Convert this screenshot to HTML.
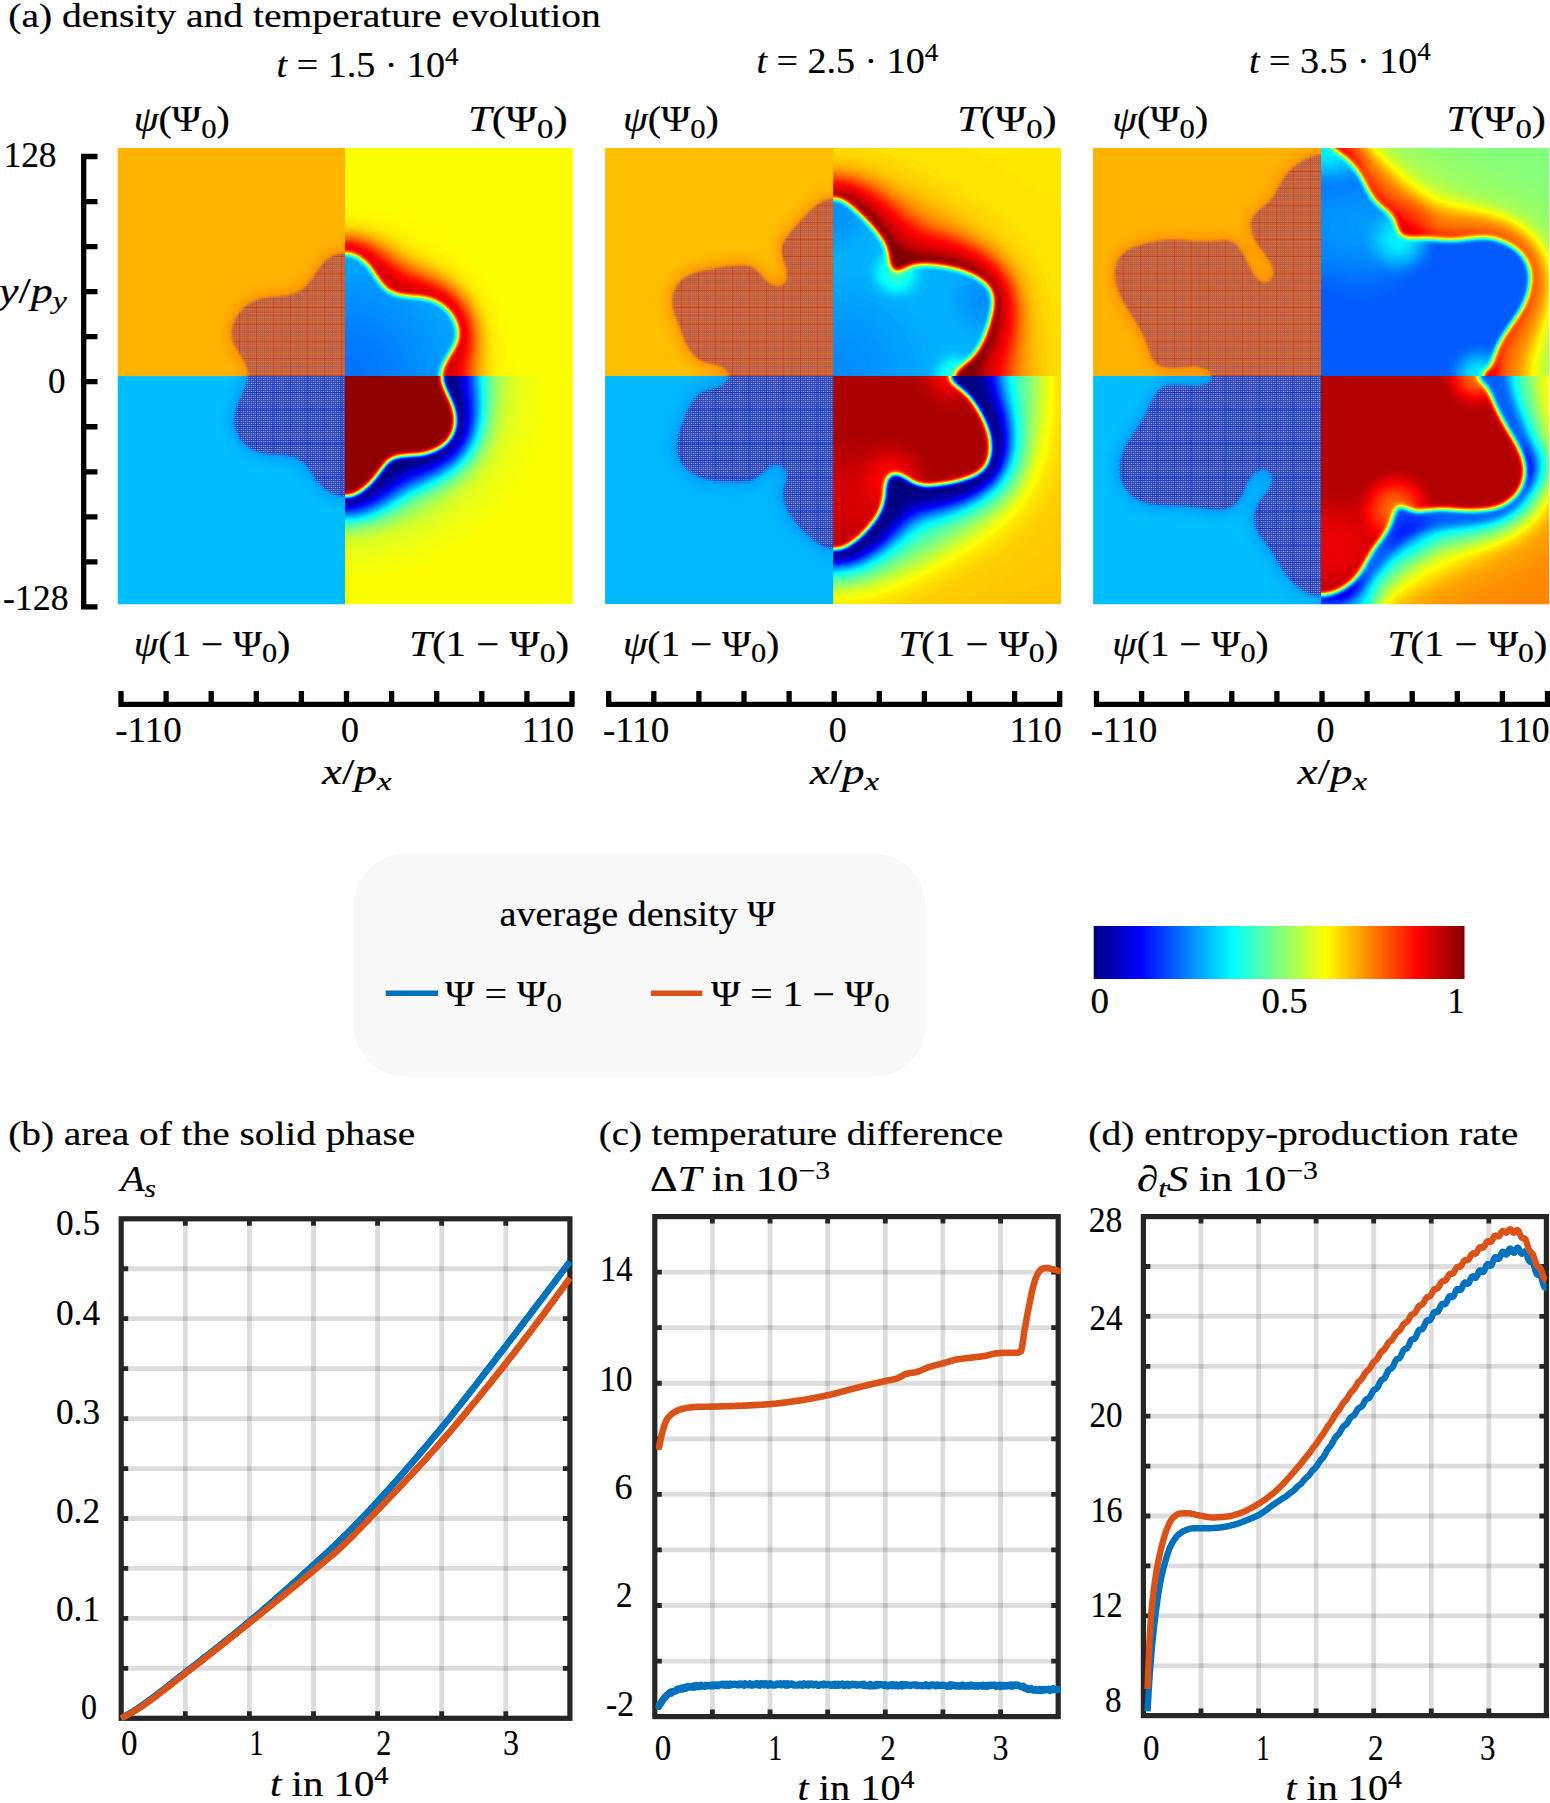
<!DOCTYPE html>
<html lang="en"><head><meta charset="utf-8"><title>density and temperature evolution</title>
<style>html,body{margin:0;padding:0;background:#fff}svg{display:block}text{font-family:'Liberation Serif', 'DejaVu Serif', serif;fill:#000;stroke:#000;stroke-width:0.2px}</style>
</head><body>
<svg width="1550" height="1803" viewBox="0 0 1550 1803">
<rect width="1550" height="1803" fill="#fff"/>
<text x="8.3" y="27" font-size="34" text-anchor="start" textLength="592.5" lengthAdjust="spacingAndGlyphs">(a) density and temperature evolution</text>
<text x="276.6" y="77" font-size="36.5" text-anchor="start" textLength="182" lengthAdjust="spacingAndGlyphs"><tspan font-style="italic">t</tspan> = 1.5 · 10<tspan dy="-12.5" font-size="26">4</tspan><tspan dy="12.5" font-size="1">&#8203;</tspan></text>
<text x="133.8" y="131" font-size="35" text-anchor="start" textLength="96" lengthAdjust="spacingAndGlyphs"><tspan font-style="italic">ψ</tspan>(Ψ<tspan dy="6.5" font-size="27">0</tspan><tspan dy="-6.5" font-size="1">&#8203;</tspan>)</text>
<text x="567.6" y="131" font-size="35" text-anchor="end" textLength="99.5" lengthAdjust="spacingAndGlyphs"><tspan font-style="italic">T</tspan>(Ψ<tspan dy="6.5" font-size="27">0</tspan><tspan dy="-6.5" font-size="1">&#8203;</tspan>)</text>
<text x="133.8" y="655.8" font-size="35" text-anchor="start" textLength="156.5" lengthAdjust="spacingAndGlyphs"><tspan font-style="italic">ψ</tspan>(1 − Ψ<tspan dy="6.5" font-size="27">0</tspan><tspan dy="-6.5" font-size="1">&#8203;</tspan>)</text>
<text x="569.1999999999999" y="655.8" font-size="35" text-anchor="end" textLength="160" lengthAdjust="spacingAndGlyphs"><tspan font-style="italic">T</tspan>(1 − Ψ<tspan dy="6.5" font-size="27">0</tspan><tspan dy="-6.5" font-size="1">&#8203;</tspan>)</text>
<path d="M118.4 704.3H574.6M121.00 704.3V691.0M166.10 704.3V691.0M211.20 704.3V691.0M256.30 704.3V691.0M301.40 704.3V691.0M346.50 704.3V691.0M391.60 704.3V691.0M436.70 704.3V691.0M481.80 704.3V691.0M526.90 704.3V691.0M572.00 704.3V691.0" stroke="#000" stroke-width="5.3" fill="none"/>
<text x="115.2" y="742" font-size="35" text-anchor="start" textLength="66.5" lengthAdjust="spacingAndGlyphs">-110</text>
<text x="341" y="742" font-size="35" text-anchor="start" textLength="18" lengthAdjust="spacingAndGlyphs">0</text>
<text x="574" y="742" font-size="35" text-anchor="end" textLength="52" lengthAdjust="spacingAndGlyphs">110</text>
<text x="322" y="784.4" font-size="35.5" text-anchor="start" textLength="69.5" lengthAdjust="spacingAndGlyphs"><tspan font-style="italic">x</tspan>/<tspan font-style="italic">p</tspan><tspan dy="6" font-size="26" font-style="italic">x</tspan><tspan dy="-6" font-size="1">&#8203;</tspan></text>
<text x="756.4" y="73" font-size="36.5" text-anchor="start" textLength="182" lengthAdjust="spacingAndGlyphs"><tspan font-style="italic">t</tspan> = 2.5 · 10<tspan dy="-12.5" font-size="26">4</tspan><tspan dy="12.5" font-size="1">&#8203;</tspan></text>
<text x="622.9" y="131" font-size="35" text-anchor="start" textLength="96" lengthAdjust="spacingAndGlyphs"><tspan font-style="italic">ψ</tspan>(Ψ<tspan dy="6.5" font-size="27">0</tspan><tspan dy="-6.5" font-size="1">&#8203;</tspan>)</text>
<text x="1056.7" y="131" font-size="35" text-anchor="end" textLength="99.5" lengthAdjust="spacingAndGlyphs"><tspan font-style="italic">T</tspan>(Ψ<tspan dy="6.5" font-size="27">0</tspan><tspan dy="-6.5" font-size="1">&#8203;</tspan>)</text>
<text x="622.9" y="655.8" font-size="35" text-anchor="start" textLength="156.5" lengthAdjust="spacingAndGlyphs"><tspan font-style="italic">ψ</tspan>(1 − Ψ<tspan dy="6.5" font-size="27">0</tspan><tspan dy="-6.5" font-size="1">&#8203;</tspan>)</text>
<text x="1058.3" y="655.8" font-size="35" text-anchor="end" textLength="160" lengthAdjust="spacingAndGlyphs"><tspan font-style="italic">T</tspan>(1 − Ψ<tspan dy="6.5" font-size="27">0</tspan><tspan dy="-6.5" font-size="1">&#8203;</tspan>)</text>
<path d="M606.1 704.3H1062.3M608.70 704.3V691.0M653.80 704.3V691.0M698.90 704.3V691.0M744.00 704.3V691.0M789.10 704.3V691.0M834.20 704.3V691.0M879.30 704.3V691.0M924.40 704.3V691.0M969.50 704.3V691.0M1014.60 704.3V691.0M1059.70 704.3V691.0" stroke="#000" stroke-width="5.3" fill="none"/>
<text x="602.9" y="742" font-size="35" text-anchor="start" textLength="66.5" lengthAdjust="spacingAndGlyphs">-110</text>
<text x="828.7" y="742" font-size="35" text-anchor="start" textLength="18" lengthAdjust="spacingAndGlyphs">0</text>
<text x="1061.7" y="742" font-size="35" text-anchor="end" textLength="52" lengthAdjust="spacingAndGlyphs">110</text>
<text x="809.7" y="784.4" font-size="35.5" text-anchor="start" textLength="69.5" lengthAdjust="spacingAndGlyphs"><tspan font-style="italic">x</tspan>/<tspan font-style="italic">p</tspan><tspan dy="6" font-size="26" font-style="italic">x</tspan><tspan dy="-6" font-size="1">&#8203;</tspan></text>
<text x="1248.9" y="72.6" font-size="36.5" text-anchor="start" textLength="182" lengthAdjust="spacingAndGlyphs"><tspan font-style="italic">t</tspan> = 3.5 · 10<tspan dy="-12.5" font-size="26">4</tspan><tspan dy="12.5" font-size="1">&#8203;</tspan></text>
<text x="1112.2" y="131" font-size="35" text-anchor="start" textLength="96" lengthAdjust="spacingAndGlyphs"><tspan font-style="italic">ψ</tspan>(Ψ<tspan dy="6.5" font-size="27">0</tspan><tspan dy="-6.5" font-size="1">&#8203;</tspan>)</text>
<text x="1545.9" y="131" font-size="35" text-anchor="end" textLength="99.5" lengthAdjust="spacingAndGlyphs"><tspan font-style="italic">T</tspan>(Ψ<tspan dy="6.5" font-size="27">0</tspan><tspan dy="-6.5" font-size="1">&#8203;</tspan>)</text>
<text x="1112.2" y="655.8" font-size="35" text-anchor="start" textLength="156.5" lengthAdjust="spacingAndGlyphs"><tspan font-style="italic">ψ</tspan>(1 − Ψ<tspan dy="6.5" font-size="27">0</tspan><tspan dy="-6.5" font-size="1">&#8203;</tspan>)</text>
<text x="1547.5" y="655.8" font-size="35" text-anchor="end" textLength="160" lengthAdjust="spacingAndGlyphs"><tspan font-style="italic">T</tspan>(1 − Ψ<tspan dy="6.5" font-size="27">0</tspan><tspan dy="-6.5" font-size="1">&#8203;</tspan>)</text>
<path d="M1093.9 704.3H1550.1M1096.50 704.3V691.0M1141.60 704.3V691.0M1186.70 704.3V691.0M1231.80 704.3V691.0M1276.90 704.3V691.0M1322.00 704.3V691.0M1367.10 704.3V691.0M1412.20 704.3V691.0M1457.30 704.3V691.0M1502.40 704.3V691.0M1547.50 704.3V691.0" stroke="#000" stroke-width="5.3" fill="none"/>
<text x="1090.7" y="742" font-size="35" text-anchor="start" textLength="66.5" lengthAdjust="spacingAndGlyphs">-110</text>
<text x="1316.5" y="742" font-size="35" text-anchor="start" textLength="18" lengthAdjust="spacingAndGlyphs">0</text>
<text x="1549.5" y="742" font-size="35" text-anchor="end" textLength="52" lengthAdjust="spacingAndGlyphs">110</text>
<text x="1297.5" y="784.4" font-size="35.5" text-anchor="start" textLength="69.5" lengthAdjust="spacingAndGlyphs"><tspan font-style="italic">x</tspan>/<tspan font-style="italic">p</tspan><tspan dy="6" font-size="26" font-style="italic">x</tspan><tspan dy="-6" font-size="1">&#8203;</tspan></text>
<path d="M83.7 153.85V609.55M83.7 156.50H97.5M83.7 201.54H97.5M83.7 246.58H97.5M83.7 291.62H97.5M83.7 336.66H97.5M83.7 381.70H97.5M83.7 426.74H97.5M83.7 471.78H97.5M83.7 516.82H97.5M83.7 561.86H97.5M83.7 606.90H97.5" stroke="#000" stroke-width="5.3" fill="none"/>
<text x="3.5" y="167" font-size="35" text-anchor="start" textLength="53" lengthAdjust="spacingAndGlyphs">128</text>
<text x="48" y="392.5" font-size="36" text-anchor="start" textLength="17.5" lengthAdjust="spacingAndGlyphs">0</text>
<text x="3" y="610" font-size="35" text-anchor="start" textLength="65.5" lengthAdjust="spacingAndGlyphs">-128</text>
<text x="-1" y="302.5" font-size="36" text-anchor="start" textLength="68" lengthAdjust="spacingAndGlyphs"><tspan font-style="italic">y</tspan>/<tspan font-style="italic">p</tspan><tspan dy="6" font-size="26" font-style="italic">y</tspan><tspan dy="-6" font-size="1">&#8203;</tspan></text>
<defs>
<pattern id="pto" x="0" y="0" width="4" height="4" patternUnits="userSpaceOnUse"><rect width="4" height="4" fill="#e6541a"/><rect x="1" y="1" width="1" height="1" fill="#5f9fb8"/><rect x="3" y="3" width="1" height="1" fill="#5a8fc0"/><rect x="3" y="1" width="1" height="1" fill="#a98a6a"/><rect x="1" y="3" width="1" height="1" fill="#9a7f80"/><rect x="0" y="1" width="1" height="1" fill="#dc6228"/><rect x="2" y="1" width="1" height="1" fill="#dc6228"/><rect x="0" y="3" width="1" height="1" fill="#d85a2c"/><rect x="2" y="3" width="1" height="1" fill="#d85a2c"/></pattern>
<pattern id="ptb" x="0" y="0" width="4" height="4" patternUnits="userSpaceOnUse"><rect width="4" height="4" fill="#1742dc"/><rect x="1" y="1" width="1" height="1" fill="#d89a58"/><rect x="3" y="3" width="1" height="1" fill="#cfa070"/><rect x="3" y="1" width="1" height="1" fill="#7f7fa8"/><rect x="1" y="3" width="1" height="1" fill="#6f86b0"/><rect x="0" y="1" width="1" height="1" fill="#3560d4"/><rect x="2" y="1" width="1" height="1" fill="#3560d4"/><rect x="0" y="3" width="1" height="1" fill="#2f58d8"/><rect x="2" y="3" width="1" height="1" fill="#2f58d8"/></pattern>
<pattern id="moi" x="1" y="1" width="17" height="17" patternUnits="userSpaceOnUse"><rect x="0" y="0" width="1" height="17" fill="#b01010" fill-opacity="0.28"/><rect x="0" y="0" width="17" height="1" fill="#b01010" fill-opacity="0.28"/><rect x="8" y="0" width="1" height="17" fill="#3060c0" fill-opacity="0.16"/><rect x="0" y="8" width="17" height="1" fill="#3060c0" fill-opacity="0.16"/></pattern>
<pattern id="moib" x="1" y="1" width="17" height="17" patternUnits="userSpaceOnUse"><rect x="0" y="0" width="1" height="17" fill="#0010c0" fill-opacity="0.30"/><rect x="0" y="0" width="17" height="1" fill="#0010c0" fill-opacity="0.30"/><rect x="8" y="0" width="1" height="17" fill="#c08040" fill-opacity="0.14"/><rect x="0" y="8" width="17" height="1" fill="#c08040" fill-opacity="0.14"/></pattern>
<filter id="bl1" x="-10%" y="-10%" width="120%" height="120%"><feGaussianBlur stdDeviation="1.3"/></filter>
<filter id="bl5" x="-20%" y="-20%" width="140%" height="140%"><feGaussianBlur stdDeviation="7"/></filter>
<radialGradient id="bgg1"><stop offset="0" stop-color="rgb(0,26,0)"/><stop offset="0.35" stop-color="rgb(0,26,0)" stop-opacity="0.8"/><stop offset="1" stop-color="rgb(0,26,0)" stop-opacity="0"/></radialGradient>
<radialGradient id="bgg2"><stop offset="0" stop-color="rgb(0,51,0)"/><stop offset="0.35" stop-color="rgb(0,51,0)" stop-opacity="0.8"/><stop offset="1" stop-color="rgb(0,51,0)" stop-opacity="0"/></radialGradient>
<radialGradient id="bgg3"><stop offset="0" stop-color="rgb(0,76,0)"/><stop offset="0.35" stop-color="rgb(0,76,0)" stop-opacity="0.8"/><stop offset="1" stop-color="rgb(0,76,0)" stop-opacity="0"/></radialGradient>
<radialGradient id="bgg4"><stop offset="0" stop-color="rgb(0,102,0)"/><stop offset="0.35" stop-color="rgb(0,102,0)" stop-opacity="0.8"/><stop offset="1" stop-color="rgb(0,102,0)" stop-opacity="0"/></radialGradient>
<radialGradient id="bgg5"><stop offset="0" stop-color="rgb(0,128,0)"/><stop offset="0.35" stop-color="rgb(0,128,0)" stop-opacity="0.8"/><stop offset="1" stop-color="rgb(0,128,0)" stop-opacity="0"/></radialGradient>
<radialGradient id="bgg6"><stop offset="0" stop-color="rgb(0,153,0)"/><stop offset="0.35" stop-color="rgb(0,153,0)" stop-opacity="0.8"/><stop offset="1" stop-color="rgb(0,153,0)" stop-opacity="0"/></radialGradient>
<radialGradient id="bgg7"><stop offset="0" stop-color="rgb(0,178,0)"/><stop offset="0.35" stop-color="rgb(0,178,0)" stop-opacity="0.8"/><stop offset="1" stop-color="rgb(0,178,0)" stop-opacity="0"/></radialGradient>
<radialGradient id="bgg8"><stop offset="0" stop-color="rgb(0,204,0)"/><stop offset="0.35" stop-color="rgb(0,204,0)" stop-opacity="0.8"/><stop offset="1" stop-color="rgb(0,204,0)" stop-opacity="0"/></radialGradient>
<radialGradient id="bgg9"><stop offset="0" stop-color="rgb(0,230,0)"/><stop offset="0.35" stop-color="rgb(0,230,0)" stop-opacity="0.8"/><stop offset="1" stop-color="rgb(0,230,0)" stop-opacity="0"/></radialGradient>
<radialGradient id="bgg10"><stop offset="0" stop-color="rgb(0,255,0)"/><stop offset="0.35" stop-color="rgb(0,255,0)" stop-opacity="0.8"/><stop offset="1" stop-color="rgb(0,255,0)" stop-opacity="0"/></radialGradient>
<radialGradient id="bgb1"><stop offset="0" stop-color="rgb(0,0,26)"/><stop offset="0.35" stop-color="rgb(0,0,26)" stop-opacity="0.8"/><stop offset="1" stop-color="rgb(0,0,26)" stop-opacity="0"/></radialGradient>
<radialGradient id="bgb2"><stop offset="0" stop-color="rgb(0,0,51)"/><stop offset="0.35" stop-color="rgb(0,0,51)" stop-opacity="0.8"/><stop offset="1" stop-color="rgb(0,0,51)" stop-opacity="0"/></radialGradient>
<radialGradient id="bgb3"><stop offset="0" stop-color="rgb(0,0,76)"/><stop offset="0.35" stop-color="rgb(0,0,76)" stop-opacity="0.8"/><stop offset="1" stop-color="rgb(0,0,76)" stop-opacity="0"/></radialGradient>
<radialGradient id="bgb4"><stop offset="0" stop-color="rgb(0,0,102)"/><stop offset="0.35" stop-color="rgb(0,0,102)" stop-opacity="0.8"/><stop offset="1" stop-color="rgb(0,0,102)" stop-opacity="0"/></radialGradient>
<radialGradient id="bgb5"><stop offset="0" stop-color="rgb(0,0,128)"/><stop offset="0.35" stop-color="rgb(0,0,128)" stop-opacity="0.8"/><stop offset="1" stop-color="rgb(0,0,128)" stop-opacity="0"/></radialGradient>
<radialGradient id="bgb6"><stop offset="0" stop-color="rgb(0,0,153)"/><stop offset="0.35" stop-color="rgb(0,0,153)" stop-opacity="0.8"/><stop offset="1" stop-color="rgb(0,0,153)" stop-opacity="0"/></radialGradient>
<radialGradient id="bgb7"><stop offset="0" stop-color="rgb(0,0,178)"/><stop offset="0.35" stop-color="rgb(0,0,178)" stop-opacity="0.8"/><stop offset="1" stop-color="rgb(0,0,178)" stop-opacity="0"/></radialGradient>
<radialGradient id="bgb8"><stop offset="0" stop-color="rgb(0,0,204)"/><stop offset="0.35" stop-color="rgb(0,0,204)" stop-opacity="0.8"/><stop offset="1" stop-color="rgb(0,0,204)" stop-opacity="0"/></radialGradient>
<radialGradient id="bgb9"><stop offset="0" stop-color="rgb(0,0,230)"/><stop offset="0.35" stop-color="rgb(0,0,230)" stop-opacity="0.8"/><stop offset="1" stop-color="rgb(0,0,230)" stop-opacity="0"/></radialGradient>
<radialGradient id="bgb10"><stop offset="0" stop-color="rgb(0,0,255)"/><stop offset="0.35" stop-color="rgb(0,0,255)" stop-opacity="0.8"/><stop offset="1" stop-color="rgb(0,0,255)" stop-opacity="0"/></radialGradient>
<path id="s0Tt" d="M345.0 252.9C346.5 253.0 348.0 253.1 349.4 253.4C350.9 253.7 352.4 254.2 353.8 254.7C355.3 255.2 356.7 255.9 358.0 256.6C359.4 257.4 360.7 258.2 361.9 259.2C363.2 260.1 364.4 261.1 365.5 262.1C366.6 263.2 367.6 264.3 368.6 265.4C369.6 266.6 370.5 267.8 371.4 269.1C372.3 270.3 373.1 271.6 374.0 272.9C374.9 274.3 375.8 275.6 376.7 277.0C377.6 278.3 378.5 279.7 379.5 281.0C380.4 282.3 381.4 283.6 382.5 284.8C383.5 286.0 384.6 287.2 385.7 288.2C386.9 289.2 388.0 290.1 389.3 290.8C390.5 291.6 391.8 292.2 393.1 292.8C394.5 293.3 395.9 293.8 397.3 294.2C398.7 294.6 400.1 294.8 401.6 295.1C403.1 295.4 404.6 295.6 406.1 295.7C407.6 295.9 409.2 296.0 410.7 296.2C412.2 296.3 413.8 296.4 415.4 296.6C416.9 296.7 418.5 296.9 420.0 297.0C421.6 297.2 423.2 297.4 424.7 297.7C426.2 298.0 427.7 298.3 429.2 298.7C430.7 299.1 432.2 299.6 433.7 300.2C435.1 300.8 436.5 301.4 437.9 302.2C439.3 303.0 440.6 303.8 441.9 304.7C443.2 305.7 444.4 306.7 445.6 307.7C446.7 308.8 447.9 309.9 448.9 311.1C449.9 312.2 450.9 313.5 451.8 314.8C452.7 316.0 453.5 317.4 454.2 318.7C455.0 320.1 455.6 321.4 456.1 322.8C456.7 324.3 457.1 325.7 457.4 327.1C457.8 328.6 458.0 330.0 458.1 331.5C458.2 332.9 458.2 334.4 458.1 335.9C457.9 337.3 457.6 338.7 457.2 340.2C456.9 341.6 456.3 343.0 455.7 344.4C455.1 345.8 454.3 347.2 453.6 348.6C452.8 350.0 452.0 351.3 451.2 352.7C450.3 354.1 449.4 355.5 448.6 356.9C447.8 358.3 446.9 359.7 446.2 361.1C445.4 362.5 444.6 363.9 444.0 365.3C443.4 366.8 442.8 368.2 442.4 369.7C442.0 371.1 441.6 372.6 441.5 374.0C441.3 375.5 441.3 376.9 441.5 378.4C441.7 379.8 442.0 381.2 442.4 382.6C442.9 384.0 443.5 385.4 444.1 386.8C444.7 388.2 445.5 389.6 446.3 391.0C447.0 392.4 447.9 393.7 448.7 395.1C449.6 396.5 450.4 397.9 451.3 399.3C452.1 400.6 452.9 402.0 453.7 403.4C454.4 404.8 455.2 406.2 455.8 407.7C456.4 409.1 456.9 410.5 457.3 411.9C457.7 413.4 457.9 414.9 458.1 416.3C458.2 417.8 458.2 419.3 458.1 420.7C458.0 422.2 457.7 423.7 457.4 425.1C457.1 426.6 456.6 428.0 456.1 429.5C455.5 430.9 454.9 432.3 454.1 433.6C453.4 435.0 452.6 436.3 451.7 437.6C450.8 438.9 449.8 440.1 448.8 441.3C447.7 442.5 446.6 443.6 445.4 444.7C444.3 445.7 443.0 446.7 441.8 447.6C440.5 448.5 439.2 449.4 437.8 450.1C436.5 450.8 435.0 451.5 433.6 452.1C432.2 452.6 430.7 453.1 429.3 453.4C427.8 453.8 426.3 454.1 424.8 454.4C423.3 454.6 421.7 454.8 420.2 455.0C418.7 455.1 417.1 455.2 415.6 455.4C414.0 455.5 412.5 455.6 410.9 455.7C409.4 455.9 407.8 456.0 406.3 456.2C404.8 456.4 403.2 456.6 401.7 457.0C400.2 457.3 398.7 457.6 397.3 458.1C395.8 458.5 394.4 459.0 393.0 459.6C391.6 460.2 390.3 460.9 389.0 461.7C387.8 462.5 386.6 463.4 385.5 464.3C384.3 465.3 383.3 466.4 382.3 467.5C381.3 468.7 380.4 469.9 379.5 471.1C378.6 472.4 377.7 473.7 376.8 475.0C375.9 476.3 375.1 477.6 374.2 478.9C373.3 480.3 372.5 481.6 371.5 482.9C370.6 484.2 369.7 485.5 368.7 486.7C367.6 487.9 366.6 489.1 365.5 490.2C364.3 491.3 363.1 492.3 361.9 493.2C360.6 494.1 359.3 495.0 358.0 495.7C356.6 496.5 355.2 497.1 353.8 497.6C352.4 498.1 350.9 498.6 349.4 498.8C348.0 499.1 346.5 499.2 345.0 499.2C343.5 499.2 342.0 499.0 340.6 498.8C339.1 498.5 337.6 498.0 336.2 497.5C334.8 497.0 333.3 496.3 332.0 495.6C330.6 494.8 329.3 494.0 328.1 493.1C326.8 492.2 325.6 491.2 324.5 490.1C323.4 489.0 322.4 487.9 321.4 486.7C320.4 485.6 319.5 484.4 318.6 483.1C317.7 481.8 316.9 480.5 316.0 479.2C315.1 477.9 314.2 476.5 313.3 475.2C312.4 473.8 311.5 472.4 310.5 471.2C309.6 469.9 308.6 468.6 307.5 467.4C306.5 466.2 305.4 465.1 304.3 464.1C303.1 463.1 302.0 462.2 300.7 461.5C299.5 460.7 298.2 460.1 296.9 459.5C295.5 458.9 294.1 458.5 292.7 458.1C291.3 457.7 289.9 457.4 288.4 457.1C286.9 456.8 285.4 456.6 283.9 456.4C282.4 456.2 280.8 456.1 279.3 455.9C277.8 455.8 276.2 455.7 274.6 455.5C273.1 455.3 271.5 455.2 270.0 455.0C268.4 454.8 266.8 454.6 265.3 454.3C263.8 454.0 262.3 453.7 260.8 453.3C259.3 452.9 257.8 452.5 256.3 451.9C254.9 451.3 253.5 450.7 252.1 449.9C250.7 449.2 249.4 448.4 248.1 447.5C246.8 446.6 245.6 445.6 244.4 444.6C243.3 443.6 242.2 442.5 241.1 441.3C240.1 440.2 239.1 439.0 238.2 437.7C237.3 436.4 236.5 435.1 235.8 433.8C235.0 432.4 234.4 431.0 233.9 429.6C233.3 428.1 232.9 426.7 232.5 425.2C232.2 423.7 232.0 422.2 231.9 420.7C231.8 419.2 231.8 417.7 231.9 416.2C232.1 414.7 232.3 413.2 232.7 411.8C233.1 410.3 233.7 408.9 234.3 407.5C234.9 406.1 235.7 404.8 236.5 403.4C237.2 402.1 238.1 400.7 238.9 399.4C239.8 398.0 240.7 396.7 241.5 395.3C242.3 394.0 243.2 392.6 243.9 391.2C244.7 389.8 245.4 388.4 246.0 387.0C246.6 385.6 247.2 384.1 247.6 382.7C248.0 381.2 248.3 379.7 248.4 378.3C248.5 376.8 248.5 375.3 248.4 373.9C248.2 372.4 247.9 371.0 247.5 369.6C247.1 368.1 246.6 366.7 246.0 365.3C245.4 363.9 244.6 362.5 243.9 361.1C243.2 359.7 242.3 358.3 241.5 356.9C240.7 355.5 239.8 354.2 239.0 352.8C238.1 351.4 237.3 350.1 236.5 348.7C235.7 347.3 235.0 345.9 234.3 344.5C233.7 343.1 233.1 341.7 232.7 340.3C232.3 338.9 232.0 337.4 231.9 336.0C231.7 334.5 231.7 333.0 231.8 331.5C231.9 330.1 232.1 328.6 232.5 327.1C232.8 325.7 233.3 324.2 233.8 322.8C234.4 321.4 235.0 319.9 235.7 318.6C236.5 317.2 237.3 315.9 238.2 314.6C239.1 313.3 240.1 312.0 241.2 310.9C242.2 309.7 243.4 308.6 244.6 307.5C245.8 306.5 247.0 305.5 248.3 304.6C249.6 303.7 250.9 302.8 252.3 302.1C253.7 301.3 255.1 300.7 256.5 300.1C257.9 299.6 259.4 299.1 260.8 298.7C262.3 298.4 263.8 298.1 265.3 297.8C266.8 297.6 268.3 297.4 269.8 297.3C271.4 297.1 272.9 297.0 274.4 296.8C276.0 296.7 277.5 296.6 279.0 296.5C280.6 296.3 282.1 296.2 283.6 296.0C285.2 295.8 286.7 295.6 288.2 295.3C289.7 294.9 291.2 294.6 292.7 294.1C294.2 293.7 295.6 293.2 297.0 292.6C298.4 291.9 299.7 291.3 301.0 290.5C302.2 289.7 303.4 288.8 304.6 287.8C305.7 286.9 306.7 285.8 307.7 284.7C308.7 283.5 309.6 282.3 310.6 281.1C311.5 279.8 312.3 278.5 313.2 277.2C314.1 275.9 314.9 274.6 315.8 273.3C316.7 272.0 317.5 270.6 318.5 269.3C319.4 268.0 320.3 266.8 321.3 265.5C322.3 264.3 323.4 263.1 324.5 262.1C325.6 261.0 326.9 259.9 328.1 259.0C329.4 258.1 330.7 257.2 332.0 256.5C333.4 255.7 334.8 255.1 336.2 254.5C337.6 254.0 339.1 253.6 340.5 253.3C342.0 253.1 343.5 252.9 345.0 252.9Z"/>
<path id="s0Tb" d="M345.1 255.8C346.6 255.8 348.1 255.9 349.5 256.1C351.0 256.4 352.4 256.7 353.8 257.2C355.2 257.7 356.6 258.2 357.9 258.9C359.2 259.5 360.5 260.3 361.8 261.1C363.1 261.9 364.3 262.9 365.5 263.8C366.6 264.8 367.8 265.8 368.8 266.9C369.9 268.0 370.9 269.2 371.9 270.4C372.9 271.6 373.8 272.8 374.7 274.1C375.6 275.3 376.4 276.6 377.3 277.9C378.2 279.1 379.0 280.4 379.9 281.6C380.8 282.8 381.7 284.1 382.7 285.2C383.7 286.3 384.7 287.4 385.8 288.4C386.8 289.4 388.0 290.3 389.2 291.2C390.4 292.0 391.6 292.8 392.9 293.4C394.2 294.1 395.6 294.7 396.9 295.2C398.3 295.6 399.7 296.0 401.2 296.3C402.6 296.6 404.1 296.8 405.6 296.9C407.1 297.1 408.6 297.1 410.1 297.2C411.6 297.3 413.2 297.4 414.7 297.4C416.2 297.5 417.8 297.6 419.3 297.8C420.9 297.9 422.4 298.1 423.9 298.4C425.4 298.7 427.0 299.0 428.4 299.4C429.9 299.8 431.4 300.2 432.8 300.8C434.2 301.3 435.6 301.9 437.0 302.5C438.3 303.2 439.6 303.9 440.9 304.7C442.1 305.6 443.3 306.4 444.4 307.4C445.5 308.3 446.6 309.4 447.6 310.5C448.5 311.6 449.5 312.7 450.3 314.0C451.1 315.2 451.8 316.6 452.5 318.0C453.1 319.3 453.6 320.8 454.1 322.2C454.5 323.7 454.9 325.2 455.2 326.7C455.4 328.2 455.6 329.7 455.6 331.2C455.6 332.7 455.6 334.2 455.4 335.6C455.3 337.1 455.0 338.5 454.6 340.0C454.3 341.4 453.9 342.9 453.4 344.3C452.9 345.7 452.4 347.2 451.8 348.6C451.2 350.0 450.6 351.4 450.0 352.9C449.4 354.3 448.7 355.7 448.0 357.1C447.4 358.6 446.7 360.0 446.1 361.4C445.5 362.8 444.9 364.3 444.4 365.7C443.9 367.1 443.5 368.5 443.1 369.9C442.8 371.3 442.5 372.8 442.4 374.1C442.2 375.5 442.2 376.9 442.3 378.3C442.5 379.7 442.7 381.1 443.1 382.4C443.4 383.8 443.9 385.1 444.4 386.5C444.9 387.9 445.5 389.2 446.1 390.6C446.7 392.0 447.3 393.4 448.0 394.7C448.7 396.1 449.4 397.5 450.0 399.0C450.7 400.4 451.3 401.8 451.9 403.2C452.5 404.7 453.1 406.2 453.5 407.7C454.0 409.2 454.4 410.7 454.7 412.2C455.0 413.8 455.2 415.3 455.4 416.9C455.5 418.4 455.5 420.0 455.5 421.5C455.4 423.0 455.3 424.6 455.1 426.0C454.8 427.5 454.5 429.0 454.0 430.4C453.6 431.7 453.0 433.1 452.4 434.4C451.8 435.6 451.1 436.9 450.2 438.0C449.4 439.2 448.5 440.3 447.6 441.4C446.6 442.4 445.6 443.4 444.5 444.4C443.4 445.3 442.2 446.2 441.0 447.0C439.7 447.9 438.4 448.6 437.1 449.3C435.8 450.0 434.4 450.7 433.0 451.2C431.6 451.8 430.1 452.3 428.6 452.8C427.1 453.2 425.6 453.6 424.0 453.9C422.5 454.2 420.9 454.5 419.4 454.7C417.8 454.9 416.2 455.0 414.6 455.1C413.0 455.2 411.5 455.3 409.9 455.4C408.3 455.5 406.8 455.5 405.3 455.7C403.7 455.8 402.2 455.9 400.8 456.2C399.4 456.4 397.9 456.6 396.6 457.0C395.3 457.4 394.0 457.9 392.7 458.5C391.5 459.1 390.4 459.8 389.3 460.6C388.2 461.5 387.2 462.5 386.2 463.6C385.2 464.6 384.3 465.8 383.4 467.0C382.4 468.2 381.5 469.4 380.6 470.7C379.6 472.0 378.7 473.3 377.7 474.5C376.8 475.8 375.8 477.1 374.8 478.3C373.7 479.5 372.7 480.7 371.6 481.9C370.5 483.0 369.4 484.2 368.3 485.3C367.2 486.3 366.0 487.4 364.8 488.3C363.6 489.3 362.4 490.2 361.2 491.0C360.0 491.8 358.7 492.6 357.4 493.3C356.2 493.9 354.9 494.5 353.5 494.9C352.2 495.4 350.9 495.8 349.5 496.0C348.1 496.3 346.7 496.4 345.3 496.4C343.9 496.4 342.5 496.3 341.1 496.1C339.6 495.8 338.2 495.5 336.7 495.0C335.3 494.6 333.9 494.0 332.5 493.3C331.1 492.7 329.7 491.9 328.4 491.1C327.0 490.3 325.7 489.4 324.5 488.4C323.2 487.4 322.0 486.4 320.9 485.3C319.8 484.2 318.7 483.0 317.7 481.8C316.7 480.6 315.8 479.4 315.0 478.1C314.1 476.9 313.3 475.6 312.5 474.3C311.6 473.1 310.8 471.8 310.0 470.6C309.1 469.3 308.3 468.1 307.3 467.0C306.4 465.9 305.4 464.8 304.4 463.8C303.3 462.8 302.1 461.9 300.9 461.0C299.7 460.2 298.5 459.4 297.2 458.8C295.9 458.1 294.5 457.5 293.1 457.0C291.7 456.6 290.3 456.2 288.8 455.9C287.4 455.6 285.9 455.4 284.4 455.3C282.9 455.1 281.4 455.1 279.9 455.0C278.3 454.9 276.8 454.8 275.3 454.8C273.7 454.7 272.2 454.6 270.7 454.4C269.1 454.3 267.6 454.1 266.1 453.8C264.5 453.5 263.0 453.2 261.6 452.8C260.1 452.4 258.6 452.0 257.2 451.4C255.8 450.9 254.4 450.3 253.0 449.7C251.7 449.0 250.4 448.3 249.1 447.5C247.9 446.6 246.7 445.8 245.6 444.8C244.5 443.9 243.4 442.8 242.4 441.7C241.5 440.6 240.6 439.5 239.7 438.2C238.9 437.0 238.2 435.6 237.5 434.2C236.9 432.9 236.4 431.4 235.9 430.0C235.5 428.5 235.1 427.0 234.8 425.5C234.6 424.0 234.4 422.5 234.4 421.0C234.4 419.5 234.4 418.0 234.6 416.6C234.7 415.1 235.0 413.7 235.4 412.2C235.7 410.8 236.1 409.3 236.6 407.9C237.1 406.5 237.6 405.0 238.2 403.6C238.8 402.2 239.4 400.8 240.0 399.3C240.6 397.9 241.3 396.5 242.0 395.1C242.6 393.6 243.3 392.2 243.9 390.8C244.5 389.4 245.1 387.9 245.6 386.5C246.1 385.1 246.5 383.7 246.9 382.3C247.2 380.9 247.5 379.4 247.6 378.0C247.8 376.7 247.8 375.3 247.6 373.9C247.5 372.5 247.3 371.1 246.9 369.8C246.6 368.4 246.1 367.1 245.6 365.7C245.1 364.3 244.6 363.0 244.0 361.6C243.4 360.2 242.7 358.8 242.0 357.5C241.4 356.1 240.7 354.7 240.0 353.3C239.4 351.8 238.7 350.4 238.1 349.0C237.5 347.5 237.0 346.0 236.5 344.5C236.0 343.0 235.6 341.5 235.3 340.0C235.0 338.4 234.8 336.9 234.6 335.3C234.5 333.8 234.4 332.2 234.5 330.7C234.5 329.1 234.6 327.6 234.9 326.1C235.1 324.7 235.5 323.2 235.9 321.8C236.3 320.4 236.9 319.1 237.5 317.8C238.2 316.5 238.9 315.3 239.7 314.2C240.5 313.0 241.5 311.9 242.4 310.8C243.4 309.8 244.5 308.8 245.6 307.8C246.7 306.9 247.9 306.0 249.1 305.2C250.4 304.4 251.7 303.6 253.0 302.9C254.3 302.2 255.7 301.6 257.1 301.0C258.6 300.4 260.0 299.9 261.5 299.4C263.0 299.0 264.5 298.6 266.0 298.3C267.6 298.0 269.1 297.7 270.7 297.5C272.2 297.3 273.8 297.2 275.3 297.1C276.9 297.0 278.4 296.9 280.0 296.8C281.5 296.7 283.0 296.7 284.5 296.5C286.0 296.4 287.5 296.3 288.9 296.0C290.4 295.8 291.8 295.5 293.1 295.2C294.5 294.8 295.8 294.3 297.1 293.7C298.4 293.1 299.6 292.4 300.8 291.5C301.9 290.7 303.0 289.7 304.1 288.7C305.2 287.6 306.2 286.4 307.2 285.2C308.2 284.1 309.1 282.8 310.0 281.5C311.0 280.3 311.9 279.0 312.8 277.7C313.7 276.4 314.6 275.2 315.5 273.9C316.4 272.7 317.3 271.5 318.3 270.3C319.2 269.2 320.2 268.0 321.2 266.9C322.2 265.9 323.3 264.8 324.4 263.9C325.5 262.9 326.7 262.0 328.0 261.2C329.2 260.3 330.6 259.6 331.9 258.9C333.3 258.3 334.7 257.7 336.2 257.2C337.7 256.8 339.2 256.4 340.6 256.2C342.1 255.9 343.6 255.8 345.1 255.8Z"/>
<filter id="tf0top" filterUnits="userSpaceOnUse" x="155.0" y="-41.9" width="608.0" height="608.0" color-interpolation-filters="sRGB">
<feColorMatrix in="SourceGraphic" type="matrix" values="1 0 0 0 0  1 0 0 0 0  1 0 0 0 0  0 0 0 0 1" result="M"/>
<feGaussianBlur in="M" stdDeviation="8" result="B1"/>
<feGaussianBlur in="M" stdDeviation="20" result="B2"/>
<feGaussianBlur in="M" stdDeviation="60" result="B3"/>
<feComposite in="B1" in2="B2" operator="arithmetic" k1="0" k2="0.3" k3="0.4" k4="0" result="F12"/>
<feComposite in="F12" in2="B3" operator="arithmetic" k1="0" k2="1" k3="0.3" k4="0" result="F"/>
<feComponentTransfer in="F" result="TOUT0"><feFuncR type="table" tableValues="0.6250 0.6250 0.6250 0.6258 0.6269 0.6299 0.6332 0.6387 0.6466 0.6545 0.6681 0.6822 0.6962 0.7109 0.7269 0.7429 0.7590 0.7750 0.7893 0.8008 0.8123 0.8238 0.8352 0.8467 0.8582 0.8697 0.8729 0.8759 0.8789 0.8819 0.8849 0.8879 0.8909 0.8938 0.8968 0.8998 0.9094 0.9194 0.9200 0.9200 0.9200 0.9200 0.9200 0.9200 0.9200 0.9200 0.9200 0.9200 0.9200 0.9200 0.9200 0.9200 0.9200 0.9200 0.9200 0.9200 0.9200 0.9200 0.9200 0.9200 0.9200 0.9200 0.9200 0.9200 0.9200 0.9200 0.9200 0.9200 0.9200 0.9200 0.9200 0.9200 0.9200 0.9200 0.9200 0.9200 0.9200 0.9200 0.9200 0.9200 0.9200 0.9200 0.9200 0.9200 0.9200 0.9200 0.9200 0.9200 0.9200 0.9200 0.9200 0.9200 0.9200 0.9200 0.9200 0.9200 0.9200 0.9200 0.9200 0.9200 0.9200 0.9200 0.9200 0.9200 0.9200 0.9200 0.9200 0.9200 0.9200 0.9200 0.9200 0.9200 0.9200 0.9200 0.9200 0.9200 0.9200 0.9200 0.9200 0.9200 0.9200 0.9200 0.9200 0.9200 0.9200 0.9200 0.9200 0.9200 0.9200"/><feFuncG type="table" tableValues="0.6250 0.6250 0.6250 0.6258 0.6269 0.6299 0.6332 0.6387 0.6466 0.6545 0.6681 0.6822 0.6962 0.7109 0.7269 0.7429 0.7590 0.7750 0.7893 0.8008 0.8123 0.8238 0.8352 0.8467 0.8582 0.8697 0.8729 0.8759 0.8789 0.8819 0.8849 0.8879 0.8909 0.8938 0.8968 0.8998 0.9094 0.9194 0.9200 0.9200 0.9200 0.9200 0.9200 0.9200 0.9200 0.9200 0.9200 0.9200 0.9200 0.9200 0.9200 0.9200 0.9200 0.9200 0.9200 0.9200 0.9200 0.9200 0.9200 0.9200 0.9200 0.9200 0.9200 0.9200 0.9200 0.9200 0.9200 0.9200 0.9200 0.9200 0.9200 0.9200 0.9200 0.9200 0.9200 0.9200 0.9200 0.9200 0.9200 0.9200 0.9200 0.9200 0.9200 0.9200 0.9200 0.9200 0.9200 0.9200 0.9200 0.9200 0.9200 0.9200 0.9200 0.9200 0.9200 0.9200 0.9200 0.9200 0.9200 0.9200 0.9200 0.9200 0.9200 0.9200 0.9200 0.9200 0.9200 0.9200 0.9200 0.9200 0.9200 0.9200 0.9200 0.9200 0.9200 0.9200 0.9200 0.9200 0.9200 0.9200 0.9200 0.9200 0.9200 0.9200 0.9200 0.9200 0.9200 0.9200 0.9200"/><feFuncB type="table" tableValues="0.6250 0.6250 0.6250 0.6258 0.6269 0.6299 0.6332 0.6387 0.6466 0.6545 0.6681 0.6822 0.6962 0.7109 0.7269 0.7429 0.7590 0.7750 0.7893 0.8008 0.8123 0.8238 0.8352 0.8467 0.8582 0.8697 0.8729 0.8759 0.8789 0.8819 0.8849 0.8879 0.8909 0.8938 0.8968 0.8998 0.9094 0.9194 0.9200 0.9200 0.9200 0.9200 0.9200 0.9200 0.9200 0.9200 0.9200 0.9200 0.9200 0.9200 0.9200 0.9200 0.9200 0.9200 0.9200 0.9200 0.9200 0.9200 0.9200 0.9200 0.9200 0.9200 0.9200 0.9200 0.9200 0.9200 0.9200 0.9200 0.9200 0.9200 0.9200 0.9200 0.9200 0.9200 0.9200 0.9200 0.9200 0.9200 0.9200 0.9200 0.9200 0.9200 0.9200 0.9200 0.9200 0.9200 0.9200 0.9200 0.9200 0.9200 0.9200 0.9200 0.9200 0.9200 0.9200 0.9200 0.9200 0.9200 0.9200 0.9200 0.9200 0.9200 0.9200 0.9200 0.9200 0.9200 0.9200 0.9200 0.9200 0.9200 0.9200 0.9200 0.9200 0.9200 0.9200 0.9200 0.9200 0.9200 0.9200 0.9200 0.9200 0.9200 0.9200 0.9200 0.9200 0.9200 0.9200 0.9200 0.9200"/></feComponentTransfer>
<feGaussianBlur in="SourceGraphic" stdDeviation="4" result="GBL"/>
<feColorMatrix in="GBL" type="matrix" values="0 0 0 0 0.5  0 0 0 0 0.5  0 0 0 0 0.5  0 0 0 0 1" result="EXO"/>
<feComposite in="TOUT0" in2="EXO" operator="arithmetic" k1="0" k2="1" k3="1" k4="-0.5" result="TOUT1"/>
<feGaussianBlur in="TOUT1" stdDeviation="3.5" result="TOUT"/>
<feColorMatrix in="GBL" type="matrix" values="0 0 -0.06 0 0.29  0 0 -0.06 0 0.29  0 0 -0.06 0 0.29  0 0 0 0 1" result="TIN"/>
<feGaussianBlur in="M" stdDeviation="2.4" result="C"/>
<feComponentTransfer in="C" result="CI"><feFuncR type="table" tableValues="1 0"/><feFuncG type="table" tableValues="1 0"/><feFuncB type="table" tableValues="1 0"/></feComponentTransfer>
<feComposite in="TOUT" in2="CI" operator="arithmetic" k1="1" k2="0" k3="0" k4="0" result="X"/>
<feComposite in="TIN" in2="C" operator="arithmetic" k1="1" k2="0" k3="0" k4="0" result="Y"/>
<feComposite in="X" in2="Y" operator="arithmetic" k1="0" k2="1" k3="1" k4="0" result="T"/>
<feComponentTransfer in="T"><feFuncR type="table" tableValues="0.0000 0.0000 0.0000 0.0000 0.5000 1.0000 1.0000 1.0000 0.5000"/><feFuncG type="table" tableValues="0.0000 0.0000 0.5000 1.0000 1.0000 1.0000 0.5000 0.0000 0.0000"/><feFuncB type="table" tableValues="0.5000 1.0000 1.0000 1.0000 0.5000 0.0000 0.0000 0.0000 0.0000"/><feFuncA type="linear" slope="0" intercept="1"/></feComponentTransfer>
</filter>
<filter id="tf0bot" filterUnits="userSpaceOnUse" x="155.0" y="186.1" width="608.0" height="608.0" color-interpolation-filters="sRGB">
<feColorMatrix in="SourceGraphic" type="matrix" values="1 0 0 0 0  1 0 0 0 0  1 0 0 0 0  0 0 0 0 1" result="M"/>
<feGaussianBlur in="M" stdDeviation="8" result="B1"/>
<feGaussianBlur in="M" stdDeviation="20" result="B2"/>
<feGaussianBlur in="M" stdDeviation="60" result="B3"/>
<feComposite in="B1" in2="B2" operator="arithmetic" k1="0" k2="0.3" k3="0.4" k4="0" result="F12"/>
<feComposite in="F12" in2="B3" operator="arithmetic" k1="0" k2="1" k3="0.3" k4="0" result="F"/>
<feComponentTransfer in="F" result="TOUT0"><feFuncR type="table" tableValues="0.6250 0.6250 0.6183 0.6085 0.5977 0.5817 0.5532 0.5247 0.4956 0.4626 0.4296 0.3966 0.3599 0.3163 0.2727 0.2409 0.2221 0.2032 0.1844 0.1656 0.1467 0.1279 0.1169 0.1074 0.0979 0.0884 0.0789 0.0694 0.0599 0.0504 0.0424 0.0345 0.0265 0.0186 0.0106 0.0027 0.0000 0.0000 0.0000 0.0000 0.0000 0.0000 0.0000 0.0000 0.0000 0.0000 0.0000 0.0000 0.0000 0.0000 0.0000 0.0000 0.0000 0.0000 0.0000 0.0000 0.0000 0.0000 0.0000 0.0000 0.0000 0.0000 0.0000 0.0000 0.0000 0.0000 0.0000 0.0000 0.0000 0.0000 0.0000 0.0000 0.0000 0.0000 0.0000 0.0000 0.0000 0.0000 0.0000 0.0000 0.0000 0.0000 0.0000 0.0000 0.0000 0.0000 0.0000 0.0000 0.0000 0.0000 0.0000 0.0000 0.0000 0.0000 0.0000 0.0000 0.0000 0.0000 0.0000 0.0000 0.0000 0.0000 0.0000 0.0000 0.0000 0.0000 0.0000 0.0000 0.0000 0.0000 0.0000 0.0000 0.0000 0.0000 0.0000 0.0000 0.0000 0.0000 0.0000 0.0000 0.0000 0.0000 0.0000 0.0000 0.0000 0.0000 0.0000 0.0000 0.0000"/><feFuncG type="table" tableValues="0.6250 0.6250 0.6183 0.6085 0.5977 0.5817 0.5532 0.5247 0.4956 0.4626 0.4296 0.3966 0.3599 0.3163 0.2727 0.2409 0.2221 0.2032 0.1844 0.1656 0.1467 0.1279 0.1169 0.1074 0.0979 0.0884 0.0789 0.0694 0.0599 0.0504 0.0424 0.0345 0.0265 0.0186 0.0106 0.0027 0.0000 0.0000 0.0000 0.0000 0.0000 0.0000 0.0000 0.0000 0.0000 0.0000 0.0000 0.0000 0.0000 0.0000 0.0000 0.0000 0.0000 0.0000 0.0000 0.0000 0.0000 0.0000 0.0000 0.0000 0.0000 0.0000 0.0000 0.0000 0.0000 0.0000 0.0000 0.0000 0.0000 0.0000 0.0000 0.0000 0.0000 0.0000 0.0000 0.0000 0.0000 0.0000 0.0000 0.0000 0.0000 0.0000 0.0000 0.0000 0.0000 0.0000 0.0000 0.0000 0.0000 0.0000 0.0000 0.0000 0.0000 0.0000 0.0000 0.0000 0.0000 0.0000 0.0000 0.0000 0.0000 0.0000 0.0000 0.0000 0.0000 0.0000 0.0000 0.0000 0.0000 0.0000 0.0000 0.0000 0.0000 0.0000 0.0000 0.0000 0.0000 0.0000 0.0000 0.0000 0.0000 0.0000 0.0000 0.0000 0.0000 0.0000 0.0000 0.0000 0.0000"/><feFuncB type="table" tableValues="0.6250 0.6250 0.6183 0.6085 0.5977 0.5817 0.5532 0.5247 0.4956 0.4626 0.4296 0.3966 0.3599 0.3163 0.2727 0.2409 0.2221 0.2032 0.1844 0.1656 0.1467 0.1279 0.1169 0.1074 0.0979 0.0884 0.0789 0.0694 0.0599 0.0504 0.0424 0.0345 0.0265 0.0186 0.0106 0.0027 0.0000 0.0000 0.0000 0.0000 0.0000 0.0000 0.0000 0.0000 0.0000 0.0000 0.0000 0.0000 0.0000 0.0000 0.0000 0.0000 0.0000 0.0000 0.0000 0.0000 0.0000 0.0000 0.0000 0.0000 0.0000 0.0000 0.0000 0.0000 0.0000 0.0000 0.0000 0.0000 0.0000 0.0000 0.0000 0.0000 0.0000 0.0000 0.0000 0.0000 0.0000 0.0000 0.0000 0.0000 0.0000 0.0000 0.0000 0.0000 0.0000 0.0000 0.0000 0.0000 0.0000 0.0000 0.0000 0.0000 0.0000 0.0000 0.0000 0.0000 0.0000 0.0000 0.0000 0.0000 0.0000 0.0000 0.0000 0.0000 0.0000 0.0000 0.0000 0.0000 0.0000 0.0000 0.0000 0.0000 0.0000 0.0000 0.0000 0.0000 0.0000 0.0000 0.0000 0.0000 0.0000 0.0000 0.0000 0.0000 0.0000 0.0000 0.0000 0.0000 0.0000"/></feComponentTransfer>
<feGaussianBlur in="SourceGraphic" stdDeviation="4" result="GBL"/>
<feColorMatrix in="GBL" type="matrix" values="0 0 0 0 0.5  0 0 0 0 0.5  0 0 0 0 0.5  0 0 0 0 1" result="EXO"/>
<feComposite in="TOUT0" in2="EXO" operator="arithmetic" k1="0" k2="1" k3="1" k4="-0.5" result="TOUT1"/>
<feGaussianBlur in="TOUT1" stdDeviation="3.5" result="TOUT"/>
<feColorMatrix in="GBL" type="matrix" values="0 0 0 0 0.985  0 0 0 0 0.985  0 0 0 0 0.985  0 0 0 0 1" result="TIN"/>
<feGaussianBlur in="M" stdDeviation="2.4" result="C"/>
<feComponentTransfer in="C" result="CI"><feFuncR type="table" tableValues="1 0"/><feFuncG type="table" tableValues="1 0"/><feFuncB type="table" tableValues="1 0"/></feComponentTransfer>
<feComposite in="TOUT" in2="CI" operator="arithmetic" k1="1" k2="0" k3="0" k4="0" result="X"/>
<feComposite in="TIN" in2="C" operator="arithmetic" k1="1" k2="0" k3="0" k4="0" result="Y"/>
<feComposite in="X" in2="Y" operator="arithmetic" k1="0" k2="1" k3="1" k4="0" result="T"/>
<feComponentTransfer in="T"><feFuncR type="table" tableValues="0.0000 0.0000 0.0000 0.0000 0.5000 1.0000 1.0000 1.0000 0.5000"/><feFuncG type="table" tableValues="0.0000 0.0000 0.5000 1.0000 1.0000 1.0000 0.5000 0.0000 0.0000"/><feFuncB type="table" tableValues="0.5000 1.0000 1.0000 1.0000 0.5000 0.0000 0.0000 0.0000 0.0000"/><feFuncA type="linear" slope="0" intercept="1"/></feComponentTransfer>
</filter>
<clipPath id="q0tl"><rect x="117.7" y="148.0" width="228.30" height="229.10"/></clipPath>
<clipPath id="q0tr"><rect x="345.0" y="148.0" width="227.80" height="229.10"/></clipPath>
<clipPath id="q0bl"><rect x="117.7" y="376.1" width="228.30" height="228.10"/></clipPath>
<clipPath id="q0br"><rect x="345.0" y="376.1" width="227.80" height="228.10"/></clipPath>
<mask id="m0t" maskUnits="userSpaceOnUse" x="112.0" y="143.10000000000002" width="238.0" height="238.0"><use href="#s0Tt" fill="#fff" filter="url(#bl1)"/></mask>
<mask id="m0b" maskUnits="userSpaceOnUse" x="112.0" y="371.1" width="238.0" height="238.0"><use href="#s0Tb" fill="#fff" filter="url(#bl1)"/></mask>
<path id="s1Tt" d="M833.4 198.1C835.7 198.0 838.0 198.4 840.1 199.1C842.3 199.8 844.4 201.0 846.4 202.3C848.4 203.6 850.4 205.2 852.3 206.7C854.2 208.3 856.0 210.1 857.8 211.7C859.6 213.4 861.3 215.1 863.0 216.7C864.7 218.4 866.4 220.0 868.0 221.7C869.6 223.4 871.2 225.1 872.7 226.9C874.2 228.6 875.7 230.4 877.1 232.3C878.6 234.2 880.1 236.2 881.4 238.2C882.7 240.2 884.0 242.3 885.0 244.5C886.0 246.6 886.9 248.9 887.5 251.1C888.1 253.3 888.2 255.6 888.7 258.0C889.2 260.3 889.5 263.1 890.5 265.2C891.6 267.4 893.3 270.1 895.1 270.9C896.9 271.7 899.2 270.7 901.4 270.1C903.5 269.4 905.9 267.7 908.2 266.9C910.4 266.1 912.8 265.5 915.1 265.1C917.4 264.6 919.8 264.4 922.2 264.3C924.5 264.2 926.9 264.3 929.2 264.4C931.6 264.5 933.9 264.7 936.3 265.0C938.6 265.3 940.9 265.6 943.2 265.9C945.5 266.3 947.7 266.7 950.0 267.2C952.3 267.7 954.6 268.2 956.8 268.8C959.1 269.5 961.4 270.2 963.7 271.0C966.0 271.8 968.3 272.7 970.6 273.8C972.9 274.8 975.3 275.9 977.4 277.2C979.6 278.5 981.8 279.9 983.6 281.4C985.5 282.9 987.2 284.6 988.6 286.4C989.9 288.2 991.0 290.1 991.7 292.1C992.5 294.2 992.9 296.4 993.2 298.6C993.4 300.8 993.4 303.2 993.2 305.5C993.0 307.9 992.6 310.3 992.2 312.8C991.7 315.2 991.1 317.6 990.4 320.0C989.8 322.5 989.1 324.9 988.3 327.2C987.6 329.6 986.8 331.9 985.9 334.1C985.0 336.4 984.1 338.6 983.1 340.7C982.1 342.8 981.0 344.9 979.8 346.9C978.6 348.9 977.4 350.8 976.0 352.6C974.6 354.5 973.0 356.2 971.4 357.9C969.8 359.5 968.0 361.0 966.2 362.6C964.4 364.2 962.5 365.8 960.8 367.5C959.1 369.3 956.8 371.3 955.9 373.2C955.0 375.1 954.7 377.2 955.4 379.0C956.2 380.8 958.6 382.4 960.5 384.0C962.4 385.6 964.8 387.2 966.7 388.8C968.6 390.4 970.3 392.0 971.8 393.8C973.4 395.5 974.7 397.2 976.0 399.1C977.3 401.0 978.4 403.0 979.5 405.0C980.7 407.1 981.7 409.3 982.7 411.5C983.7 413.7 984.6 416.0 985.5 418.2C986.4 420.5 987.3 422.8 988.1 425.1C988.9 427.3 989.8 429.6 990.5 431.8C991.3 434.0 992.0 436.2 992.5 438.5C993.1 440.8 993.5 443.1 993.6 445.5C993.8 447.9 993.8 450.4 993.5 452.8C993.2 455.1 992.6 457.6 991.8 459.8C990.9 462.0 989.7 464.1 988.2 465.9C986.8 467.8 984.9 469.4 983.1 470.9C981.2 472.4 979.2 473.7 977.1 474.9C975.1 476.1 972.9 477.1 970.8 478.1C968.6 479.0 966.4 479.8 964.1 480.6C961.8 481.3 959.5 482.0 957.2 482.6C954.9 483.1 952.6 483.7 950.2 484.1C947.9 484.6 945.5 485.1 943.1 485.5C940.8 485.9 938.4 486.4 936.0 486.8C933.7 487.2 931.4 487.6 929.0 487.9C926.7 488.1 924.4 488.3 922.1 488.2C919.8 488.1 917.4 487.9 915.1 487.2C912.8 486.6 910.5 485.3 908.2 484.3C905.9 483.3 903.5 481.5 901.4 481.1C899.2 480.6 897.0 480.5 895.2 481.4C893.4 482.3 891.6 484.4 890.5 486.5C889.4 488.5 889.1 491.2 888.5 493.6C888.0 496.0 888.0 498.6 887.5 500.9C886.9 503.2 886.1 505.4 885.1 507.5C884.1 509.6 882.9 511.6 881.5 513.5C880.2 515.5 878.7 517.4 877.2 519.2C875.7 521.1 874.1 522.9 872.5 524.7C870.9 526.5 869.2 528.3 867.6 530.1C866.1 531.9 864.5 533.7 862.9 535.4C861.3 537.1 859.7 538.9 858.0 540.5C856.3 542.1 854.6 543.7 852.7 545.1C850.8 546.6 848.9 548.0 846.7 549.1C844.6 550.3 842.3 551.5 839.9 552.3C837.6 553.0 835.1 553.7 832.8 553.7C830.6 553.8 828.3 553.4 826.2 552.7C824.1 551.9 822.1 550.8 820.1 549.5C818.1 548.2 816.2 546.6 814.4 545.1C812.5 543.5 810.6 541.7 808.8 540.1C807.0 538.4 805.2 536.8 803.4 535.1C801.6 533.4 799.9 531.8 798.2 530.1C796.5 528.4 794.9 526.7 793.3 524.9C791.8 523.1 790.3 521.3 789.0 519.5C787.6 517.6 786.3 515.6 785.1 513.6C784.0 511.6 782.9 509.5 781.9 507.3C781.0 505.2 780.1 503.0 779.3 500.7C778.5 498.4 777.8 496.1 777.2 493.7C776.5 491.4 776.4 488.6 775.5 486.5C774.6 484.5 773.5 482.1 771.7 481.2C770.0 480.3 767.1 480.9 764.8 481.4C762.5 481.9 760.2 483.3 757.9 484.2C755.7 485.2 753.6 486.2 751.4 486.9C749.1 487.6 747.0 488.2 744.6 488.4C742.3 488.6 739.9 488.4 737.5 488.1C735.0 487.8 732.5 487.2 730.1 486.7C727.7 486.2 725.3 485.8 723.0 485.3C720.7 484.9 718.4 484.5 716.2 484.1C713.9 483.7 711.7 483.3 709.4 482.7C707.2 482.2 705.0 481.6 702.7 480.9C700.5 480.1 698.2 479.3 695.9 478.3C693.6 477.3 691.2 476.1 689.1 474.8C686.9 473.5 684.7 472.1 682.8 470.5C681.0 468.9 679.2 467.2 677.8 465.4C676.5 463.6 675.4 461.6 674.6 459.5C673.8 457.5 673.4 455.3 673.2 453.1C672.9 450.9 673.0 448.5 673.2 446.2C673.3 443.8 673.7 441.4 674.2 439.0C674.7 436.6 675.3 434.2 676.0 431.8C676.6 429.4 677.4 427.0 678.1 424.7C678.9 422.3 679.7 420.0 680.5 417.8C681.4 415.5 682.3 413.3 683.3 411.1C684.3 409.0 685.4 406.9 686.6 404.9C687.8 402.9 689.0 401.0 690.4 399.1C691.8 397.3 693.3 395.5 695.0 393.9C696.6 392.2 698.4 390.7 700.2 389.1C702.0 387.6 703.9 386.1 705.6 384.3C707.4 382.5 709.6 380.5 710.5 378.6C711.4 376.7 711.7 374.6 711.0 372.8C710.2 371.0 707.8 369.4 705.9 367.8C704.0 366.2 701.6 364.6 699.7 363.0C697.8 361.4 696.1 359.8 694.6 358.0C693.0 356.3 691.7 354.6 690.4 352.7C689.1 350.8 688.0 348.8 686.9 346.8C685.7 344.7 684.7 342.5 683.7 340.3C682.7 338.1 681.8 335.8 680.9 333.6C680.0 331.3 679.1 329.0 678.3 326.7C677.5 324.5 676.6 322.2 675.9 320.0C675.1 317.8 674.4 315.6 673.9 313.3C673.3 311.0 672.9 308.7 672.8 306.3C672.6 303.9 672.6 301.4 672.9 299.0C673.2 296.7 673.8 294.2 674.6 292.0C675.5 289.8 676.7 287.7 678.2 285.9C679.6 284.0 681.5 282.4 683.3 280.9C685.2 279.4 687.2 278.1 689.3 276.9C691.3 275.7 693.5 274.7 695.6 273.7C697.8 272.8 700.0 272.0 702.3 271.2C704.6 270.5 706.9 269.8 709.2 269.2C711.5 268.7 713.8 268.1 716.2 267.7C718.6 267.2 720.9 266.7 723.3 266.3C725.6 265.9 728.0 265.4 730.4 265.0C732.7 264.6 735.0 264.2 737.4 263.9C739.7 263.7 742.0 263.5 744.3 263.6C746.6 263.7 749.0 263.9 751.3 264.6C753.6 265.2 755.9 266.5 758.2 267.5C760.5 268.5 762.9 270.3 765.0 270.7C767.2 271.2 769.4 271.3 771.2 270.4C773.0 269.5 774.8 267.4 775.9 265.3C777.0 263.3 777.3 260.6 777.9 258.2C778.4 255.8 778.4 253.2 778.9 250.9C779.5 248.6 780.3 246.4 781.3 244.3C782.3 242.2 783.5 240.2 784.9 238.3C786.2 236.3 787.7 234.4 789.2 232.6C790.7 230.7 792.3 228.9 793.9 227.1C795.5 225.3 797.1 223.5 798.7 221.7C800.3 219.9 801.9 218.1 803.5 216.4C805.1 214.7 806.8 212.9 808.5 211.3C810.2 209.7 811.9 208.1 813.8 206.7C815.6 205.2 817.6 203.8 819.7 202.7C821.8 201.5 824.1 200.3 826.4 199.5C828.7 198.8 831.1 198.1 833.4 198.1Z"/>
<path id="s1Tb" d="M833.0 202.2C835.3 202.3 837.6 202.6 839.9 203.2C842.2 203.8 844.5 204.7 846.8 205.8C849.0 206.8 851.2 208.1 853.3 209.5C855.4 210.9 857.4 212.4 859.3 214.0C861.2 215.6 862.9 217.3 864.6 219.0C866.3 220.8 867.8 222.6 869.3 224.5C870.8 226.3 872.2 228.3 873.6 230.2C874.9 232.2 876.2 234.3 877.4 236.3C878.7 238.4 879.9 240.5 880.9 242.7C881.9 244.8 882.8 247.0 883.5 249.3C884.2 251.6 884.7 254.0 885.0 256.5C885.3 258.9 885.0 261.5 885.3 264.0C885.7 266.4 885.9 269.1 886.9 271.3C887.9 273.4 889.4 275.6 891.1 276.7C892.9 277.7 895.3 277.9 897.5 277.6C899.7 277.2 902.2 275.8 904.4 274.7C906.6 273.6 908.7 272.0 910.8 270.9C913.0 269.7 915.0 268.4 917.3 267.7C919.6 267.0 922.0 266.6 924.4 266.4C926.8 266.3 929.4 266.5 931.8 266.7C934.3 266.8 936.7 267.1 939.1 267.3C941.5 267.6 943.8 267.9 946.2 268.3C948.5 268.6 950.8 269.1 953.1 269.6C955.4 270.1 957.8 270.7 960.1 271.3C962.4 272.0 964.8 272.7 967.2 273.6C969.5 274.4 972.0 275.3 974.2 276.4C976.5 277.5 978.7 278.8 980.6 280.3C982.4 281.7 984.1 283.5 985.4 285.4C986.7 287.2 987.8 289.4 988.6 291.5C989.4 293.7 990.0 296.1 990.4 298.5C990.7 300.9 990.9 303.4 990.8 305.8C990.8 308.3 990.5 310.8 990.1 313.2C989.7 315.6 989.0 318.0 988.3 320.3C987.6 322.7 986.7 324.9 985.8 327.1C984.8 329.3 983.8 331.5 982.7 333.7C981.6 335.8 980.5 337.9 979.3 340.1C978.2 342.2 977.2 344.4 976.0 346.5C974.8 348.6 973.8 350.7 972.3 352.6C970.8 354.5 969.1 356.1 967.3 357.7C965.4 359.3 963.1 360.6 961.1 362.1C959.2 363.6 957.0 365.0 955.3 366.8C953.6 368.6 951.8 370.8 951.1 372.8C950.4 374.9 950.3 377.2 951.0 379.2C951.8 381.1 953.8 382.8 955.5 384.5C957.3 386.2 959.7 387.7 961.7 389.4C963.6 391.0 965.4 392.7 967.1 394.4C968.8 396.1 970.3 397.9 971.7 399.7C973.1 401.6 974.4 403.4 975.7 405.4C977.0 407.3 978.3 409.3 979.5 411.4C980.7 413.5 981.9 415.7 983.0 417.9C984.0 420.0 985.1 422.3 986.0 424.6C986.9 426.9 987.7 429.2 988.4 431.6C989.1 433.9 989.7 436.3 990.1 438.7C990.5 441.1 990.7 443.5 990.7 446.0C990.8 448.4 990.7 450.9 990.3 453.2C989.9 455.6 989.4 458.0 988.6 460.2C987.7 462.4 986.7 464.6 985.4 466.5C984.0 468.4 982.4 470.1 980.6 471.6C978.7 473.1 976.5 474.3 974.3 475.4C972.0 476.5 969.5 477.4 967.2 478.2C964.8 479.0 962.5 479.8 960.1 480.4C957.8 481.1 955.5 481.7 953.1 482.2C950.8 482.7 948.5 483.1 946.1 483.5C943.8 483.9 941.5 484.2 939.1 484.5C936.7 484.8 934.3 485.0 931.8 485.2C929.4 485.3 926.8 485.5 924.4 485.4C922.0 485.2 919.6 484.8 917.3 484.1C915.1 483.3 913.0 482.1 910.8 480.9C908.7 479.8 906.6 478.2 904.4 477.1C902.2 476.0 899.6 474.6 897.4 474.2C895.2 473.9 892.9 474.1 891.2 475.1C889.4 476.2 888.0 478.4 887.0 480.5C886.1 482.6 885.7 485.3 885.3 487.8C884.9 490.3 885.0 493.0 884.7 495.5C884.3 497.9 883.9 500.3 883.3 502.6C882.7 504.9 881.9 507.1 881.0 509.2C880.1 511.3 879.0 513.4 877.9 515.4C876.7 517.4 875.4 519.4 874.0 521.3C872.6 523.2 871.0 525.1 869.4 527.0C867.8 528.9 866.1 530.8 864.4 532.6C862.6 534.5 860.7 536.3 858.8 538.0C856.9 539.6 854.9 541.2 852.8 542.6C850.8 544.0 848.7 545.3 846.6 546.4C844.4 547.4 842.3 548.2 840.1 548.8C837.9 549.3 835.6 549.6 833.4 549.6C831.1 549.5 828.8 549.2 826.6 548.6C824.3 548.0 822.1 547.0 819.9 546.0C817.7 544.9 815.5 543.6 813.4 542.3C811.3 540.9 809.2 539.4 807.3 537.8C805.3 536.2 803.4 534.5 801.7 532.8C799.9 531.1 798.2 529.3 796.7 527.4C795.1 525.6 793.7 523.6 792.3 521.6C791.0 519.7 789.8 517.6 788.8 515.5C787.7 513.4 786.8 511.3 785.9 509.0C785.1 506.8 784.3 504.6 783.7 502.3C783.0 500.0 782.4 497.7 781.8 495.3C781.3 492.9 780.8 490.5 780.3 488.0C779.8 485.6 779.7 482.8 778.9 480.6C778.1 478.5 777.3 476.1 775.6 475.0C774.0 474.0 771.4 473.9 769.1 474.2C766.8 474.6 764.2 476.0 761.9 477.1C759.6 478.3 757.6 479.8 755.5 480.9C753.4 482.1 751.4 483.3 749.1 484.1C746.9 484.8 744.5 485.2 742.1 485.3C739.6 485.5 737.0 485.3 734.6 485.1C732.1 485.0 729.7 484.8 727.3 484.5C724.9 484.2 722.6 483.9 720.2 483.5C717.9 483.2 715.6 482.7 713.3 482.2C710.9 481.7 708.6 481.1 706.3 480.5C704.0 479.8 701.6 479.1 699.3 478.2C696.9 477.4 694.4 476.5 692.2 475.4C689.9 474.3 687.7 473.0 685.8 471.5C684.0 470.1 682.3 468.3 681.0 466.5C679.7 464.6 678.6 462.4 677.8 460.3C677.0 458.1 676.4 455.7 676.0 453.3C675.7 450.9 675.5 448.4 675.6 446.0C675.6 443.5 675.9 441.0 676.3 438.6C676.7 436.2 677.4 433.8 678.1 431.5C678.8 429.1 679.7 426.9 680.6 424.7C681.6 422.5 682.6 420.3 683.7 418.1C684.8 416.0 685.9 413.9 687.0 411.7C688.2 409.6 689.2 407.4 690.4 405.3C691.6 403.2 692.6 401.1 694.1 399.2C695.6 397.3 697.3 395.7 699.2 394.1C701.0 392.5 703.3 391.2 705.3 389.7C707.2 388.2 709.4 386.8 711.1 385.0C712.8 383.2 714.6 381.0 715.3 378.9C716.0 376.9 716.1 374.6 715.4 372.6C714.6 370.7 712.6 369.0 710.9 367.3C709.1 365.6 706.7 364.1 704.7 362.5C702.8 360.8 701.0 359.1 699.3 357.4C697.6 355.7 696.2 353.9 694.7 352.0C693.3 350.2 692.0 348.3 690.7 346.4C689.4 344.4 688.2 342.4 686.9 340.3C685.7 338.2 684.5 336.1 683.5 333.9C682.4 331.8 681.3 329.5 680.4 327.3C679.5 325.0 678.6 322.7 677.9 320.3C677.2 318.0 676.7 315.6 676.3 313.2C675.9 310.8 675.6 308.3 675.6 305.9C675.6 303.4 675.7 300.9 676.1 298.5C676.5 296.1 677.1 293.6 677.9 291.4C678.8 289.2 679.8 287.0 681.1 285.1C682.5 283.2 684.1 281.5 685.9 280.1C687.7 278.7 689.8 277.7 692.0 276.7C694.2 275.6 696.6 274.9 698.9 274.1C701.3 273.3 703.7 272.5 706.1 271.7C708.5 270.9 710.9 270.2 713.3 269.5C715.7 268.9 718.1 268.3 720.5 267.8C723.0 267.3 725.4 266.8 727.7 266.6C730.1 266.3 732.5 266.1 734.9 266.1C737.2 266.2 739.6 266.3 741.9 266.7C744.2 267.0 746.5 267.6 748.7 268.4C751.0 269.1 753.2 270.1 755.4 271.1C757.7 272.1 759.9 273.3 762.2 274.4C764.5 275.4 766.9 276.9 769.1 277.3C771.3 277.7 773.5 277.8 775.2 276.8C776.9 275.8 778.4 273.5 779.4 271.4C780.3 269.2 780.7 266.5 781.1 264.0C781.5 261.5 781.4 258.8 781.7 256.3C782.0 253.9 782.4 251.5 783.1 249.2C783.7 246.9 784.5 244.7 785.4 242.6C786.3 240.5 787.4 238.4 788.6 236.4C789.7 234.4 791.1 232.4 792.5 230.5C793.9 228.5 795.4 226.6 797.0 224.8C798.6 222.9 800.3 221.0 802.1 219.2C803.8 217.3 805.7 215.5 807.6 213.9C809.5 212.2 811.5 210.6 813.5 209.2C815.5 207.8 817.6 206.5 819.7 205.5C821.8 204.4 824.0 203.6 826.2 203.0C828.4 202.5 830.7 202.2 833.0 202.2Z"/>
<path id="s1Dt" d="M833.2 198.8C835.8 198.8 838.5 199.5 841.0 200.4C843.5 201.4 846.0 203.0 848.3 204.5C850.6 206.1 852.9 208.0 855.0 209.8C857.1 211.6 859.0 213.4 860.9 215.3C862.8 217.2 864.5 219.1 866.3 221.1C868.1 223.1 869.8 225.2 871.5 227.3C873.3 229.5 875.2 231.7 876.9 234.0C878.6 236.2 880.5 238.6 881.7 241.0C883.0 243.4 884.1 245.9 884.4 248.4C884.8 250.9 884.4 253.5 883.9 256.1C883.4 258.8 882.1 261.4 881.4 264.2C880.6 267.0 879.6 270.0 879.4 272.8C879.2 275.6 879.2 278.8 880.1 281.0C881.1 283.1 882.9 285.1 885.1 285.8C887.3 286.6 891.0 286.4 893.5 285.6C895.9 284.8 898.1 282.8 900.1 280.8C902.0 278.9 903.1 276.1 905.1 274.1C907.1 272.0 909.5 270.0 911.9 268.7C914.3 267.4 916.9 266.7 919.4 266.2C922.0 265.7 924.6 265.8 927.3 265.9C929.9 265.9 932.7 266.3 935.4 266.5C938.2 266.8 941.0 267.0 943.8 267.3C946.6 267.6 949.4 267.8 952.2 268.2C955.0 268.6 957.8 269.0 960.5 269.6C963.3 270.1 965.9 270.8 968.5 271.6C971.1 272.5 973.6 273.5 975.9 274.7C978.3 276.0 980.5 277.4 982.6 279.1C984.6 280.8 986.6 282.8 988.2 285.0C989.9 287.2 991.4 289.7 992.4 292.2C993.4 294.8 994.1 297.5 994.3 300.1C994.4 302.7 994.0 305.4 993.5 308.0C992.9 310.7 991.8 313.3 990.9 315.9C989.9 318.6 988.7 321.2 987.6 323.9C986.6 326.5 985.7 329.1 984.7 331.7C983.8 334.3 982.9 336.9 981.9 339.4C980.8 341.9 979.8 344.4 978.5 346.7C977.2 349.1 975.7 351.4 974.0 353.4C972.2 355.5 970.2 357.5 968.1 359.0C965.9 360.5 963.4 361.7 960.9 362.6C958.3 363.5 955.4 363.6 952.7 364.3C950.0 365.0 947.1 365.4 944.7 366.8C942.3 368.1 939.5 370.2 938.4 372.3C937.4 374.4 937.4 377.4 938.4 379.5C939.5 381.6 942.3 383.7 944.7 385.0C947.1 386.4 950.0 386.8 952.7 387.5C955.4 388.2 958.3 388.3 960.9 389.2C963.4 390.1 965.9 391.3 968.1 392.8C970.2 394.3 972.2 396.3 974.0 398.4C975.7 400.4 977.2 402.7 978.5 405.1C979.8 407.4 980.8 409.9 981.9 412.4C982.9 414.9 983.8 417.5 984.7 420.1C985.7 422.7 986.6 425.3 987.6 427.9C988.7 430.6 989.9 433.2 990.9 435.9C991.8 438.5 992.9 441.1 993.5 443.8C994.0 446.4 994.4 449.1 994.3 451.7C994.1 454.3 993.4 457.0 992.4 459.6C991.4 462.1 989.9 464.6 988.2 466.8C986.6 469.0 984.6 471.0 982.6 472.7C980.5 474.4 978.3 475.8 975.9 477.1C973.6 478.3 971.1 479.3 968.5 480.2C965.9 481.0 963.3 481.7 960.5 482.2C957.8 482.8 955.0 483.2 952.2 483.6C949.4 484.0 946.6 484.2 943.8 484.5C941.0 484.8 938.2 485.0 935.4 485.3C932.7 485.5 929.9 485.9 927.3 485.9C924.6 486.0 922.0 486.1 919.4 485.6C916.9 485.1 914.3 484.4 911.9 483.1C909.5 481.8 907.1 479.8 905.1 477.7C903.1 475.7 902.0 472.9 900.1 471.0C898.1 469.0 895.9 467.0 893.5 466.2C891.0 465.4 887.3 465.2 885.1 466.0C882.9 466.7 881.1 468.7 880.1 470.8C879.2 473.0 879.2 476.2 879.4 479.0C879.6 481.8 880.6 484.8 881.4 487.6C882.1 490.4 883.4 493.0 883.9 495.7C884.4 498.3 884.8 500.8 884.5 503.4C884.1 505.9 883.0 508.4 881.7 510.8C880.5 513.2 878.6 515.6 876.9 517.9C875.2 520.2 873.3 522.4 871.5 524.5C869.8 526.6 868.1 528.7 866.3 530.7C864.5 532.7 862.8 534.6 860.9 536.5C859.0 538.3 857.1 540.2 855.0 542.0C852.9 543.8 850.6 545.7 848.3 547.3C846.0 548.9 843.4 550.5 840.9 551.4C838.4 552.4 835.8 553.1 833.2 553.1C830.6 553.1 828.0 552.4 825.5 551.4C823.0 550.5 820.4 548.9 818.1 547.3C815.8 545.7 813.5 543.8 811.4 542.0C809.3 540.2 807.4 538.3 805.5 536.5C803.6 534.6 801.9 532.7 800.1 530.7C798.3 528.7 796.6 526.6 794.9 524.5C793.1 522.4 791.2 520.2 789.5 517.9C787.8 515.6 785.9 513.2 784.7 510.8C783.4 508.4 782.3 505.9 781.9 503.4C781.6 500.8 782.0 498.3 782.5 495.7C783.0 493.0 784.3 490.4 785.0 487.6C785.8 484.8 786.8 481.8 787.0 479.0C787.2 476.2 787.2 473.0 786.3 470.8C785.3 468.7 783.5 466.7 781.3 466.0C779.1 465.2 775.4 465.4 772.9 466.2C770.5 467.0 768.3 469.0 766.3 471.0C764.4 472.9 763.3 475.7 761.3 477.7C759.3 479.8 756.9 481.8 754.5 483.1C752.1 484.4 749.5 485.1 747.0 485.6C744.4 486.1 741.8 486.0 739.1 485.9C736.5 485.9 733.7 485.5 731.0 485.3C728.2 485.0 725.4 484.8 722.6 484.5C719.8 484.2 717.0 484.0 714.2 483.6C711.4 483.2 708.6 482.8 705.9 482.2C703.1 481.7 700.5 481.0 697.9 480.2C695.3 479.3 692.8 478.3 690.5 477.1C688.1 475.8 685.9 474.4 683.8 472.7C681.8 471.0 679.8 469.0 678.2 466.8C676.5 464.6 675.0 462.1 674.0 459.6C673.0 457.0 672.3 454.3 672.1 451.7C672.0 449.1 672.4 446.4 672.9 443.8C673.5 441.1 674.6 438.5 675.5 435.9C676.5 433.2 677.7 430.6 678.8 427.9C679.8 425.3 680.7 422.7 681.7 420.1C682.6 417.5 683.5 414.9 684.5 412.4C685.6 409.9 686.6 407.4 687.9 405.1C689.2 402.7 690.7 400.4 692.4 398.4C694.2 396.3 696.2 394.3 698.3 392.8C700.5 391.3 703.0 390.1 705.5 389.2C708.1 388.3 711.0 388.2 713.7 387.5C716.4 386.8 719.3 386.4 721.7 385.0C724.1 383.7 726.9 381.6 728.0 379.5C729.0 377.4 729.0 374.4 728.0 372.3C726.9 370.2 724.1 368.1 721.7 366.8C719.3 365.4 716.3 365.0 713.6 364.3C711.0 363.6 708.1 363.5 705.5 362.6C703.0 361.7 700.5 360.5 698.4 359.0C696.2 357.5 694.2 355.5 692.5 353.5C690.8 351.4 689.3 349.1 688.0 346.8C686.6 344.4 685.5 341.9 684.5 339.4C683.4 336.9 682.5 334.2 681.5 331.6C680.6 329.0 679.6 326.4 678.6 323.8C677.7 321.2 676.5 318.6 675.6 316.0C674.7 313.4 673.7 310.8 673.2 308.2C672.7 305.6 672.3 302.9 672.4 300.2C672.5 297.6 673.0 294.8 673.9 292.2C674.8 289.6 676.1 287.0 677.7 284.8C679.3 282.5 681.3 280.5 683.4 278.8C685.5 277.1 688.0 275.8 690.5 274.7C693.0 273.5 695.8 272.7 698.4 271.9C701.1 271.1 703.8 270.5 706.5 269.9C709.1 269.4 711.7 268.9 714.3 268.4C716.9 268.0 719.5 267.6 722.1 267.2C724.8 266.9 727.5 266.5 730.4 266.2C733.2 266.0 736.2 265.6 739.1 265.5C742.0 265.5 745.0 265.5 747.6 266.1C750.2 266.6 752.7 267.5 754.9 268.9C757.1 270.3 758.7 272.5 760.6 274.5C762.4 276.4 764.0 279.0 766.1 280.8C768.3 282.6 770.9 284.5 773.4 285.3C775.9 286.2 779.2 286.6 781.3 285.9C783.4 285.2 785.1 283.3 786.1 281.1C787.0 278.9 787.1 275.5 787.0 272.7C786.8 269.9 785.9 266.9 785.1 264.1C784.4 261.4 783.2 258.8 782.6 256.2C782.1 253.6 781.6 251.1 781.9 248.5C782.3 246.0 783.3 243.4 784.6 241.0C785.8 238.5 787.7 236.0 789.4 233.8C791.1 231.5 793.1 229.3 794.9 227.2C796.7 225.2 798.5 223.3 800.3 221.3C802.0 219.4 803.8 217.5 805.6 215.5C807.5 213.6 809.3 211.6 811.3 209.7C813.4 207.9 815.6 205.9 818.0 204.4C820.3 202.8 822.9 201.3 825.4 200.3C828.0 199.4 830.7 198.7 833.2 198.8Z"/>
<path id="s1Db" d="M833.5 203.2C836.0 203.2 838.4 203.6 840.7 204.3C843.0 205.1 845.3 206.3 847.5 207.7C849.7 209.0 851.8 210.8 853.8 212.5C855.9 214.2 857.9 216.1 859.9 218.0C861.9 219.9 863.8 221.7 865.6 223.7C867.5 225.6 869.2 227.5 870.9 229.5C872.5 231.4 874.0 233.5 875.4 235.6C876.8 237.7 878.1 239.9 879.1 242.2C880.1 244.4 881.1 246.9 881.7 249.3C882.3 251.8 882.7 254.3 882.8 256.9C882.9 259.5 882.6 262.2 882.1 264.8C881.6 267.4 880.1 270.1 879.8 272.7C879.5 275.3 879.3 278.0 880.3 280.2C881.2 282.4 883.4 284.8 885.5 285.9C887.6 287.0 890.4 287.3 892.7 286.7C895.1 286.1 897.4 284.0 899.6 282.5C901.7 280.9 903.6 278.8 905.7 277.2C907.7 275.6 909.6 274.0 911.8 272.9C914.0 271.8 916.4 271.1 919.0 270.6C921.5 270.2 924.2 270.2 926.9 270.1C929.6 270.0 932.3 270.1 934.9 270.1C937.6 270.2 940.2 270.2 942.8 270.3C945.4 270.4 948.0 270.6 950.5 270.9C953.1 271.2 955.6 271.6 958.1 272.2C960.6 272.7 963.1 273.4 965.5 274.3C967.9 275.2 970.4 276.3 972.7 277.6C975.0 278.9 977.2 280.3 979.2 282.0C981.1 283.7 982.9 285.6 984.4 287.7C985.8 289.8 986.9 292.1 987.7 294.5C988.5 296.9 988.8 299.6 989.0 302.3C989.2 304.9 989.0 307.7 988.7 310.3C988.5 313.0 987.9 315.6 987.3 318.1C986.7 320.6 985.8 322.9 985.0 325.3C984.2 327.7 983.2 330.0 982.3 332.4C981.4 334.8 980.4 337.3 979.4 339.8C978.3 342.2 977.2 344.7 975.9 347.0C974.6 349.2 973.2 351.5 971.6 353.4C970.0 355.3 968.2 357.1 966.1 358.4C964.0 359.8 961.6 360.7 959.1 361.6C956.6 362.4 953.7 362.7 951.1 363.5C948.5 364.3 945.8 364.9 943.7 366.5C941.7 368.0 939.6 370.4 938.7 372.6C937.8 374.8 937.7 377.6 938.5 379.6C939.3 381.6 941.5 383.1 943.6 384.5C945.7 385.9 948.7 386.9 951.2 388.0C953.8 389.0 956.6 389.8 959.0 390.7C961.5 391.7 964.0 392.5 966.1 393.8C968.2 395.0 970.1 396.4 971.8 398.2C973.4 400.0 974.7 402.2 976.0 404.5C977.2 406.8 978.2 409.4 979.2 411.9C980.2 414.4 981.1 417.1 982.0 419.6C983.0 422.1 984.1 424.4 985.1 426.8C986.0 429.2 987.0 431.4 987.7 433.9C988.3 436.3 988.8 438.9 989.0 441.5C989.2 444.0 989.1 446.7 988.8 449.3C988.5 451.9 988.0 454.6 987.2 457.0C986.4 459.5 985.3 461.9 984.0 464.1C982.7 466.3 981.1 468.3 979.3 470.0C977.5 471.7 975.4 473.2 973.2 474.4C971.0 475.7 968.5 476.6 965.9 477.5C963.4 478.3 960.7 478.9 958.1 479.5C955.4 480.0 952.7 480.4 950.1 480.7C947.5 481.1 944.9 481.3 942.3 481.5C939.8 481.7 937.3 481.9 934.8 481.9C932.2 481.9 929.7 481.9 927.1 481.8C924.6 481.6 921.9 481.4 919.4 480.9C916.9 480.4 914.3 479.7 912.0 478.7C909.6 477.7 907.4 476.4 905.3 474.8C903.2 473.3 901.4 470.9 899.4 469.3C897.4 467.7 895.5 465.8 893.1 465.2C890.8 464.6 887.6 464.7 885.4 465.8C883.2 466.8 881.0 469.2 880.1 471.5C879.1 473.7 879.6 476.7 879.9 479.3C880.3 481.9 881.7 484.6 882.3 487.3C882.8 489.9 883.0 492.4 882.9 494.9C882.8 497.4 882.4 499.9 881.7 502.3C881.0 504.7 880.0 507.1 878.9 509.3C877.8 511.6 876.5 513.9 875.1 516.1C873.7 518.3 872.2 520.4 870.6 522.5C869.0 524.6 867.4 526.6 865.7 528.6C864.0 530.6 862.2 532.5 860.3 534.2C858.4 536.0 856.4 537.7 854.3 539.3C852.2 540.8 850.0 542.3 847.7 543.6C845.4 544.9 842.9 546.2 840.4 547.0C837.9 547.8 835.4 548.5 832.9 548.6C830.5 548.6 828.1 548.2 825.7 547.5C823.4 546.7 821.2 545.5 819.0 544.1C816.8 542.8 814.6 541.1 812.6 539.3C810.5 537.6 808.5 535.7 806.5 533.8C804.5 531.9 802.6 530.1 800.8 528.1C798.9 526.2 797.2 524.3 795.5 522.3C793.9 520.4 792.4 518.3 791.0 516.2C789.6 514.1 788.4 511.9 787.3 509.7C786.3 507.4 785.3 505.0 784.7 502.5C784.1 500.0 783.7 497.5 783.6 494.9C783.5 492.3 783.8 489.6 784.3 487.0C784.8 484.4 786.3 481.7 786.6 479.1C786.9 476.5 787.1 473.8 786.1 471.6C785.2 469.4 783.0 467.0 780.9 465.9C778.8 464.8 776.0 464.5 773.7 465.1C771.3 465.7 769.0 467.8 766.8 469.3C764.7 470.9 762.8 473.0 760.7 474.6C758.7 476.2 756.8 477.8 754.6 478.9C752.4 480.0 750.0 480.7 747.4 481.2C744.9 481.6 742.2 481.6 739.5 481.7C736.8 481.8 734.1 481.7 731.5 481.7C728.8 481.6 726.2 481.6 723.6 481.5C721.0 481.4 718.4 481.2 715.9 480.9C713.3 480.6 710.8 480.2 708.3 479.6C705.8 479.1 703.3 478.4 700.9 477.5C698.5 476.6 696.0 475.5 693.7 474.2C691.4 472.9 689.2 471.5 687.2 469.8C685.3 468.1 683.5 466.2 682.0 464.1C680.6 462.0 679.5 459.7 678.7 457.3C677.9 454.9 677.6 452.2 677.4 449.5C677.2 446.9 677.4 444.1 677.7 441.5C677.9 438.8 678.5 436.2 679.1 433.7C679.7 431.2 680.6 428.9 681.4 426.5C682.2 424.1 683.2 421.8 684.1 419.4C685.0 417.0 686.0 414.5 687.0 412.0C688.1 409.6 689.2 407.1 690.5 404.8C691.8 402.6 693.2 400.3 694.8 398.4C696.4 396.5 698.2 394.7 700.3 393.4C702.4 392.0 704.8 391.1 707.3 390.2C709.8 389.4 712.7 389.1 715.3 388.3C717.9 387.5 720.6 386.9 722.7 385.3C724.7 383.8 726.8 381.4 727.7 379.2C728.6 377.0 728.7 374.2 727.9 372.2C727.1 370.2 724.9 368.7 722.8 367.3C720.7 365.9 717.7 364.9 715.2 363.8C712.6 362.8 709.8 362.0 707.4 361.1C704.9 360.1 702.4 359.3 700.3 358.0C698.2 356.8 696.3 355.4 694.6 353.6C693.0 351.8 691.7 349.6 690.4 347.3C689.2 345.0 688.2 342.4 687.2 339.9C686.2 337.4 685.3 334.7 684.4 332.2C683.4 329.7 682.3 327.4 681.3 325.0C680.4 322.6 679.4 320.4 678.7 317.9C678.1 315.5 677.6 312.9 677.4 310.3C677.2 307.8 677.3 305.1 677.6 302.5C677.9 299.9 678.4 297.2 679.2 294.8C680.0 292.3 681.1 289.9 682.4 287.7C683.7 285.5 685.3 283.5 687.1 281.8C688.9 280.1 691.0 278.6 693.2 277.4C695.4 276.1 697.9 275.1 700.4 274.3C702.9 273.5 705.6 272.9 708.3 272.3C710.9 271.8 713.7 271.4 716.3 271.1C718.9 270.7 721.5 270.5 724.1 270.3C726.7 270.1 729.2 270.0 731.7 269.9C734.2 269.9 736.8 269.9 739.3 270.1C741.8 270.2 744.4 270.4 746.9 270.9C749.4 271.4 751.9 272.0 754.3 273.0C756.6 274.0 758.9 275.3 761.1 276.9C763.2 278.5 765.1 280.9 767.2 282.6C769.2 284.2 771.2 286.2 773.5 286.7C775.7 287.3 778.5 286.9 780.6 285.9C782.8 284.8 785.3 282.5 786.3 280.3C787.3 278.1 787.2 275.3 786.8 272.7C786.5 270.1 784.8 267.2 784.2 264.6C783.7 261.9 783.3 259.3 783.4 256.8C783.4 254.3 783.9 251.8 784.6 249.4C785.3 247.0 786.3 244.7 787.4 242.4C788.5 240.1 789.9 237.9 791.3 235.7C792.7 233.5 794.3 231.4 795.9 229.3C797.5 227.2 799.1 225.2 800.8 223.2C802.5 221.3 804.3 219.4 806.1 217.6C808.0 215.8 810.0 214.1 812.1 212.5C814.1 210.9 816.3 209.4 818.7 208.2C821.0 206.9 823.5 205.6 826.0 204.8C828.4 203.9 831.0 203.3 833.5 203.2Z"/>
<filter id="tf1top" filterUnits="userSpaceOnUse" x="643.2" y="-42.1" width="608.0" height="608.0" color-interpolation-filters="sRGB">
<feColorMatrix in="SourceGraphic" type="matrix" values="1 0 0 0 0  1 0 0 0 0  1 0 0 0 0  0 0 0 0 1" result="M"/>
<feGaussianBlur in="M" stdDeviation="8" result="B1"/>
<feGaussianBlur in="M" stdDeviation="20" result="B2"/>
<feGaussianBlur in="M" stdDeviation="60" result="B3"/>
<feComposite in="B1" in2="B2" operator="arithmetic" k1="0" k2="0.3" k3="0.4" k4="0" result="F12"/>
<feComposite in="F12" in2="B3" operator="arithmetic" k1="0" k2="1" k3="0.3" k4="0" result="F"/>
<feComponentTransfer in="F" result="TOUT0"><feFuncR type="table" tableValues="0.6500 0.6516 0.6536 0.6559 0.6628 0.6727 0.6844 0.7018 0.7192 0.7366 0.7547 0.7752 0.7956 0.8161 0.8365 0.8531 0.8622 0.8714 0.8805 0.8897 0.8988 0.9028 0.9060 0.9092 0.9124 0.9155 0.9187 0.9219 0.9251 0.9283 0.9339 0.9420 0.9501 0.9583 0.9664 0.9746 0.9827 0.9908 0.9990 1.0000 1.0000 1.0000 1.0000 1.0000 1.0000 1.0000 1.0000 1.0000 1.0000 1.0000 1.0000 1.0000 1.0000 1.0000 1.0000 1.0000 1.0000 1.0000 1.0000 1.0000 1.0000 1.0000 1.0000 1.0000 1.0000 1.0000 1.0000 1.0000 1.0000 1.0000 1.0000 1.0000 1.0000 1.0000 1.0000 1.0000 1.0000 1.0000 1.0000 1.0000 1.0000 1.0000 1.0000 1.0000 1.0000 1.0000 1.0000 1.0000 1.0000 1.0000 1.0000 1.0000 1.0000 1.0000 1.0000 1.0000 1.0000 1.0000 1.0000 1.0000 1.0000 1.0000 1.0000 1.0000 1.0000 1.0000 1.0000 1.0000 1.0000 1.0000 1.0000 1.0000 1.0000 1.0000 1.0000 1.0000 1.0000 1.0000 1.0000 1.0000 1.0000 1.0000 1.0000 1.0000 1.0000 1.0000 1.0000 1.0000 1.0000"/><feFuncG type="table" tableValues="0.6500 0.6516 0.6536 0.6559 0.6628 0.6727 0.6844 0.7018 0.7192 0.7366 0.7547 0.7752 0.7956 0.8161 0.8365 0.8531 0.8622 0.8714 0.8805 0.8897 0.8988 0.9028 0.9060 0.9092 0.9124 0.9155 0.9187 0.9219 0.9251 0.9283 0.9339 0.9420 0.9501 0.9583 0.9664 0.9746 0.9827 0.9908 0.9990 1.0000 1.0000 1.0000 1.0000 1.0000 1.0000 1.0000 1.0000 1.0000 1.0000 1.0000 1.0000 1.0000 1.0000 1.0000 1.0000 1.0000 1.0000 1.0000 1.0000 1.0000 1.0000 1.0000 1.0000 1.0000 1.0000 1.0000 1.0000 1.0000 1.0000 1.0000 1.0000 1.0000 1.0000 1.0000 1.0000 1.0000 1.0000 1.0000 1.0000 1.0000 1.0000 1.0000 1.0000 1.0000 1.0000 1.0000 1.0000 1.0000 1.0000 1.0000 1.0000 1.0000 1.0000 1.0000 1.0000 1.0000 1.0000 1.0000 1.0000 1.0000 1.0000 1.0000 1.0000 1.0000 1.0000 1.0000 1.0000 1.0000 1.0000 1.0000 1.0000 1.0000 1.0000 1.0000 1.0000 1.0000 1.0000 1.0000 1.0000 1.0000 1.0000 1.0000 1.0000 1.0000 1.0000 1.0000 1.0000 1.0000 1.0000"/><feFuncB type="table" tableValues="0.6500 0.6516 0.6536 0.6559 0.6628 0.6727 0.6844 0.7018 0.7192 0.7366 0.7547 0.7752 0.7956 0.8161 0.8365 0.8531 0.8622 0.8714 0.8805 0.8897 0.8988 0.9028 0.9060 0.9092 0.9124 0.9155 0.9187 0.9219 0.9251 0.9283 0.9339 0.9420 0.9501 0.9583 0.9664 0.9746 0.9827 0.9908 0.9990 1.0000 1.0000 1.0000 1.0000 1.0000 1.0000 1.0000 1.0000 1.0000 1.0000 1.0000 1.0000 1.0000 1.0000 1.0000 1.0000 1.0000 1.0000 1.0000 1.0000 1.0000 1.0000 1.0000 1.0000 1.0000 1.0000 1.0000 1.0000 1.0000 1.0000 1.0000 1.0000 1.0000 1.0000 1.0000 1.0000 1.0000 1.0000 1.0000 1.0000 1.0000 1.0000 1.0000 1.0000 1.0000 1.0000 1.0000 1.0000 1.0000 1.0000 1.0000 1.0000 1.0000 1.0000 1.0000 1.0000 1.0000 1.0000 1.0000 1.0000 1.0000 1.0000 1.0000 1.0000 1.0000 1.0000 1.0000 1.0000 1.0000 1.0000 1.0000 1.0000 1.0000 1.0000 1.0000 1.0000 1.0000 1.0000 1.0000 1.0000 1.0000 1.0000 1.0000 1.0000 1.0000 1.0000 1.0000 1.0000 1.0000 1.0000"/></feComponentTransfer>
<feGaussianBlur in="SourceGraphic" stdDeviation="4" result="GBL"/>
<feColorMatrix in="GBL" type="matrix" values="0 0.05 0 0 0.5  0 0.05 0 0 0.5  0 0.05 0 0 0.5  0 0 0 0 1" result="EXO"/>
<feComposite in="TOUT0" in2="EXO" operator="arithmetic" k1="0" k2="1" k3="1" k4="-0.5" result="TOUT1"/>
<feGaussianBlur in="TOUT1" stdDeviation="3.5" result="TOUT"/>
<feColorMatrix in="GBL" type="matrix" values="0 0.14 -0.05 0 0.3  0 0.14 -0.05 0 0.3  0 0.14 -0.05 0 0.3  0 0 0 0 1" result="TIN"/>
<feGaussianBlur in="M" stdDeviation="2.4" result="C"/>
<feComponentTransfer in="C" result="CI"><feFuncR type="table" tableValues="1 0"/><feFuncG type="table" tableValues="1 0"/><feFuncB type="table" tableValues="1 0"/></feComponentTransfer>
<feComposite in="TOUT" in2="CI" operator="arithmetic" k1="1" k2="0" k3="0" k4="0" result="X"/>
<feComposite in="TIN" in2="C" operator="arithmetic" k1="1" k2="0" k3="0" k4="0" result="Y"/>
<feComposite in="X" in2="Y" operator="arithmetic" k1="0" k2="1" k3="1" k4="0" result="T"/>
<feComponentTransfer in="T"><feFuncR type="table" tableValues="0.0000 0.0000 0.0000 0.0000 0.5000 1.0000 1.0000 1.0000 0.5000"/><feFuncG type="table" tableValues="0.0000 0.0000 0.5000 1.0000 1.0000 1.0000 0.5000 0.0000 0.0000"/><feFuncB type="table" tableValues="0.5000 1.0000 1.0000 1.0000 0.5000 0.0000 0.0000 0.0000 0.0000"/><feFuncA type="linear" slope="0" intercept="1"/></feComponentTransfer>
</filter>
<filter id="tf1bot" filterUnits="userSpaceOnUse" x="643.2" y="185.9" width="608.0" height="608.0" color-interpolation-filters="sRGB">
<feColorMatrix in="SourceGraphic" type="matrix" values="1 0 0 0 0  1 0 0 0 0  1 0 0 0 0  0 0 0 0 1" result="M"/>
<feGaussianBlur in="M" stdDeviation="8" result="B1"/>
<feGaussianBlur in="M" stdDeviation="20" result="B2"/>
<feGaussianBlur in="M" stdDeviation="60" result="B3"/>
<feComposite in="B1" in2="B2" operator="arithmetic" k1="0" k2="0.3" k3="0.4" k4="0" result="F12"/>
<feComposite in="F12" in2="B3" operator="arithmetic" k1="0" k2="1" k3="0.3" k4="0" result="F"/>
<feComponentTransfer in="F" result="TOUT0"><feFuncR type="table" tableValues="0.6850 0.6770 0.6679 0.6482 0.6134 0.5708 0.5282 0.4905 0.4623 0.4342 0.4060 0.3778 0.3402 0.3016 0.2630 0.2307 0.2015 0.1723 0.1431 0.1196 0.1054 0.0912 0.0770 0.0628 0.0486 0.0344 0.0287 0.0267 0.0248 0.0228 0.0209 0.0189 0.0170 0.0150 0.0131 0.0111 0.0092 0.0072 0.0053 0.0033 0.0014 0.0000 0.0000 0.0000 0.0000 0.0000 0.0000 0.0000 0.0000 0.0000 0.0000 0.0000 0.0000 0.0000 0.0000 0.0000 0.0000 0.0000 0.0000 0.0000 0.0000 0.0000 0.0000 0.0000 0.0000 0.0000 0.0000 0.0000 0.0000 0.0000 0.0000 0.0000 0.0000 0.0000 0.0000 0.0000 0.0000 0.0000 0.0000 0.0000 0.0000 0.0000 0.0000 0.0000 0.0000 0.0000 0.0000 0.0000 0.0000 0.0000 0.0000 0.0000 0.0000 0.0000 0.0000 0.0000 0.0000 0.0000 0.0000 0.0000 0.0000 0.0000 0.0000 0.0000 0.0000 0.0000 0.0000 0.0000 0.0000 0.0000 0.0000 0.0000 0.0000 0.0000 0.0000 0.0000 0.0000 0.0000 0.0000 0.0000 0.0000 0.0000 0.0000 0.0000 0.0000 0.0000 0.0000 0.0000 0.0000"/><feFuncG type="table" tableValues="0.6850 0.6770 0.6679 0.6482 0.6134 0.5708 0.5282 0.4905 0.4623 0.4342 0.4060 0.3778 0.3402 0.3016 0.2630 0.2307 0.2015 0.1723 0.1431 0.1196 0.1054 0.0912 0.0770 0.0628 0.0486 0.0344 0.0287 0.0267 0.0248 0.0228 0.0209 0.0189 0.0170 0.0150 0.0131 0.0111 0.0092 0.0072 0.0053 0.0033 0.0014 0.0000 0.0000 0.0000 0.0000 0.0000 0.0000 0.0000 0.0000 0.0000 0.0000 0.0000 0.0000 0.0000 0.0000 0.0000 0.0000 0.0000 0.0000 0.0000 0.0000 0.0000 0.0000 0.0000 0.0000 0.0000 0.0000 0.0000 0.0000 0.0000 0.0000 0.0000 0.0000 0.0000 0.0000 0.0000 0.0000 0.0000 0.0000 0.0000 0.0000 0.0000 0.0000 0.0000 0.0000 0.0000 0.0000 0.0000 0.0000 0.0000 0.0000 0.0000 0.0000 0.0000 0.0000 0.0000 0.0000 0.0000 0.0000 0.0000 0.0000 0.0000 0.0000 0.0000 0.0000 0.0000 0.0000 0.0000 0.0000 0.0000 0.0000 0.0000 0.0000 0.0000 0.0000 0.0000 0.0000 0.0000 0.0000 0.0000 0.0000 0.0000 0.0000 0.0000 0.0000 0.0000 0.0000 0.0000 0.0000"/><feFuncB type="table" tableValues="0.6850 0.6770 0.6679 0.6482 0.6134 0.5708 0.5282 0.4905 0.4623 0.4342 0.4060 0.3778 0.3402 0.3016 0.2630 0.2307 0.2015 0.1723 0.1431 0.1196 0.1054 0.0912 0.0770 0.0628 0.0486 0.0344 0.0287 0.0267 0.0248 0.0228 0.0209 0.0189 0.0170 0.0150 0.0131 0.0111 0.0092 0.0072 0.0053 0.0033 0.0014 0.0000 0.0000 0.0000 0.0000 0.0000 0.0000 0.0000 0.0000 0.0000 0.0000 0.0000 0.0000 0.0000 0.0000 0.0000 0.0000 0.0000 0.0000 0.0000 0.0000 0.0000 0.0000 0.0000 0.0000 0.0000 0.0000 0.0000 0.0000 0.0000 0.0000 0.0000 0.0000 0.0000 0.0000 0.0000 0.0000 0.0000 0.0000 0.0000 0.0000 0.0000 0.0000 0.0000 0.0000 0.0000 0.0000 0.0000 0.0000 0.0000 0.0000 0.0000 0.0000 0.0000 0.0000 0.0000 0.0000 0.0000 0.0000 0.0000 0.0000 0.0000 0.0000 0.0000 0.0000 0.0000 0.0000 0.0000 0.0000 0.0000 0.0000 0.0000 0.0000 0.0000 0.0000 0.0000 0.0000 0.0000 0.0000 0.0000 0.0000 0.0000 0.0000 0.0000 0.0000 0.0000 0.0000 0.0000 0.0000"/></feComponentTransfer>
<feGaussianBlur in="SourceGraphic" stdDeviation="4" result="GBL"/>
<feColorMatrix in="GBL" type="matrix" values="0 -0.03 0 0 0.5  0 -0.03 0 0 0.5  0 -0.03 0 0 0.5  0 0 0 0 1" result="EXO"/>
<feComposite in="TOUT0" in2="EXO" operator="arithmetic" k1="0" k2="1" k3="1" k4="-0.5" result="TOUT1"/>
<feGaussianBlur in="TOUT1" stdDeviation="3.5" result="TOUT"/>
<feColorMatrix in="GBL" type="matrix" values="0 -0.09 0 0 0.955  0 -0.09 0 0 0.955  0 -0.09 0 0 0.955  0 0 0 0 1" result="TIN"/>
<feGaussianBlur in="M" stdDeviation="2.4" result="C"/>
<feComponentTransfer in="C" result="CI"><feFuncR type="table" tableValues="1 0"/><feFuncG type="table" tableValues="1 0"/><feFuncB type="table" tableValues="1 0"/></feComponentTransfer>
<feComposite in="TOUT" in2="CI" operator="arithmetic" k1="1" k2="0" k3="0" k4="0" result="X"/>
<feComposite in="TIN" in2="C" operator="arithmetic" k1="1" k2="0" k3="0" k4="0" result="Y"/>
<feComposite in="X" in2="Y" operator="arithmetic" k1="0" k2="1" k3="1" k4="0" result="T"/>
<feComponentTransfer in="T"><feFuncR type="table" tableValues="0.0000 0.0000 0.0000 0.0000 0.5000 1.0000 1.0000 1.0000 0.5000"/><feFuncG type="table" tableValues="0.0000 0.0000 0.5000 1.0000 1.0000 1.0000 0.5000 0.0000 0.0000"/><feFuncB type="table" tableValues="0.5000 1.0000 1.0000 1.0000 0.5000 0.0000 0.0000 0.0000 0.0000"/><feFuncA type="linear" slope="0" intercept="1"/></feComponentTransfer>
</filter>
<clipPath id="q1tl"><rect x="605.1" y="147.9" width="229.10" height="229.00"/></clipPath>
<clipPath id="q1tr"><rect x="833.2" y="147.9" width="227.90" height="229.00"/></clipPath>
<clipPath id="q1bl"><rect x="605.1" y="375.9" width="229.10" height="228.10"/></clipPath>
<clipPath id="q1br"><rect x="833.2" y="375.9" width="227.90" height="228.10"/></clipPath>
<mask id="m1t" maskUnits="userSpaceOnUse" x="600.2" y="142.89999999999998" width="238.0" height="238.0"><use href="#s1Dt" fill="#fff" filter="url(#bl1)"/></mask>
<mask id="m1b" maskUnits="userSpaceOnUse" x="600.2" y="370.9" width="238.0" height="238.0"><use href="#s1Db" fill="#fff" filter="url(#bl1)"/></mask>
<path id="s2Tt" d="M1321.2 140.4C1323.8 140.5 1326.2 142.5 1328.8 144.2C1331.3 145.8 1333.8 148.4 1336.2 150.4C1338.7 152.4 1341.3 154.0 1343.7 155.9C1346.0 157.9 1348.2 159.8 1350.3 162.0C1352.3 164.2 1354.2 166.6 1356.0 169.1C1357.8 171.5 1359.4 174.1 1361.0 176.8C1362.5 179.4 1363.9 182.2 1365.4 184.9C1366.9 187.6 1368.2 190.5 1369.8 193.1C1371.4 195.6 1373.0 198.2 1374.9 200.5C1376.9 202.8 1379.2 204.7 1381.5 206.7C1383.7 208.7 1386.4 210.4 1388.5 212.6C1390.6 214.8 1392.6 217.2 1394.1 219.9C1395.6 222.6 1396.2 226.2 1397.6 228.9C1399.0 231.5 1400.2 234.4 1402.5 235.8C1404.8 237.3 1408.2 237.4 1411.3 237.7C1414.4 238.1 1417.8 237.8 1420.9 237.9C1424.0 238.1 1426.9 238.4 1429.9 238.6C1432.9 238.8 1435.9 239.2 1438.9 239.4C1441.9 239.6 1444.9 239.9 1448.0 239.9C1451.0 240.0 1454.1 239.9 1457.1 239.7C1460.2 239.5 1463.3 239.0 1466.3 238.7C1469.4 238.3 1472.5 237.9 1475.5 237.7C1478.5 237.5 1481.6 237.4 1484.6 237.6C1487.6 237.7 1490.5 238.0 1493.5 238.6C1496.4 239.2 1499.4 240.0 1502.2 241.2C1505.1 242.3 1508.0 243.7 1510.7 245.3C1513.4 247.0 1516.1 248.9 1518.4 251.0C1520.7 253.1 1522.8 255.5 1524.5 257.9C1526.2 260.4 1527.5 263.1 1528.5 265.9C1529.5 268.7 1530.0 271.6 1530.3 274.6C1530.5 277.5 1530.5 280.6 1530.1 283.6C1529.8 286.6 1529.2 289.7 1528.4 292.7C1527.6 295.7 1526.5 298.7 1525.3 301.5C1524.1 304.3 1522.6 307.1 1521.1 309.8C1519.6 312.4 1517.9 315.0 1516.3 317.5C1514.6 320.1 1512.8 322.5 1511.1 325.0C1509.3 327.5 1507.5 330.0 1505.9 332.5C1504.2 335.0 1502.6 337.6 1501.1 340.2C1499.6 342.8 1498.2 345.4 1497.1 348.2C1495.9 351.0 1495.2 354.0 1494.1 356.8C1493.0 359.7 1492.4 362.8 1490.7 365.4C1489.0 368.0 1485.4 370.2 1484.2 372.5C1483.0 374.9 1482.5 377.1 1483.6 379.5C1484.6 381.9 1488.5 384.4 1490.3 387.0C1492.2 389.5 1493.6 391.9 1494.8 394.7C1496.0 397.4 1496.6 400.5 1497.6 403.4C1498.6 406.3 1499.4 409.3 1500.7 412.1C1502.0 414.8 1503.6 417.3 1505.3 419.8C1506.9 422.3 1508.9 424.7 1510.7 427.1C1512.6 429.6 1514.5 431.9 1516.3 434.5C1518.1 437.0 1519.8 439.6 1521.4 442.3C1522.9 444.9 1524.3 447.7 1525.5 450.5C1526.7 453.3 1527.8 456.2 1528.6 459.2C1529.4 462.1 1530.0 465.1 1530.2 468.2C1530.5 471.2 1530.6 474.3 1530.2 477.3C1529.9 480.3 1529.4 483.4 1528.4 486.2C1527.4 489.0 1526.1 491.8 1524.4 494.3C1522.7 496.7 1520.6 499.1 1518.3 501.2C1516.0 503.2 1513.4 505.1 1510.7 506.7C1508.1 508.3 1505.2 509.7 1502.3 510.8C1499.4 511.8 1496.5 512.6 1493.6 513.2C1490.6 513.8 1487.6 514.1 1484.6 514.3C1481.6 514.5 1478.6 514.4 1475.5 514.3C1472.5 514.2 1469.4 513.9 1466.3 513.6C1463.2 513.4 1460.1 512.9 1457.1 512.6C1454.0 512.2 1450.9 511.7 1447.9 511.6C1444.9 511.6 1441.9 511.8 1438.9 512.2C1436.0 512.6 1433.1 513.6 1430.1 514.0C1427.1 514.3 1423.8 514.2 1420.7 514.2C1417.5 514.2 1414.2 513.5 1411.2 513.9C1408.3 514.2 1405.2 514.6 1402.9 516.2C1400.6 517.7 1398.7 520.6 1397.3 523.3C1395.9 526.0 1395.9 529.8 1394.4 532.5C1392.9 535.1 1390.5 536.9 1388.3 539.0C1386.0 541.0 1383.3 542.7 1381.1 544.8C1378.9 546.9 1377.0 549.3 1375.2 551.7C1373.3 554.1 1371.7 556.7 1370.1 559.4C1368.5 562.0 1367.0 564.7 1365.5 567.3C1363.9 570.0 1362.5 572.7 1360.9 575.3C1359.3 577.8 1357.6 580.3 1355.8 582.7C1354.0 585.1 1352.1 587.3 1350.1 589.4C1348.0 591.6 1345.9 593.6 1343.6 595.7C1341.3 597.8 1338.9 599.9 1336.5 602.0C1334.0 604.1 1331.4 606.8 1328.8 608.4C1326.2 610.0 1323.6 611.7 1321.0 611.6C1318.4 611.5 1316.0 609.5 1313.5 607.8C1310.9 606.2 1308.4 603.6 1305.9 601.6C1303.5 599.6 1300.9 598.0 1298.5 596.1C1296.2 594.1 1294.0 592.2 1291.9 590.0C1289.9 587.8 1288.0 585.4 1286.2 582.9C1284.4 580.5 1282.8 577.9 1281.2 575.2C1279.7 572.6 1278.2 569.8 1276.8 567.1C1275.3 564.4 1274.0 561.5 1272.4 558.9C1270.8 556.4 1269.2 553.8 1267.3 551.5C1265.3 549.2 1263.0 547.3 1260.7 545.3C1258.5 543.3 1255.8 541.6 1253.7 539.4C1251.6 537.2 1249.6 534.8 1248.1 532.1C1246.6 529.4 1246.0 525.8 1244.6 523.1C1243.2 520.5 1242.0 517.6 1239.7 516.2C1237.4 514.7 1233.9 514.6 1230.8 514.2C1227.8 513.9 1224.4 514.2 1221.3 514.1C1218.2 513.9 1215.4 513.7 1212.4 513.5C1209.4 513.2 1206.4 512.8 1203.3 512.6C1200.2 512.3 1197.1 512.0 1194.1 512.0C1191.0 511.9 1187.9 511.9 1184.9 512.2C1181.9 512.4 1179.0 513.0 1176.0 513.4C1173.1 513.8 1170.1 514.4 1167.0 514.6C1164.0 514.7 1160.9 514.7 1157.8 514.5C1154.7 514.3 1151.5 513.8 1148.5 513.2C1145.4 512.5 1142.4 511.6 1139.5 510.5C1136.6 509.4 1133.8 508.1 1131.3 506.5C1128.7 505.0 1126.2 503.2 1124.0 501.2C1121.8 499.2 1119.8 496.9 1118.2 494.4C1116.5 492.0 1115.1 489.2 1114.0 486.3C1113.0 483.5 1112.2 480.4 1111.8 477.3C1111.4 474.3 1111.3 471.1 1111.6 468.0C1111.8 464.9 1112.5 461.9 1113.4 459.0C1114.3 456.1 1115.6 453.3 1116.9 450.5C1118.3 447.8 1119.8 445.1 1121.4 442.5C1122.9 439.9 1124.6 437.3 1126.3 434.7C1127.9 432.2 1129.7 429.7 1131.3 427.1C1133.0 424.6 1134.7 422.1 1136.3 419.5C1138.0 416.9 1139.5 414.4 1141.0 411.7C1142.4 409.1 1143.8 406.4 1144.9 403.6C1146.1 400.9 1146.9 397.9 1148.0 395.1C1149.2 392.3 1149.9 389.3 1151.6 386.7C1153.3 384.1 1156.9 381.9 1158.1 379.5C1159.2 377.1 1159.6 374.8 1158.6 372.4C1157.6 370.0 1153.7 367.6 1151.9 365.1C1150.0 362.5 1148.6 360.1 1147.4 357.3C1146.2 354.6 1145.6 351.5 1144.6 348.6C1143.6 345.7 1142.8 342.7 1141.5 339.9C1140.2 337.2 1138.6 334.7 1136.9 332.2C1135.3 329.7 1133.3 327.3 1131.5 324.9C1129.6 322.4 1127.7 320.1 1125.9 317.5C1124.1 315.0 1122.4 312.4 1120.8 309.7C1119.3 307.1 1117.9 304.3 1116.7 301.5C1115.5 298.7 1114.4 295.8 1113.6 292.8C1112.8 289.9 1112.2 286.9 1112.0 283.8C1111.7 280.8 1111.6 277.7 1112.0 274.7C1112.3 271.7 1112.9 268.7 1113.8 265.8C1114.8 263.0 1116.1 260.3 1117.8 257.8C1119.5 255.3 1121.6 252.9 1123.9 250.8C1126.2 248.7 1128.8 246.9 1131.5 245.3C1134.1 243.7 1137.0 242.3 1139.9 241.2C1142.7 240.2 1145.7 239.4 1148.6 238.8C1151.6 238.2 1154.6 237.9 1157.6 237.8C1160.6 237.6 1163.7 237.6 1166.7 237.7C1169.8 237.8 1172.9 238.1 1175.9 238.4C1179.0 238.6 1182.0 239.1 1185.1 239.4C1188.1 239.7 1191.2 240.2 1194.2 240.3C1197.2 240.4 1200.3 240.2 1203.3 239.9C1206.3 239.5 1209.4 238.6 1212.4 238.2C1215.4 237.8 1218.1 237.7 1221.2 237.7C1224.3 237.7 1227.8 238.3 1230.9 238.0C1234.0 237.8 1237.6 237.6 1239.8 236.0C1242.1 234.5 1243.0 231.3 1244.4 228.6C1245.7 225.8 1246.2 222.1 1247.8 219.5C1249.5 216.9 1252.0 215.1 1254.2 213.1C1256.4 211.0 1259.0 209.4 1261.1 207.2C1263.3 205.1 1265.1 202.7 1267.0 200.3C1268.8 197.9 1270.4 195.2 1272.0 192.6C1273.6 190.0 1275.1 187.3 1276.7 184.7C1278.3 182.0 1279.7 179.3 1281.4 176.7C1283.0 174.2 1284.6 171.7 1286.4 169.3C1288.2 166.9 1290.1 164.7 1292.2 162.6C1294.2 160.4 1296.3 158.4 1298.6 156.3C1300.8 154.2 1303.2 152.1 1305.7 150.0C1308.1 147.9 1310.8 145.2 1313.4 143.6C1316.0 142.0 1318.7 140.3 1321.2 140.4Z"/>
<path id="s2Tb" d="M1321.2 157.3C1324.1 157.3 1327.0 157.7 1329.8 158.4C1332.6 159.0 1335.4 160.1 1338.1 161.3C1340.7 162.6 1343.3 164.1 1345.8 165.9C1348.3 167.6 1350.7 169.6 1352.9 171.7C1355.1 173.8 1357.1 176.1 1359.0 178.4C1360.9 180.8 1362.5 183.3 1364.1 185.8C1365.6 188.3 1366.8 190.9 1368.2 193.5C1369.5 196.1 1370.7 198.7 1372.2 201.2C1373.7 203.8 1375.2 206.3 1377.0 208.7C1378.7 211.1 1380.8 213.4 1382.7 215.7C1384.6 218.0 1386.9 220.2 1388.4 222.6C1389.9 225.1 1391.0 227.7 1391.9 230.6C1392.8 233.4 1392.5 237.3 1393.7 239.7C1395.0 242.2 1396.9 244.7 1399.3 245.3C1401.7 245.9 1405.2 243.8 1408.1 243.2C1411.1 242.5 1414.0 241.8 1416.9 241.4C1419.8 241.1 1422.7 241.0 1425.6 241.1C1428.6 241.3 1431.5 242.0 1434.4 242.4C1437.4 242.8 1440.3 243.4 1443.3 243.5C1446.3 243.6 1449.2 243.3 1452.2 243.1C1455.2 242.8 1458.2 242.3 1461.1 241.9C1464.1 241.6 1467.1 241.2 1470.0 241.1C1472.9 241.0 1475.8 241.2 1478.7 241.5C1481.6 241.8 1484.4 242.5 1487.3 243.1C1490.3 243.8 1493.3 244.6 1496.3 245.5C1499.2 246.4 1502.3 247.3 1505.0 248.6C1507.8 249.9 1510.4 251.4 1512.6 253.3C1514.8 255.2 1516.7 257.4 1518.3 259.8C1519.9 262.2 1521.1 265.0 1522.1 267.7C1523.0 270.5 1523.6 273.5 1524.0 276.5C1524.3 279.4 1524.4 282.5 1524.1 285.5C1523.9 288.5 1523.3 291.4 1522.5 294.3C1521.7 297.1 1520.6 299.8 1519.4 302.5C1518.1 305.2 1516.7 307.8 1515.1 310.4C1513.6 312.9 1511.9 315.4 1510.3 318.0C1508.7 320.5 1506.9 323.0 1505.4 325.5C1503.8 328.1 1502.2 330.6 1500.8 333.2C1499.4 335.9 1498.1 338.5 1497.0 341.2C1495.9 344.0 1495.1 346.8 1494.1 349.5C1493.0 352.2 1492.1 354.9 1490.7 357.5C1489.3 360.1 1487.6 362.5 1485.7 365.0C1483.7 367.5 1480.2 370.1 1479.2 372.5C1478.1 374.9 1478.2 377.2 1479.3 379.6C1480.4 381.9 1484.0 384.2 1485.8 386.7C1487.7 389.2 1489.1 392.1 1490.4 394.8C1491.7 397.5 1492.6 400.2 1493.8 402.9C1494.9 405.6 1496.1 408.1 1497.3 410.7C1498.5 413.3 1499.8 415.8 1501.2 418.3C1502.5 420.9 1503.9 423.4 1505.4 426.0C1506.9 428.6 1508.5 431.2 1510.1 433.8C1511.6 436.4 1513.3 439.1 1514.8 441.8C1516.3 444.5 1517.8 447.2 1519.1 450.0C1520.4 452.7 1521.6 455.5 1522.5 458.3C1523.3 461.1 1524.1 463.9 1524.4 466.7C1524.7 469.6 1524.8 472.4 1524.5 475.3C1524.1 478.1 1523.3 481.0 1522.2 483.8C1521.2 486.5 1519.7 489.3 1518.0 491.7C1516.3 494.2 1514.3 496.6 1512.1 498.6C1509.9 500.6 1507.4 502.3 1504.8 503.8C1502.3 505.2 1499.5 506.3 1496.7 507.2C1493.9 508.1 1490.9 508.7 1487.9 509.2C1484.9 509.7 1481.8 510.0 1478.8 510.1C1475.8 510.3 1472.7 510.3 1469.7 510.3C1466.8 510.2 1463.8 510.0 1460.9 509.9C1457.9 509.8 1455.0 509.5 1452.1 509.4C1449.2 509.3 1446.3 509.1 1443.4 509.1C1440.5 509.0 1437.6 509.0 1434.6 509.2C1431.7 509.4 1428.7 509.8 1425.7 510.2C1422.7 510.5 1419.7 511.4 1416.8 511.2C1413.9 511.0 1411.2 509.6 1408.3 508.8C1405.3 508.0 1401.3 505.9 1399.0 506.5C1396.7 507.2 1395.6 510.2 1394.4 512.6C1393.1 515.1 1392.6 518.5 1391.5 521.3C1390.5 524.0 1389.2 526.6 1387.8 529.1C1386.4 531.7 1384.8 534.0 1383.0 536.4C1381.3 538.8 1379.3 541.1 1377.5 543.5C1375.7 545.9 1374.0 548.3 1372.4 550.8C1370.8 553.3 1369.4 555.9 1367.9 558.5C1366.5 561.0 1365.1 563.6 1363.6 566.2C1362.1 568.7 1360.6 571.2 1358.9 573.5C1357.1 575.9 1355.3 578.2 1353.2 580.3C1351.1 582.4 1348.7 584.4 1346.2 586.1C1343.7 587.8 1341.0 589.4 1338.2 590.7C1335.5 591.9 1332.5 593.0 1329.6 593.6C1326.8 594.3 1323.8 594.7 1320.9 594.7C1318.0 594.7 1315.1 594.3 1312.4 593.6C1309.6 592.9 1306.8 591.9 1304.2 590.6C1301.5 589.4 1299.0 587.8 1296.5 586.1C1294.1 584.4 1291.7 582.4 1289.6 580.3C1287.4 578.2 1285.3 575.9 1283.4 573.5C1281.5 571.2 1279.7 568.7 1278.1 566.2C1276.5 563.7 1275.1 561.1 1273.7 558.6C1272.3 556.0 1271.0 553.4 1269.6 550.9C1268.2 548.3 1266.8 545.8 1265.2 543.3C1263.6 540.8 1261.9 538.4 1260.0 536.1C1258.2 533.8 1255.5 531.8 1253.9 529.3C1252.2 526.9 1250.9 524.4 1250.0 521.5C1249.1 518.7 1249.8 514.7 1248.6 512.3C1247.4 509.8 1245.3 507.3 1242.9 506.7C1240.4 506.1 1236.9 508.3 1234.0 508.9C1231.1 509.5 1228.2 510.2 1225.3 510.5C1222.4 510.8 1219.6 510.9 1216.6 510.8C1213.7 510.6 1210.7 510.1 1207.7 509.7C1204.7 509.4 1201.7 508.9 1198.8 508.8C1195.8 508.6 1192.9 508.8 1190.0 509.0C1187.1 509.1 1184.2 509.5 1181.2 509.8C1178.3 510.1 1175.4 510.4 1172.4 510.5C1169.5 510.6 1166.4 510.7 1163.4 510.5C1160.4 510.3 1157.4 509.9 1154.4 509.4C1151.4 508.8 1148.4 508.0 1145.6 507.0C1142.8 506.0 1140.0 504.8 1137.4 503.4C1134.8 501.9 1132.4 500.2 1130.1 498.3C1127.9 496.4 1125.9 494.2 1124.1 491.9C1122.4 489.5 1120.9 486.9 1119.8 484.3C1118.8 481.6 1118.0 478.7 1117.7 475.8C1117.3 472.8 1117.5 469.7 1117.8 466.7C1118.2 463.7 1119.0 460.7 1119.9 457.8C1120.8 454.9 1121.9 452.1 1123.2 449.4C1124.4 446.7 1125.9 444.1 1127.4 441.5C1128.8 438.9 1130.5 436.4 1132.0 433.9C1133.6 431.4 1135.3 428.9 1136.8 426.4C1138.3 423.8 1139.9 421.3 1141.2 418.7C1142.6 416.2 1143.9 413.5 1145.0 410.9C1146.1 408.2 1147.0 405.4 1148.1 402.7C1149.2 400.0 1150.2 397.2 1151.6 394.5C1153.0 391.9 1154.7 389.2 1156.6 386.7C1158.5 384.3 1162.0 381.9 1163.0 379.6C1164.1 377.2 1163.9 374.9 1162.8 372.5C1161.7 370.1 1158.2 367.6 1156.3 365.1C1154.5 362.6 1153.2 360.0 1151.9 357.4C1150.6 354.7 1149.7 352.1 1148.5 349.4C1147.3 346.7 1146.1 344.0 1144.9 341.3C1143.6 338.7 1142.3 336.0 1140.9 333.3C1139.6 330.7 1138.1 328.1 1136.7 325.5C1135.2 322.9 1133.6 320.5 1132.0 317.9C1130.5 315.4 1128.9 312.9 1127.4 310.4C1126.0 307.8 1124.5 305.3 1123.3 302.6C1122.0 299.9 1120.8 297.2 1119.9 294.3C1119.0 291.5 1118.2 288.4 1117.9 285.4C1117.5 282.4 1117.3 279.2 1117.6 276.2C1118.0 273.3 1118.7 270.4 1119.8 267.7C1120.9 265.0 1122.4 262.4 1124.1 260.1C1125.8 257.8 1127.9 255.6 1130.1 253.7C1132.4 251.8 1134.9 250.1 1137.4 248.6C1140.0 247.2 1142.8 246.0 1145.6 245.0C1148.4 244.0 1151.4 243.2 1154.4 242.6C1157.4 242.1 1160.4 241.7 1163.4 241.5C1166.4 241.3 1169.5 241.3 1172.4 241.5C1175.4 241.6 1178.3 241.9 1181.2 242.2C1184.2 242.5 1187.1 242.9 1190.0 243.0C1192.9 243.2 1195.8 243.4 1198.8 243.2C1201.7 243.1 1204.7 242.6 1207.7 242.3C1210.7 241.9 1213.7 241.4 1216.6 241.2C1219.6 241.1 1222.4 241.2 1225.3 241.5C1228.2 241.8 1231.1 242.5 1234.0 243.1C1237.0 243.7 1240.5 245.9 1242.9 245.3C1245.3 244.7 1247.3 242.2 1248.5 239.7C1249.7 237.3 1249.4 233.4 1250.3 230.5C1251.2 227.7 1252.3 225.1 1253.9 222.7C1255.5 220.2 1257.8 218.1 1259.6 215.7C1261.5 213.4 1263.3 211.1 1265.0 208.7C1266.7 206.2 1268.2 203.7 1269.7 201.2C1271.2 198.7 1272.6 196.0 1274.1 193.5C1275.5 190.9 1276.9 188.3 1278.5 185.8C1280.0 183.3 1281.6 180.8 1283.4 178.4C1285.1 176.1 1287.0 173.8 1289.2 171.7C1291.3 169.6 1293.7 167.6 1296.1 165.9C1298.6 164.2 1301.3 162.6 1304.0 161.4C1306.7 160.1 1309.6 159.1 1312.5 158.4C1315.3 157.7 1318.3 157.3 1321.2 157.3Z"/>
<path id="s2Dt" d="M1321.0 154.8C1324.9 154.8 1329.0 155.8 1332.8 157.2C1336.6 158.7 1340.4 161.1 1343.8 163.5C1347.1 166.0 1350.2 168.9 1352.9 171.8C1355.6 174.8 1357.8 178.1 1360.0 181.4C1362.3 184.7 1364.2 188.3 1366.4 191.7C1368.6 195.1 1370.7 198.6 1373.3 201.7C1375.9 204.8 1379.3 207.5 1382.2 210.4C1385.0 213.3 1388.9 215.6 1390.3 219.0C1391.7 222.5 1391.4 227.1 1390.6 231.1C1389.8 235.1 1387.3 239.3 1385.3 242.8C1383.3 246.4 1380.9 249.1 1378.6 252.4C1376.3 255.7 1373.1 259.0 1371.5 262.7C1369.9 266.4 1367.9 271.2 1368.8 274.5C1369.7 277.9 1373.8 282.4 1376.8 282.7C1379.8 283.1 1384.1 279.3 1386.8 276.5C1389.5 273.7 1391.1 269.3 1393.1 265.8C1395.1 262.3 1396.8 259.0 1398.9 255.4C1401.0 251.8 1402.8 246.6 1405.7 244.2C1408.6 241.9 1412.6 241.6 1416.5 241.1C1420.3 240.6 1424.7 241.3 1428.7 241.3C1432.8 241.3 1436.9 241.1 1441.0 241.0C1445.0 240.9 1449.1 240.7 1453.2 240.6C1457.2 240.5 1461.3 240.3 1465.4 240.3C1469.4 240.3 1473.5 240.4 1477.5 240.6C1481.6 240.9 1485.6 241.3 1489.7 242.0C1493.7 242.7 1497.8 243.5 1501.7 244.8C1505.6 246.1 1509.8 247.6 1513.2 249.7C1516.6 251.8 1520.0 254.2 1522.2 257.4C1524.5 260.6 1526.0 264.7 1526.7 268.6C1527.4 272.6 1527.2 277.0 1526.6 281.1C1526.0 285.2 1524.6 289.2 1523.1 293.0C1521.6 296.7 1519.6 300.3 1517.6 303.9C1515.6 307.4 1513.3 310.7 1511.1 314.1C1509.0 317.5 1506.6 320.8 1504.6 324.3C1502.5 327.8 1500.5 331.3 1498.8 335.1C1497.2 338.9 1496.1 343.2 1494.6 347.1C1493.2 351.0 1492.3 355.4 1490.2 358.5C1488.0 361.5 1485.1 364.0 1481.7 365.5C1478.2 367.1 1473.7 367.6 1469.6 367.9C1465.4 368.2 1460.9 367.4 1456.8 367.2C1452.8 366.9 1449.0 365.7 1445.0 366.4C1441.0 367.2 1434.8 369.3 1432.8 371.6C1430.8 374.0 1430.8 378.1 1432.8 380.4C1434.9 382.7 1441.0 384.7 1445.0 385.5C1449.0 386.3 1452.6 385.3 1456.7 385.1C1460.8 384.9 1465.4 383.9 1469.6 384.1C1473.8 384.2 1478.5 384.4 1481.9 386.0C1485.3 387.6 1487.9 390.5 1490.0 393.7C1492.1 396.9 1492.9 401.6 1494.4 405.4C1495.9 409.2 1497.4 413.0 1499.1 416.6C1500.8 420.3 1502.6 423.9 1504.6 427.4C1506.6 430.9 1509.0 434.3 1511.2 437.8C1513.3 441.3 1515.7 444.7 1517.6 448.3C1519.6 451.8 1521.6 455.5 1523.0 459.2C1524.5 463.0 1525.9 467.0 1526.5 471.0C1527.1 474.9 1527.5 479.2 1526.8 483.2C1526.1 487.1 1524.6 491.2 1522.3 494.5C1520.0 497.8 1516.5 500.8 1513.1 502.8C1509.7 504.9 1505.7 505.6 1501.8 506.8C1497.8 508.0 1493.7 509.0 1489.7 509.8C1485.6 510.7 1481.5 511.4 1477.5 511.7C1473.4 512.1 1469.4 512.0 1465.4 512.0C1461.3 511.9 1457.3 511.5 1453.3 511.3C1449.2 511.1 1445.2 510.7 1441.1 510.6C1437.0 510.5 1432.8 510.6 1428.6 510.7C1424.5 510.9 1420.0 511.9 1416.2 511.4C1412.4 510.8 1408.9 509.8 1406.0 507.4C1403.1 505.0 1401.0 500.5 1398.9 496.9C1396.7 493.3 1395.0 489.5 1393.0 486.0C1391.0 482.4 1389.6 478.4 1386.9 475.6C1384.2 472.8 1379.8 469.0 1376.7 469.3C1373.7 469.6 1369.5 474.0 1368.6 477.4C1367.8 480.7 1370.1 485.8 1371.7 489.5C1373.3 493.1 1376.1 496.0 1378.4 499.3C1380.7 502.6 1383.5 505.7 1385.5 509.3C1387.5 513.0 1389.6 517.2 1390.4 521.1C1391.2 525.0 1391.5 529.1 1390.2 532.7C1389.0 536.2 1385.6 539.2 1382.8 542.1C1379.9 545.0 1375.8 547.2 1373.0 550.2C1370.3 553.1 1368.1 556.3 1366.0 559.8C1363.9 563.2 1362.4 567.4 1360.3 570.8C1358.1 574.3 1355.9 577.6 1353.1 580.5C1350.3 583.4 1347.0 586.0 1343.6 588.3C1340.2 590.6 1336.5 593.1 1332.8 594.5C1329.0 596.0 1325.1 597.2 1321.2 597.2C1317.3 597.2 1313.2 596.2 1309.4 594.8C1305.6 593.3 1301.8 590.9 1298.4 588.5C1295.1 586.0 1292.0 583.1 1289.3 580.2C1286.6 577.2 1284.4 573.9 1282.2 570.6C1279.9 567.3 1278.0 563.7 1275.8 560.3C1273.6 556.9 1271.5 553.4 1268.9 550.3C1266.3 547.2 1262.9 544.5 1260.0 541.6C1257.2 538.7 1253.3 536.4 1251.9 533.0C1250.5 529.5 1250.8 524.9 1251.6 520.9C1252.4 516.9 1254.9 512.7 1256.9 509.2C1258.9 505.6 1261.3 502.9 1263.6 499.6C1265.9 496.3 1269.1 493.0 1270.7 489.3C1272.3 485.6 1274.3 480.8 1273.4 477.5C1272.5 474.1 1268.4 469.6 1265.4 469.3C1262.4 468.9 1258.1 472.7 1255.4 475.5C1252.7 478.3 1251.1 482.7 1249.1 486.2C1247.1 489.7 1245.4 493.0 1243.3 496.6C1241.2 500.2 1239.4 505.4 1236.5 507.8C1233.6 510.1 1229.6 510.4 1225.7 510.9C1221.9 511.4 1217.5 510.7 1213.5 510.7C1209.4 510.7 1205.3 510.9 1201.2 511.0C1197.2 511.1 1193.1 511.3 1189.0 511.4C1185.0 511.5 1180.9 511.7 1176.8 511.7C1172.8 511.7 1168.7 511.6 1164.7 511.4C1160.6 511.1 1156.6 510.7 1152.5 510.0C1148.5 509.3 1144.4 508.5 1140.5 507.2C1136.6 505.9 1132.4 504.4 1129.0 502.3C1125.6 500.2 1122.2 497.8 1120.0 494.6C1117.7 491.4 1116.2 487.4 1115.5 483.4C1114.8 479.5 1115.0 475.0 1115.6 470.9C1116.2 466.8 1117.6 462.8 1119.1 459.0C1120.6 455.2 1122.6 451.6 1124.6 448.1C1126.6 444.6 1128.9 441.3 1131.1 437.9C1133.2 434.5 1135.6 431.3 1137.6 427.8C1139.7 424.3 1141.7 420.7 1143.4 416.9C1145.0 413.1 1146.1 408.7 1147.6 404.8C1149.0 400.9 1149.9 396.5 1152.0 393.5C1154.2 390.4 1157.1 388.1 1160.5 386.6C1163.9 385.0 1168.5 384.6 1172.6 384.3C1176.8 384.0 1181.3 384.6 1185.4 384.7C1189.5 384.8 1193.2 385.6 1197.2 384.9C1201.2 384.3 1207.3 383.3 1209.4 381.0C1211.4 378.7 1211.4 373.6 1209.4 371.3C1207.4 368.9 1201.2 367.6 1197.2 366.9C1193.2 366.2 1189.6 366.8 1185.5 366.9C1181.4 367.1 1176.8 368.0 1172.6 367.8C1168.4 367.6 1163.7 367.5 1160.3 366.0C1156.9 364.4 1154.3 361.6 1152.2 358.3C1150.1 355.1 1149.3 350.4 1147.8 346.6C1146.3 342.8 1144.8 339.0 1143.1 335.3C1141.4 331.7 1139.6 328.1 1137.6 324.6C1135.6 321.1 1133.2 317.7 1131.0 314.2C1128.9 310.7 1126.5 307.3 1124.6 303.7C1122.6 300.1 1120.6 296.5 1119.2 292.8C1117.7 289.0 1116.3 285.0 1115.7 281.0C1115.1 277.1 1114.7 272.8 1115.4 268.8C1116.1 264.9 1117.6 260.8 1119.9 257.5C1122.2 254.2 1125.7 251.2 1129.1 249.2C1132.5 247.1 1136.5 246.4 1140.4 245.2C1144.4 244.0 1148.5 243.0 1152.5 242.2C1156.6 241.3 1160.7 240.6 1164.7 240.3C1168.8 239.9 1172.8 240.0 1176.8 240.0C1180.9 240.1 1184.9 240.5 1188.9 240.7C1193.0 240.9 1197.0 241.3 1201.1 241.4C1205.2 241.5 1209.4 241.4 1213.6 241.3C1217.7 241.1 1222.2 240.1 1226.0 240.6C1229.8 241.2 1233.3 242.2 1236.2 244.6C1239.1 247.0 1241.2 251.5 1243.3 255.1C1245.5 258.7 1247.2 262.5 1249.2 266.0C1251.2 269.6 1252.6 273.6 1255.3 276.4C1258.0 279.2 1262.4 283.0 1265.5 282.7C1268.5 282.4 1272.7 278.0 1273.6 274.6C1274.4 271.3 1272.1 266.2 1270.5 262.5C1268.9 258.9 1266.1 256.0 1263.8 252.7C1261.5 249.4 1258.7 246.3 1256.7 242.7C1254.7 239.0 1252.6 234.8 1251.8 230.9C1251.0 227.0 1250.7 222.9 1252.0 219.3C1253.2 215.8 1256.6 212.8 1259.4 209.9C1262.3 207.0 1266.4 204.8 1269.2 201.8C1271.9 198.9 1274.1 195.7 1276.2 192.2C1278.3 188.8 1279.8 184.6 1281.9 181.2C1284.1 177.7 1286.3 174.4 1289.1 171.5C1291.9 168.6 1295.2 166.0 1298.6 163.7C1302.0 161.4 1305.7 158.9 1309.4 157.5C1313.2 156.0 1317.1 154.8 1321.0 154.8Z"/>
<path id="s2Db" d="M1321.2 156.0C1324.9 156.0 1328.8 156.9 1332.4 158.3C1336.0 159.6 1339.6 161.7 1342.8 164.0C1346.0 166.3 1348.9 169.0 1351.6 171.9C1354.3 174.7 1356.6 177.9 1358.8 181.1C1361.0 184.2 1362.8 187.6 1364.8 191.0C1366.8 194.3 1368.7 197.7 1370.9 201.0C1373.1 204.2 1375.7 207.3 1378.0 210.6C1380.3 213.8 1382.9 216.9 1384.5 220.3C1386.2 223.7 1387.5 227.4 1387.8 231.1C1388.0 234.9 1387.5 239.0 1386.3 242.8C1385.1 246.5 1382.8 250.1 1380.6 253.4C1378.5 256.7 1375.0 259.3 1373.2 262.7C1371.4 266.0 1369.3 270.4 1369.8 273.6C1370.3 276.8 1373.3 281.1 1376.3 282.0C1379.2 282.9 1384.5 281.1 1387.5 279.1C1390.5 277.1 1392.1 273.3 1394.1 269.9C1396.1 266.5 1397.3 262.2 1399.3 258.7C1401.3 255.2 1403.4 251.4 1406.0 248.9C1408.7 246.4 1411.8 244.5 1415.2 243.5C1418.6 242.4 1422.7 242.5 1426.6 242.5C1430.6 242.6 1434.9 243.4 1439.0 243.8C1443.0 244.2 1447.0 244.7 1450.9 245.0C1454.8 245.4 1458.5 245.4 1462.3 245.7C1466.1 245.9 1469.9 246.0 1473.8 246.4C1477.6 246.7 1481.6 247.1 1485.5 247.6C1489.4 248.2 1493.5 248.6 1497.3 249.7C1501.1 250.8 1505.0 252.0 1508.1 254.2C1511.3 256.3 1514.1 259.2 1516.3 262.4C1518.4 265.6 1520.1 269.5 1521.1 273.2C1522.1 276.9 1522.4 281.0 1522.2 284.8C1522.0 288.7 1521.1 292.6 1520.0 296.3C1518.9 300.0 1517.2 303.7 1515.5 307.2C1513.8 310.8 1511.7 314.1 1509.6 317.4C1507.6 320.7 1505.3 323.8 1503.2 327.1C1501.1 330.4 1498.8 333.5 1496.9 336.9C1494.9 340.3 1493.2 343.8 1491.5 347.3C1489.8 350.9 1489.0 355.1 1486.7 358.2C1484.4 361.2 1481.1 363.9 1477.6 365.4C1474.2 366.9 1469.9 366.9 1466.0 367.1C1462.2 367.3 1458.3 366.7 1454.4 366.6C1450.4 366.4 1446.3 365.8 1442.5 366.5C1438.7 367.2 1433.4 368.3 1431.7 370.7C1429.9 373.1 1429.9 378.5 1431.7 381.0C1433.5 383.5 1438.7 385.0 1442.5 385.7C1446.2 386.5 1450.3 385.7 1454.2 385.5C1458.2 385.4 1462.2 384.6 1466.2 384.8C1470.1 385.0 1474.4 385.4 1477.8 386.9C1481.1 388.4 1484.1 390.7 1486.5 393.6C1488.8 396.6 1490.0 400.9 1491.7 404.5C1493.4 408.2 1495.0 412.0 1496.9 415.4C1498.7 418.9 1500.9 422.0 1503.0 425.1C1505.1 428.3 1507.5 431.2 1509.6 434.3C1511.7 437.5 1513.9 440.7 1515.6 444.2C1517.3 447.8 1518.9 451.7 1520.0 455.6C1521.1 459.5 1521.9 463.7 1522.1 467.7C1522.3 471.7 1522.1 475.7 1521.1 479.4C1520.2 483.0 1518.7 486.5 1516.5 489.4C1514.3 492.3 1511.2 494.9 1508.0 497.0C1504.8 499.1 1500.8 500.8 1497.1 502.1C1493.3 503.5 1489.3 504.3 1485.5 505.0C1481.6 505.7 1477.8 505.9 1474.0 506.1C1470.2 506.4 1466.4 506.3 1462.5 506.4C1458.7 506.5 1454.8 506.4 1450.8 506.7C1446.9 506.9 1442.8 507.5 1438.7 507.9C1434.7 508.4 1430.5 509.4 1426.6 509.5C1422.7 509.6 1418.7 509.8 1415.3 508.7C1411.9 507.6 1408.7 505.7 1406.0 503.0C1403.3 500.4 1401.1 496.5 1399.1 493.0C1397.2 489.6 1396.4 485.8 1394.4 482.4C1392.4 479.1 1390.2 475.1 1387.2 472.9C1384.2 470.8 1379.5 468.9 1376.5 469.8C1373.5 470.7 1369.9 475.1 1369.4 478.4C1368.9 481.7 1371.7 486.0 1373.6 489.4C1375.4 492.8 1378.5 495.4 1380.6 498.7C1382.7 502.0 1384.8 505.5 1386.1 509.2C1387.3 512.9 1388.2 517.1 1388.0 520.8C1387.7 524.6 1386.1 528.2 1384.4 531.7C1382.7 535.1 1380.1 538.3 1377.9 541.5C1375.6 544.8 1373.3 548.0 1371.2 551.2C1369.0 554.4 1366.8 557.6 1364.7 560.9C1362.6 564.2 1360.7 567.6 1358.6 570.8C1356.4 574.0 1354.3 577.3 1351.7 580.2C1349.1 583.0 1346.2 585.9 1342.9 588.1C1339.7 590.4 1336.0 592.5 1332.3 593.7C1328.6 595.0 1324.7 595.9 1320.9 595.9C1317.2 595.9 1313.4 595.1 1309.8 593.8C1306.3 592.5 1302.8 590.4 1299.6 588.2C1296.4 585.9 1293.4 583.0 1290.6 580.1C1287.9 577.2 1285.5 574.0 1283.3 570.8C1281.1 567.6 1279.3 564.3 1277.3 561.0C1275.3 557.7 1273.6 554.4 1271.4 551.1C1269.2 547.9 1266.6 544.7 1264.3 541.5C1262.0 538.3 1259.3 535.1 1257.7 531.7C1256.0 528.2 1254.7 524.6 1254.4 520.8C1254.1 517.1 1254.7 513.0 1255.9 509.3C1257.1 505.6 1259.4 501.9 1261.6 498.6C1263.8 495.3 1267.2 492.6 1269.0 489.3C1270.8 485.9 1272.9 481.8 1272.4 478.6C1271.9 475.3 1268.8 470.7 1265.9 469.8C1262.9 468.8 1257.9 470.9 1254.9 473.0C1251.9 475.1 1249.9 478.8 1247.8 482.2C1245.8 485.6 1244.6 489.8 1242.7 493.3C1240.9 496.8 1239.3 500.5 1236.7 503.1C1234.0 505.6 1230.5 507.4 1226.9 508.5C1223.2 509.6 1218.8 509.5 1214.8 509.5C1210.9 509.5 1206.9 508.8 1203.1 508.3C1199.2 507.9 1195.5 507.3 1191.7 506.9C1187.9 506.5 1184.2 506.3 1180.3 506.0C1176.4 505.8 1172.4 505.8 1168.4 505.6C1164.4 505.4 1160.2 505.3 1156.2 504.8C1152.3 504.3 1148.2 503.7 1144.6 502.5C1140.9 501.3 1137.4 499.8 1134.3 497.6C1131.2 495.4 1128.4 492.5 1126.2 489.4C1124.0 486.3 1122.2 482.6 1121.1 478.9C1120.1 475.2 1119.7 471.2 1119.8 467.3C1120.0 463.5 1120.9 459.5 1122.0 455.7C1123.2 451.9 1124.9 448.1 1126.7 444.6C1128.5 441.1 1130.7 437.9 1132.8 434.6C1134.9 431.3 1137.2 428.3 1139.3 425.0C1141.3 421.8 1143.3 418.6 1145.2 415.1C1147.0 411.7 1148.4 408.0 1150.2 404.5C1152.1 401.0 1153.7 397.0 1156.1 394.0C1158.4 391.0 1161.0 388.1 1164.3 386.6C1167.6 385.0 1172.0 385.0 1175.9 384.8C1179.8 384.6 1184.0 385.4 1188.0 385.5C1192.0 385.6 1195.9 386.2 1199.7 385.5C1203.5 384.8 1208.7 383.7 1210.5 381.3C1212.3 378.9 1212.2 373.5 1210.5 371.0C1208.7 368.4 1203.6 366.9 1199.8 366.2C1196.0 365.5 1191.8 366.5 1187.8 366.7C1183.8 366.9 1179.8 367.7 1175.9 367.3C1172.1 367.0 1168.0 366.3 1164.7 364.8C1161.3 363.3 1158.3 361.1 1155.8 358.3C1153.4 355.5 1151.8 351.6 1150.0 348.0C1148.3 344.4 1147.1 340.2 1145.3 336.6C1143.5 333.0 1141.5 329.7 1139.4 326.5C1137.3 323.3 1134.9 320.6 1132.7 317.5C1130.6 314.3 1128.3 311.3 1126.5 307.8C1124.8 304.3 1123.1 300.5 1122.1 296.5C1121.0 292.6 1120.2 288.4 1120.0 284.4C1119.9 280.4 1120.1 276.3 1121.1 272.6C1122.0 269.0 1123.6 265.5 1125.8 262.5C1128.0 259.6 1131.0 257.1 1134.3 255.0C1137.5 252.9 1141.4 251.2 1145.1 249.9C1148.8 248.6 1152.8 247.7 1156.7 247.0C1160.5 246.4 1164.3 246.2 1168.2 245.9C1172.0 245.7 1175.8 245.7 1179.7 245.6C1183.6 245.5 1187.4 245.6 1191.4 245.3C1195.4 245.0 1199.4 244.5 1203.5 244.0C1207.5 243.6 1211.7 242.6 1215.6 242.5C1219.5 242.4 1223.4 242.2 1226.9 243.3C1230.3 244.4 1233.5 246.4 1236.2 249.0C1238.9 251.6 1241.2 255.6 1243.1 259.0C1245.0 262.4 1245.7 266.1 1247.6 269.5C1249.6 272.8 1252.0 277.0 1255.0 279.1C1258.1 281.2 1263.0 283.2 1265.9 282.3C1268.7 281.3 1271.6 276.6 1272.2 273.4C1272.8 270.1 1271.2 266.3 1269.4 262.9C1267.6 259.6 1263.8 256.7 1261.6 253.3C1259.3 249.9 1256.9 246.3 1255.7 242.6C1254.5 239.0 1254.0 234.9 1254.4 231.2C1254.7 227.5 1256.3 223.9 1258.0 220.4C1259.6 216.9 1262.1 213.7 1264.2 210.4C1266.4 207.1 1268.7 204.0 1270.9 200.7C1273.1 197.5 1275.4 194.3 1277.5 191.1C1279.6 187.8 1281.5 184.4 1283.7 181.3C1285.9 178.1 1288.0 174.8 1290.6 171.9C1293.2 169.0 1296.0 166.2 1299.2 163.9C1302.4 161.6 1306.1 159.5 1309.8 158.2C1313.4 156.9 1317.4 156.0 1321.2 156.0Z"/>
<filter id="tf2top" filterUnits="userSpaceOnUse" x="1131.1" y="-42.0" width="608.0" height="608.0" color-interpolation-filters="sRGB">
<feColorMatrix in="SourceGraphic" type="matrix" values="1 0 0 0 0  1 0 0 0 0  1 0 0 0 0  0 0 0 0 1" result="M"/>
<feGaussianBlur in="M" stdDeviation="8" result="B1"/>
<feGaussianBlur in="M" stdDeviation="20" result="B2"/>
<feGaussianBlur in="M" stdDeviation="60" result="B3"/>
<feComposite in="B1" in2="B2" operator="arithmetic" k1="0" k2="0.3" k3="0.4" k4="0" result="F12"/>
<feComposite in="F12" in2="B3" operator="arithmetic" k1="0" k2="1" k3="0.3" k4="0" result="F"/>
<feComponentTransfer in="F" result="TOUT0"><feFuncR type="table" tableValues="0.5050 0.5050 0.5086 0.5128 0.5172 0.5219 0.5266 0.5328 0.5426 0.5525 0.5644 0.5828 0.6011 0.6194 0.6379 0.6565 0.6750 0.6918 0.7011 0.7104 0.7196 0.7289 0.7382 0.7457 0.7482 0.7507 0.7533 0.7558 0.7583 0.7609 0.7634 0.7659 0.7685 0.7710 0.7735 0.7760 0.7786 0.7811 0.7836 0.7870 0.7915 0.7959 0.8004 0.8048 0.8093 0.8137 0.8181 0.8226 0.8270 0.8300 0.8300 0.8300 0.8300 0.8300 0.8300 0.8300 0.8300 0.8300 0.8300 0.8300 0.8300 0.8300 0.8300 0.8300 0.8300 0.8300 0.8300 0.8300 0.8300 0.8300 0.8300 0.8300 0.8300 0.8300 0.8300 0.8300 0.8300 0.8300 0.8300 0.8300 0.8300 0.8300 0.8300 0.8300 0.8300 0.8300 0.8300 0.8300 0.8300 0.8300 0.8300 0.8300 0.8300 0.8300 0.8300 0.8300 0.8300 0.8300 0.8300 0.8300 0.8300 0.8300 0.8300 0.8300 0.8300 0.8300 0.8300 0.8300 0.8300 0.8300 0.8300 0.8300 0.8300 0.8300 0.8300 0.8300 0.8300 0.8300 0.8300 0.8300 0.8300 0.8300 0.8300 0.8300 0.8300 0.8300 0.8300 0.8300 0.8300"/><feFuncG type="table" tableValues="0.5050 0.5050 0.5086 0.5128 0.5172 0.5219 0.5266 0.5328 0.5426 0.5525 0.5644 0.5828 0.6011 0.6194 0.6379 0.6565 0.6750 0.6918 0.7011 0.7104 0.7196 0.7289 0.7382 0.7457 0.7482 0.7507 0.7533 0.7558 0.7583 0.7609 0.7634 0.7659 0.7685 0.7710 0.7735 0.7760 0.7786 0.7811 0.7836 0.7870 0.7915 0.7959 0.8004 0.8048 0.8093 0.8137 0.8181 0.8226 0.8270 0.8300 0.8300 0.8300 0.8300 0.8300 0.8300 0.8300 0.8300 0.8300 0.8300 0.8300 0.8300 0.8300 0.8300 0.8300 0.8300 0.8300 0.8300 0.8300 0.8300 0.8300 0.8300 0.8300 0.8300 0.8300 0.8300 0.8300 0.8300 0.8300 0.8300 0.8300 0.8300 0.8300 0.8300 0.8300 0.8300 0.8300 0.8300 0.8300 0.8300 0.8300 0.8300 0.8300 0.8300 0.8300 0.8300 0.8300 0.8300 0.8300 0.8300 0.8300 0.8300 0.8300 0.8300 0.8300 0.8300 0.8300 0.8300 0.8300 0.8300 0.8300 0.8300 0.8300 0.8300 0.8300 0.8300 0.8300 0.8300 0.8300 0.8300 0.8300 0.8300 0.8300 0.8300 0.8300 0.8300 0.8300 0.8300 0.8300 0.8300"/><feFuncB type="table" tableValues="0.5050 0.5050 0.5086 0.5128 0.5172 0.5219 0.5266 0.5328 0.5426 0.5525 0.5644 0.5828 0.6011 0.6194 0.6379 0.6565 0.6750 0.6918 0.7011 0.7104 0.7196 0.7289 0.7382 0.7457 0.7482 0.7507 0.7533 0.7558 0.7583 0.7609 0.7634 0.7659 0.7685 0.7710 0.7735 0.7760 0.7786 0.7811 0.7836 0.7870 0.7915 0.7959 0.8004 0.8048 0.8093 0.8137 0.8181 0.8226 0.8270 0.8300 0.8300 0.8300 0.8300 0.8300 0.8300 0.8300 0.8300 0.8300 0.8300 0.8300 0.8300 0.8300 0.8300 0.8300 0.8300 0.8300 0.8300 0.8300 0.8300 0.8300 0.8300 0.8300 0.8300 0.8300 0.8300 0.8300 0.8300 0.8300 0.8300 0.8300 0.8300 0.8300 0.8300 0.8300 0.8300 0.8300 0.8300 0.8300 0.8300 0.8300 0.8300 0.8300 0.8300 0.8300 0.8300 0.8300 0.8300 0.8300 0.8300 0.8300 0.8300 0.8300 0.8300 0.8300 0.8300 0.8300 0.8300 0.8300 0.8300 0.8300 0.8300 0.8300 0.8300 0.8300 0.8300 0.8300 0.8300 0.8300 0.8300 0.8300 0.8300 0.8300 0.8300 0.8300 0.8300 0.8300 0.8300 0.8300 0.8300"/></feComponentTransfer>
<feGaussianBlur in="SourceGraphic" stdDeviation="4" result="GBL"/>
<feColorMatrix in="GBL" type="matrix" values="0 0.09 0 0 0.5  0 0.09 0 0 0.5  0 0.09 0 0 0.5  0 0 0 0 1" result="EXO"/>
<feComposite in="TOUT0" in2="EXO" operator="arithmetic" k1="0" k2="1" k3="1" k4="-0.5" result="TOUT1"/>
<feGaussianBlur in="TOUT1" stdDeviation="3.5" result="TOUT"/>
<feColorMatrix in="GBL" type="matrix" values="0 0.16 0 0 0.215  0 0.16 0 0 0.215  0 0.16 0 0 0.215  0 0 0 0 1" result="TIN"/>
<feGaussianBlur in="M" stdDeviation="2.4" result="C"/>
<feComponentTransfer in="C" result="CI"><feFuncR type="table" tableValues="1 0"/><feFuncG type="table" tableValues="1 0"/><feFuncB type="table" tableValues="1 0"/></feComponentTransfer>
<feComposite in="TOUT" in2="CI" operator="arithmetic" k1="1" k2="0" k3="0" k4="0" result="X"/>
<feComposite in="TIN" in2="C" operator="arithmetic" k1="1" k2="0" k3="0" k4="0" result="Y"/>
<feComposite in="X" in2="Y" operator="arithmetic" k1="0" k2="1" k3="1" k4="0" result="T"/>
<feComponentTransfer in="T"><feFuncR type="table" tableValues="0.0000 0.0000 0.0000 0.0000 0.5000 1.0000 1.0000 1.0000 0.5000"/><feFuncG type="table" tableValues="0.0000 0.0000 0.5000 1.0000 1.0000 1.0000 0.5000 0.0000 0.0000"/><feFuncB type="table" tableValues="0.5000 1.0000 1.0000 1.0000 0.5000 0.0000 0.0000 0.0000 0.0000"/><feFuncA type="linear" slope="0" intercept="1"/></feComponentTransfer>
</filter>
<filter id="tf2bot" filterUnits="userSpaceOnUse" x="1131.1" y="186.0" width="608.0" height="608.0" color-interpolation-filters="sRGB">
<feColorMatrix in="SourceGraphic" type="matrix" values="1 0 0 0 0  1 0 0 0 0  1 0 0 0 0  0 0 0 0 1" result="M"/>
<feGaussianBlur in="M" stdDeviation="8" result="B1"/>
<feGaussianBlur in="M" stdDeviation="20" result="B2"/>
<feGaussianBlur in="M" stdDeviation="60" result="B3"/>
<feComposite in="B1" in2="B2" operator="arithmetic" k1="0" k2="0.3" k3="0.4" k4="0" result="F12"/>
<feComposite in="F12" in2="B3" operator="arithmetic" k1="0" k2="1" k3="0.3" k4="0" result="F"/>
<feComponentTransfer in="F" result="TOUT0"><feFuncR type="table" tableValues="0.7450 0.7444 0.7377 0.7293 0.7197 0.7101 0.6845 0.6587 0.6329 0.6067 0.5805 0.5543 0.5280 0.5018 0.4860 0.4710 0.4560 0.4409 0.4259 0.4109 0.3959 0.3808 0.3611 0.3384 0.3156 0.2929 0.2702 0.2475 0.2247 0.2200 0.2200 0.2200 0.2200 0.2200 0.2200 0.2200 0.2200 0.2200 0.2200 0.2200 0.2200 0.2200 0.2200 0.2200 0.2200 0.2200 0.2200 0.2200 0.2200 0.2200 0.2200 0.2200 0.2200 0.2200 0.2200 0.2200 0.2200 0.2200 0.2200 0.2200 0.2200 0.2200 0.2200 0.2200 0.2200 0.2200 0.2200 0.2200 0.2200 0.2200 0.2200 0.2200 0.2200 0.2200 0.2200 0.2200 0.2200 0.2200 0.2200 0.2200 0.2200 0.2200 0.2200 0.2200 0.2200 0.2200 0.2200 0.2200 0.2200 0.2200 0.2200 0.2200 0.2200 0.2200 0.2200 0.2200 0.2200 0.2200 0.2200 0.2200 0.2200 0.2200 0.2200 0.2200 0.2200 0.2200 0.2200 0.2200 0.2200 0.2200 0.2200 0.2200 0.2200 0.2200 0.2200 0.2200 0.2200 0.2200 0.2200 0.2200 0.2200 0.2200 0.2200 0.2200 0.2200 0.2200 0.2200 0.2200 0.2200"/><feFuncG type="table" tableValues="0.7450 0.7444 0.7377 0.7293 0.7197 0.7101 0.6845 0.6587 0.6329 0.6067 0.5805 0.5543 0.5280 0.5018 0.4860 0.4710 0.4560 0.4409 0.4259 0.4109 0.3959 0.3808 0.3611 0.3384 0.3156 0.2929 0.2702 0.2475 0.2247 0.2200 0.2200 0.2200 0.2200 0.2200 0.2200 0.2200 0.2200 0.2200 0.2200 0.2200 0.2200 0.2200 0.2200 0.2200 0.2200 0.2200 0.2200 0.2200 0.2200 0.2200 0.2200 0.2200 0.2200 0.2200 0.2200 0.2200 0.2200 0.2200 0.2200 0.2200 0.2200 0.2200 0.2200 0.2200 0.2200 0.2200 0.2200 0.2200 0.2200 0.2200 0.2200 0.2200 0.2200 0.2200 0.2200 0.2200 0.2200 0.2200 0.2200 0.2200 0.2200 0.2200 0.2200 0.2200 0.2200 0.2200 0.2200 0.2200 0.2200 0.2200 0.2200 0.2200 0.2200 0.2200 0.2200 0.2200 0.2200 0.2200 0.2200 0.2200 0.2200 0.2200 0.2200 0.2200 0.2200 0.2200 0.2200 0.2200 0.2200 0.2200 0.2200 0.2200 0.2200 0.2200 0.2200 0.2200 0.2200 0.2200 0.2200 0.2200 0.2200 0.2200 0.2200 0.2200 0.2200 0.2200 0.2200 0.2200 0.2200"/><feFuncB type="table" tableValues="0.7450 0.7444 0.7377 0.7293 0.7197 0.7101 0.6845 0.6587 0.6329 0.6067 0.5805 0.5543 0.5280 0.5018 0.4860 0.4710 0.4560 0.4409 0.4259 0.4109 0.3959 0.3808 0.3611 0.3384 0.3156 0.2929 0.2702 0.2475 0.2247 0.2200 0.2200 0.2200 0.2200 0.2200 0.2200 0.2200 0.2200 0.2200 0.2200 0.2200 0.2200 0.2200 0.2200 0.2200 0.2200 0.2200 0.2200 0.2200 0.2200 0.2200 0.2200 0.2200 0.2200 0.2200 0.2200 0.2200 0.2200 0.2200 0.2200 0.2200 0.2200 0.2200 0.2200 0.2200 0.2200 0.2200 0.2200 0.2200 0.2200 0.2200 0.2200 0.2200 0.2200 0.2200 0.2200 0.2200 0.2200 0.2200 0.2200 0.2200 0.2200 0.2200 0.2200 0.2200 0.2200 0.2200 0.2200 0.2200 0.2200 0.2200 0.2200 0.2200 0.2200 0.2200 0.2200 0.2200 0.2200 0.2200 0.2200 0.2200 0.2200 0.2200 0.2200 0.2200 0.2200 0.2200 0.2200 0.2200 0.2200 0.2200 0.2200 0.2200 0.2200 0.2200 0.2200 0.2200 0.2200 0.2200 0.2200 0.2200 0.2200 0.2200 0.2200 0.2200 0.2200 0.2200 0.2200 0.2200 0.2200"/></feComponentTransfer>
<feGaussianBlur in="SourceGraphic" stdDeviation="4" result="GBL"/>
<feColorMatrix in="GBL" type="matrix" values="0 0 -0.2 0 0.5  0 0 -0.2 0 0.5  0 0 -0.2 0 0.5  0 0 0 0 1" result="EXO"/>
<feComposite in="TOUT0" in2="EXO" operator="arithmetic" k1="0" k2="1" k3="1" k4="-0.5" result="TOUT1"/>
<feGaussianBlur in="TOUT1" stdDeviation="3.5" result="TOUT"/>
<feColorMatrix in="GBL" type="matrix" values="0 -0.2 0 0 0.95  0 -0.2 0 0 0.95  0 -0.2 0 0 0.95  0 0 0 0 1" result="TIN"/>
<feGaussianBlur in="M" stdDeviation="2.4" result="C"/>
<feComponentTransfer in="C" result="CI"><feFuncR type="table" tableValues="1 0"/><feFuncG type="table" tableValues="1 0"/><feFuncB type="table" tableValues="1 0"/></feComponentTransfer>
<feComposite in="TOUT" in2="CI" operator="arithmetic" k1="1" k2="0" k3="0" k4="0" result="X"/>
<feComposite in="TIN" in2="C" operator="arithmetic" k1="1" k2="0" k3="0" k4="0" result="Y"/>
<feComposite in="X" in2="Y" operator="arithmetic" k1="0" k2="1" k3="1" k4="0" result="T"/>
<feComponentTransfer in="T"><feFuncR type="table" tableValues="0.0000 0.0000 0.0000 0.0000 0.5000 1.0000 1.0000 1.0000 0.5000"/><feFuncG type="table" tableValues="0.0000 0.0000 0.5000 1.0000 1.0000 1.0000 0.5000 0.0000 0.0000"/><feFuncB type="table" tableValues="0.5000 1.0000 1.0000 1.0000 0.5000 0.0000 0.0000 0.0000 0.0000"/><feFuncA type="linear" slope="0" intercept="1"/></feComponentTransfer>
</filter>
<clipPath id="q2tl"><rect x="1093.1" y="148.0" width="229.00" height="229.00"/></clipPath>
<clipPath id="q2tr"><rect x="1321.1" y="148.0" width="228.10" height="229.00"/></clipPath>
<clipPath id="q2bl"><rect x="1093.1" y="376.0" width="229.00" height="228.20"/></clipPath>
<clipPath id="q2br"><rect x="1321.1" y="376.0" width="228.10" height="228.20"/></clipPath>
<mask id="m2t" maskUnits="userSpaceOnUse" x="1088.1" y="143.0" width="238.0" height="238.0"><use href="#s2Dt" fill="#fff" filter="url(#bl1)"/></mask>
<mask id="m2b" maskUnits="userSpaceOnUse" x="1088.1" y="371.0" width="238.0" height="238.0"><use href="#s2Db" fill="#fff" filter="url(#bl1)"/></mask>
</defs>
<g clip-path="url(#q0tl)">
<rect x="115.0" y="146.10000000000002" width="232.0" height="232.0" fill="#ffb400"/>
<use href="#s0Tt" fill="#ff8a00" stroke="#ff8a00" stroke-width="9" filter="url(#bl5)"/>
<rect x="117.0" y="148.10000000000002" width="230.0" height="230.0" fill="url(#pto)" mask="url(#m0t)"/>
<rect x="117.0" y="148.10000000000002" width="230.0" height="230.0" fill="url(#moi)" mask="url(#m0t)"/>
</g>
<g clip-path="url(#q0bl)">
<rect x="115.0" y="376.1" width="232.0" height="230.0" fill="#00bfff"/>
<use href="#s0Tb" fill="#0096ff" stroke="#0096ff" stroke-width="9" filter="url(#bl5)"/>
<rect x="117.0" y="376.1" width="230.0" height="228.0" fill="url(#ptb)" mask="url(#m0b)"/>
<rect x="117.0" y="376.1" width="230.0" height="228.0" fill="url(#moib)" mask="url(#m0b)"/>
</g>
<g clip-path="url(#q0tr)"><g filter="url(#tf0top)">
<rect x="155.0" y="-41.89999999999998" width="608.0" height="608.0" fill="#000"/>
<use href="#s0Tt" fill="#f00"/><circle cx="345.0" cy="376.1" r="120" fill="url(#bgb9)" style="mix-blend-mode:lighten"/>
</g></g>
<g clip-path="url(#q0br)"><g filter="url(#tf0bot)">
<rect x="155.0" y="186.10000000000002" width="608.0" height="608.0" fill="#000"/>
<use href="#s0Tb" fill="#f00"/>
</g></g>
<g clip-path="url(#q1tl)">
<rect x="603.2" y="145.89999999999998" width="232.0" height="232.0" fill="#ffbe00"/>
<use href="#s1Dt" fill="#ff8a00" stroke="#ff8a00" stroke-width="9" filter="url(#bl5)"/>
<rect x="605.2" y="147.89999999999998" width="230.0" height="230.0" fill="url(#pto)" mask="url(#m1t)"/>
<rect x="605.2" y="147.89999999999998" width="230.0" height="230.0" fill="url(#moi)" mask="url(#m1t)"/>
</g>
<g clip-path="url(#q1bl)">
<rect x="603.2" y="375.9" width="232.0" height="230.0" fill="#00b8ff"/>
<use href="#s1Db" fill="#0096ff" stroke="#0096ff" stroke-width="9" filter="url(#bl5)"/>
<rect x="605.2" y="375.9" width="230.0" height="228.0" fill="url(#ptb)" mask="url(#m1b)"/>
<rect x="605.2" y="375.9" width="230.0" height="228.0" fill="url(#moib)" mask="url(#m1b)"/>
</g>
<g clip-path="url(#q1tr)"><g filter="url(#tf1top)">
<rect x="643.2" y="-42.10000000000002" width="608.0" height="608.0" fill="#000"/>
<use href="#s1Tt" fill="#f00"/><circle cx="896.2" cy="272.9" r="27" fill="url(#bgg10)" style="mix-blend-mode:lighten"/><circle cx="896.2" cy="478.9" r="27" fill="url(#bgg10)" style="mix-blend-mode:lighten"/><circle cx="770.2" cy="272.9" r="27" fill="url(#bgg10)" style="mix-blend-mode:lighten"/><circle cx="770.2" cy="478.9" r="27" fill="url(#bgg10)" style="mix-blend-mode:lighten"/><circle cx="955.2" cy="375.9" r="24" fill="url(#bgg10)" style="mix-blend-mode:lighten"/><circle cx="711.2" cy="375.9" r="24" fill="url(#bgg10)" style="mix-blend-mode:lighten"/><circle cx="833.2" cy="375.9" r="110" fill="url(#bgb8)" style="mix-blend-mode:lighten"/><circle cx="983.2" cy="300.9" r="40" fill="url(#bgb7)" style="mix-blend-mode:lighten"/><circle cx="983.2" cy="450.9" r="40" fill="url(#bgb7)" style="mix-blend-mode:lighten"/><circle cx="683.2" cy="300.9" r="40" fill="url(#bgb7)" style="mix-blend-mode:lighten"/><circle cx="683.2" cy="450.9" r="40" fill="url(#bgb7)" style="mix-blend-mode:lighten"/><circle cx="833.2" cy="215.9" r="40" fill="url(#bgb7)" style="mix-blend-mode:lighten"/><circle cx="833.2" cy="535.9" r="40" fill="url(#bgb7)" style="mix-blend-mode:lighten"/>
</g></g>
<g clip-path="url(#q1br)"><g filter="url(#tf1bot)">
<rect x="643.2" y="185.89999999999998" width="608.0" height="608.0" fill="#000"/>
<use href="#s1Tb" fill="#f00"/><circle cx="858.2" cy="250.9" r="60" fill="url(#bgg5)" style="mix-blend-mode:lighten"/><circle cx="858.2" cy="500.9" r="60" fill="url(#bgg5)" style="mix-blend-mode:lighten"/><circle cx="808.2" cy="250.9" r="60" fill="url(#bgg5)" style="mix-blend-mode:lighten"/><circle cx="808.2" cy="500.9" r="60" fill="url(#bgg5)" style="mix-blend-mode:lighten"/><circle cx="891.2" cy="273.9" r="36" fill="url(#bgg10)" style="mix-blend-mode:lighten"/><circle cx="891.2" cy="477.9" r="36" fill="url(#bgg10)" style="mix-blend-mode:lighten"/><circle cx="775.2" cy="273.9" r="36" fill="url(#bgg10)" style="mix-blend-mode:lighten"/><circle cx="775.2" cy="477.9" r="36" fill="url(#bgg10)" style="mix-blend-mode:lighten"/><circle cx="950.2" cy="375.9" r="30" fill="url(#bgg10)" style="mix-blend-mode:lighten"/><circle cx="716.2" cy="375.9" r="30" fill="url(#bgg10)" style="mix-blend-mode:lighten"/>
</g></g>
<g clip-path="url(#q2tl)">
<rect x="1091.1" y="146.0" width="232.0" height="232.0" fill="#ffb400"/>
<use href="#s2Dt" fill="#ff8a00" stroke="#ff8a00" stroke-width="9" filter="url(#bl5)"/>
<rect x="1093.1" y="148.0" width="230.0" height="230.0" fill="url(#pto)" mask="url(#m2t)"/>
<rect x="1093.1" y="148.0" width="230.0" height="230.0" fill="url(#moi)" mask="url(#m2t)"/>
</g>
<g clip-path="url(#q2bl)">
<rect x="1091.1" y="376.0" width="232.0" height="230.0" fill="#00bfff"/>
<use href="#s2Db" fill="#0096ff" stroke="#0096ff" stroke-width="9" filter="url(#bl5)"/>
<rect x="1093.1" y="376.0" width="230.0" height="228.0" fill="url(#ptb)" mask="url(#m2b)"/>
<rect x="1093.1" y="376.0" width="230.0" height="228.0" fill="url(#moib)" mask="url(#m2b)"/>
</g>
<g clip-path="url(#q2tr)"><g filter="url(#tf2top)">
<rect x="1131.1" y="-42.0" width="608.0" height="608.0" fill="#000"/>
<use href="#s2Tt" fill="#f00"/><circle cx="1361.1" cy="226.0" r="75" fill="url(#bgg4)" style="mix-blend-mode:lighten"/><circle cx="1361.1" cy="526.0" r="75" fill="url(#bgg4)" style="mix-blend-mode:lighten"/><circle cx="1281.1" cy="226.0" r="75" fill="url(#bgg4)" style="mix-blend-mode:lighten"/><circle cx="1281.1" cy="526.0" r="75" fill="url(#bgg4)" style="mix-blend-mode:lighten"/><circle cx="1399.1" cy="240.0" r="34" fill="url(#bgg10)" style="mix-blend-mode:lighten"/><circle cx="1399.1" cy="512.0" r="34" fill="url(#bgg10)" style="mix-blend-mode:lighten"/><circle cx="1243.1" cy="240.0" r="34" fill="url(#bgg10)" style="mix-blend-mode:lighten"/><circle cx="1243.1" cy="512.0" r="34" fill="url(#bgg10)" style="mix-blend-mode:lighten"/><circle cx="1479.1" cy="376.0" r="30" fill="url(#bgg10)" style="mix-blend-mode:lighten"/><circle cx="1163.1" cy="376.0" r="30" fill="url(#bgg10)" style="mix-blend-mode:lighten"/><circle cx="1337.1" cy="146.0" r="40" fill="url(#bgg10)" style="mix-blend-mode:lighten"/><circle cx="1337.1" cy="606.0" r="40" fill="url(#bgg10)" style="mix-blend-mode:lighten"/><circle cx="1305.1" cy="146.0" r="40" fill="url(#bgg10)" style="mix-blend-mode:lighten"/><circle cx="1305.1" cy="606.0" r="40" fill="url(#bgg10)" style="mix-blend-mode:lighten"/><circle cx="1410.1" cy="218.0" r="30" fill="url(#bgg7)" style="mix-blend-mode:lighten"/><circle cx="1410.1" cy="534.0" r="30" fill="url(#bgg7)" style="mix-blend-mode:lighten"/><circle cx="1232.1" cy="218.0" r="30" fill="url(#bgg7)" style="mix-blend-mode:lighten"/><circle cx="1232.1" cy="534.0" r="30" fill="url(#bgg7)" style="mix-blend-mode:lighten"/>
</g></g>
<g clip-path="url(#q2br)"><g filter="url(#tf2bot)">
<rect x="1131.1" y="186.0" width="608.0" height="608.0" fill="#000"/>
<use href="#s2Tb" fill="#f00"/><circle cx="1341.1" cy="206.0" r="55" fill="url(#bgg3)" style="mix-blend-mode:lighten"/><circle cx="1341.1" cy="546.0" r="55" fill="url(#bgg3)" style="mix-blend-mode:lighten"/><circle cx="1301.1" cy="206.0" r="55" fill="url(#bgg3)" style="mix-blend-mode:lighten"/><circle cx="1301.1" cy="546.0" r="55" fill="url(#bgg3)" style="mix-blend-mode:lighten"/><circle cx="1395.1" cy="243.0" r="38" fill="url(#bgg10)" style="mix-blend-mode:lighten"/><circle cx="1395.1" cy="509.0" r="38" fill="url(#bgg10)" style="mix-blend-mode:lighten"/><circle cx="1247.1" cy="243.0" r="38" fill="url(#bgg10)" style="mix-blend-mode:lighten"/><circle cx="1247.1" cy="509.0" r="38" fill="url(#bgg10)" style="mix-blend-mode:lighten"/><circle cx="1476.1" cy="376.0" r="32" fill="url(#bgg10)" style="mix-blend-mode:lighten"/><circle cx="1166.1" cy="376.0" r="32" fill="url(#bgg10)" style="mix-blend-mode:lighten"/><circle cx="1351.1" cy="140.0" r="40" fill="url(#bgb10)" style="mix-blend-mode:lighten"/><circle cx="1351.1" cy="612.0" r="40" fill="url(#bgb10)" style="mix-blend-mode:lighten"/><circle cx="1291.1" cy="140.0" r="40" fill="url(#bgb10)" style="mix-blend-mode:lighten"/><circle cx="1291.1" cy="612.0" r="40" fill="url(#bgb10)" style="mix-blend-mode:lighten"/><circle cx="1410.1" cy="216.0" r="32" fill="url(#bgb4)" style="mix-blend-mode:lighten"/><circle cx="1410.1" cy="536.0" r="32" fill="url(#bgb4)" style="mix-blend-mode:lighten"/><circle cx="1232.1" cy="216.0" r="32" fill="url(#bgb4)" style="mix-blend-mode:lighten"/><circle cx="1232.1" cy="536.0" r="32" fill="url(#bgb4)" style="mix-blend-mode:lighten"/><circle cx="1536.1" cy="286.0" r="30" fill="url(#bgb5)" style="mix-blend-mode:lighten"/><circle cx="1536.1" cy="466.0" r="30" fill="url(#bgb5)" style="mix-blend-mode:lighten"/><circle cx="1106.1" cy="286.0" r="30" fill="url(#bgb5)" style="mix-blend-mode:lighten"/><circle cx="1106.1" cy="466.0" r="30" fill="url(#bgb5)" style="mix-blend-mode:lighten"/>
</g></g>
<rect x="353.5" y="854" width="572" height="222.5" rx="52" ry="52" fill="#f8f8f8"/>
<text x="499.5" y="926.4" font-size="35" text-anchor="start" textLength="276" lengthAdjust="spacingAndGlyphs">average density Ψ</text>
<path d="M385.7 993.3H438" stroke="#0072bd" stroke-width="5.4"/>
<path d="M650.9 993.3H702.4" stroke="#d95319" stroke-width="5.4"/>
<text x="445" y="1005.5" font-size="35" text-anchor="start" textLength="117" lengthAdjust="spacingAndGlyphs">Ψ = Ψ<tspan dy="6.5" font-size="27">0</tspan><tspan dy="-6.5" font-size="1">&#8203;</tspan></text>
<text x="711" y="1005.5" font-size="35" text-anchor="start" textLength="178.5" lengthAdjust="spacingAndGlyphs">Ψ = 1 − Ψ<tspan dy="6.5" font-size="27">0</tspan><tspan dy="-6.5" font-size="1">&#8203;</tspan></text>
<defs><linearGradient id="jet" x1="0" x2="1" y1="0" y2="0">
<stop offset="0" stop-color="#000080"/>
<stop offset="0.125" stop-color="#0000ff"/>
<stop offset="0.375" stop-color="#00ffff"/>
<stop offset="0.625" stop-color="#ffff00"/>
<stop offset="0.875" stop-color="#ff0000"/>
<stop offset="1" stop-color="#800000"/>
</linearGradient></defs>
<rect x="1093.7" y="926" width="370.8" height="53" fill="url(#jet)"/>
<text x="1090.5" y="1012.7" font-size="35" text-anchor="start" textLength="18.5" lengthAdjust="spacingAndGlyphs">0</text>
<text x="1284.6" y="1012.7" font-size="35" text-anchor="middle" textLength="46" lengthAdjust="spacingAndGlyphs">0.5</text>
<text x="1464.5" y="1012.7" font-size="35" text-anchor="end" textLength="17" lengthAdjust="spacingAndGlyphs">1</text>
<text x="8.2" y="1144.5" font-size="34" text-anchor="start" textLength="407" lengthAdjust="spacingAndGlyphs">(b) area of the solid phase</text>
<text x="120.5" y="1191" font-size="35" text-anchor="start" textLength="35.5" lengthAdjust="spacingAndGlyphs"><tspan font-style="italic">A</tspan><tspan dy="6" font-size="26" font-style="italic">s</tspan><tspan dy="-6" font-size="1">&#8203;</tspan></text>
<path d="M185.30 1218.8V1718.3M249.40 1218.8V1718.3M313.50 1218.8V1718.3M377.60 1218.8V1718.3M441.70 1218.8V1718.3M505.80 1218.8V1718.3" stroke="#000" stroke-opacity="0.135" stroke-width="4.8" fill="none"/>
<path d="M121.2 1268.75H569.9M121.2 1318.70H569.9M121.2 1368.65H569.9M121.2 1418.60H569.9M121.2 1468.55H569.9M121.2 1518.50H569.9M121.2 1568.45H569.9M121.2 1618.40H569.9M121.2 1668.35H569.9" stroke="#000" stroke-opacity="0.135" stroke-width="4.8" fill="none"/>
<clipPath id="cpb"><rect x="118.60000000000001" y="1216.2" width="453.9" height="504.7"/></clipPath>
<g clip-path="url(#cpb)">
<path d="M121.2 1718.3 L124.0 1716.7 L126.8 1715.1 L129.7 1713.5 L132.5 1711.8 L134.0 1710.8 L135.3 1710.0 L138.1 1708.1 L141.0 1706.2 L143.8 1704.2 L146.6 1702.2 L149.4 1700.1 L152.2 1698.1 L155.1 1695.9 L157.9 1693.8 L160.7 1691.6 L163.5 1689.4 L166.4 1687.2 L169.2 1685.0 L172.0 1682.8 L174.8 1680.5 L177.6 1678.3 L180.5 1676.1 L183.3 1673.9 L185.3 1672.3 L186.1 1671.7 L188.9 1669.5 L191.8 1667.4 L194.6 1665.2 L197.4 1663.0 L200.2 1660.8 L203.0 1658.6 L205.9 1656.4 L208.7 1654.2 L211.5 1652.0 L214.3 1649.8 L217.1 1647.5 L220.0 1645.3 L222.8 1643.1 L225.6 1640.8 L228.4 1638.6 L231.3 1636.3 L234.1 1634.0 L236.9 1631.7 L239.7 1629.4 L242.5 1627.1 L245.4 1624.8 L248.2 1622.4 L249.4 1621.4 L251.0 1620.0 L253.8 1617.7 L256.7 1615.3 L259.5 1612.9 L262.3 1610.5 L265.1 1608.0 L267.9 1605.6 L270.8 1603.1 L273.6 1600.7 L276.4 1598.2 L279.2 1595.7 L282.1 1593.2 L284.9 1590.7 L287.7 1588.2 L290.5 1585.7 L293.3 1583.2 L296.2 1580.6 L299.0 1578.1 L301.8 1575.5 L304.6 1573.0 L307.5 1570.4 L310.3 1567.9 L313.1 1565.3 L313.5 1565.0 L315.9 1562.8 L318.7 1560.2 L321.6 1557.6 L324.4 1555.0 L327.2 1552.5 L330.0 1549.8 L332.9 1547.2 L335.7 1544.5 L338.5 1541.8 L340.2 1540.2 L341.3 1539.1 L344.1 1536.3 L347.0 1533.5 L349.8 1530.6 L352.6 1527.8 L355.4 1524.9 L358.2 1522.0 L361.1 1519.0 L363.9 1516.1 L366.7 1513.1 L369.5 1510.1 L372.4 1507.1 L375.2 1504.0 L377.6 1501.4 L378.0 1501.0 L380.8 1497.9 L383.6 1494.8 L386.5 1491.7 L389.3 1488.6 L392.1 1485.4 L394.9 1482.3 L397.8 1479.1 L400.6 1475.9 L403.4 1472.7 L406.2 1469.4 L409.0 1466.2 L411.9 1462.9 L414.7 1459.7 L417.5 1456.4 L420.3 1453.1 L423.2 1449.7 L426.0 1446.4 L428.8 1443.1 L431.6 1439.7 L434.4 1436.3 L437.3 1432.9 L440.1 1429.5 L441.7 1427.6 L442.9 1426.1 L445.7 1422.7 L448.6 1419.2 L451.4 1415.7 L454.2 1412.2 L457.0 1408.7 L459.8 1405.2 L462.7 1401.6 L465.5 1398.0 L468.3 1394.4 L471.1 1390.8 L474.0 1387.2 L476.8 1383.6 L479.6 1379.9 L482.4 1376.3 L485.2 1372.6 L488.1 1369.0 L490.9 1365.3 L493.7 1361.7 L496.5 1358.0 L499.3 1354.3 L502.2 1350.7 L505.0 1347.0 L505.8 1346.0 L507.8 1343.4 L510.6 1339.7 L513.5 1336.0 L516.3 1332.4 L519.1 1328.7 L521.9 1325.0 L524.7 1321.3 L527.6 1317.6 L530.4 1313.9 L533.2 1310.2 L536.0 1306.5 L538.9 1302.8 L541.7 1299.1 L544.5 1295.3 L547.3 1291.6 L550.1 1287.9 L553.0 1284.1 L555.8 1280.4 L558.6 1276.6 L561.4 1272.9 L564.3 1269.1 L567.1 1265.3 L569.9 1261.6" stroke="#0072bd" stroke-width="6.4" fill="none" stroke-linejoin="round" stroke-linecap="butt"/>
<path d="M121.2 1718.3 L124.0 1716.9 L126.8 1715.4 L129.7 1713.8 L132.5 1712.2 L134.0 1711.3 L135.3 1710.5 L138.1 1708.7 L141.0 1706.9 L143.8 1705.0 L146.6 1703.0 L149.4 1701.0 L152.2 1698.9 L155.1 1696.8 L157.9 1694.7 L160.7 1692.5 L163.5 1690.3 L166.4 1688.1 L169.2 1685.9 L172.0 1683.7 L174.8 1681.5 L177.6 1679.3 L180.5 1677.1 L183.3 1674.9 L185.3 1673.3 L186.1 1672.7 L188.9 1670.6 L191.8 1668.4 L194.6 1666.2 L197.4 1664.1 L200.2 1661.9 L203.0 1659.7 L205.9 1657.5 L208.7 1655.3 L211.5 1653.0 L214.3 1650.8 L217.1 1648.6 L220.0 1646.4 L222.8 1644.1 L225.6 1641.9 L228.4 1639.6 L231.3 1637.4 L234.1 1635.1 L236.9 1632.9 L239.7 1630.6 L242.5 1628.4 L245.4 1626.1 L248.2 1623.9 L249.4 1622.9 L251.0 1621.6 L253.8 1619.3 L256.7 1617.1 L259.5 1614.8 L262.3 1612.5 L265.1 1610.3 L267.9 1608.0 L270.8 1605.7 L273.6 1603.4 L276.4 1601.1 L279.2 1598.8 L282.1 1596.6 L284.9 1594.3 L287.7 1591.9 L290.5 1589.6 L293.3 1587.3 L296.2 1585.0 L299.0 1582.7 L301.8 1580.4 L304.6 1578.0 L307.5 1575.7 L310.3 1573.3 L313.1 1571.0 L313.5 1570.6 L315.9 1568.6 L318.7 1566.3 L321.6 1564.0 L324.4 1561.6 L327.2 1559.3 L330.0 1556.9 L332.9 1554.5 L335.7 1552.0 L338.5 1549.5 L340.2 1548.0 L341.3 1546.9 L344.1 1544.3 L347.0 1541.5 L349.8 1538.8 L352.6 1536.0 L355.4 1533.1 L358.2 1530.3 L361.1 1527.3 L363.9 1524.4 L366.7 1521.5 L369.5 1518.5 L372.4 1515.6 L375.2 1512.6 L377.6 1510.1 L378.0 1509.7 L380.8 1506.8 L383.6 1503.8 L386.5 1500.9 L389.3 1497.9 L392.1 1495.0 L394.9 1492.0 L397.8 1489.1 L400.6 1486.1 L403.4 1483.1 L406.2 1480.1 L409.0 1477.1 L411.9 1474.1 L414.7 1471.0 L417.5 1468.0 L420.3 1464.9 L423.2 1461.9 L426.0 1458.8 L428.8 1455.7 L431.6 1452.5 L434.4 1449.4 L437.3 1446.2 L440.1 1443.0 L441.7 1441.2 L442.9 1439.8 L445.7 1436.6 L448.6 1433.3 L451.4 1430.0 L454.2 1426.7 L457.0 1423.4 L459.8 1420.1 L462.7 1416.7 L465.5 1413.3 L468.3 1409.9 L471.1 1406.5 L474.0 1403.1 L476.8 1399.7 L479.6 1396.2 L482.4 1392.7 L485.2 1389.3 L488.1 1385.8 L490.9 1382.2 L493.7 1378.7 L496.5 1375.2 L499.3 1371.6 L502.2 1368.1 L505.0 1364.5 L505.8 1363.5 L507.8 1360.9 L510.6 1357.3 L513.5 1353.7 L516.3 1350.0 L519.1 1346.4 L521.9 1342.7 L524.7 1339.0 L527.6 1335.3 L530.4 1331.6 L533.2 1327.9 L536.0 1324.1 L538.9 1320.4 L541.7 1316.6 L544.5 1312.8 L547.3 1309.0 L550.1 1305.2 L553.0 1301.4 L555.8 1297.5 L558.6 1293.6 L561.4 1289.8 L564.3 1285.9 L567.1 1282.0 L569.9 1278.0" stroke="#d95319" stroke-width="6.4" fill="none" stroke-linejoin="round" stroke-linecap="butt"/>
</g>
<path d="M185.30 1218.8v7.0M185.30 1718.3v-7.0M249.40 1218.8v7.0M249.40 1718.3v-7.0M313.50 1218.8v7.0M313.50 1718.3v-7.0M377.60 1218.8v7.0M377.60 1718.3v-7.0M441.70 1218.8v7.0M441.70 1718.3v-7.0M505.80 1218.8v7.0M505.80 1718.3v-7.0M121.2 1268.75h7.0M569.9 1268.75h-7.0M121.2 1318.70h7.0M569.9 1318.70h-7.0M121.2 1368.65h7.0M569.9 1368.65h-7.0M121.2 1418.60h7.0M569.9 1418.60h-7.0M121.2 1468.55h7.0M569.9 1468.55h-7.0M121.2 1518.50h7.0M569.9 1518.50h-7.0M121.2 1568.45h7.0M569.9 1568.45h-7.0M121.2 1618.40h7.0M569.9 1618.40h-7.0M121.2 1668.35h7.0M569.9 1668.35h-7.0" stroke="#262626" stroke-width="4.8" fill="none"/>
<rect x="121.2" y="1218.8" width="448.7" height="499.5" fill="none" stroke="#262626" stroke-width="5.2"/>
<g clip-path="url(#cpb)">
<path d="M121.2 1718.3 L124.0 1716.7 L126.8 1715.1 L129.7 1713.5 L132.5 1711.8 L134.0 1710.8 L135.3 1710.0 L138.1 1708.1 L141.0 1706.2 L143.8 1704.2 L146.6 1702.2 L149.4 1700.1 L152.2 1698.1 L155.1 1695.9 L157.9 1693.8 L160.7 1691.6 L163.5 1689.4 L166.4 1687.2 L169.2 1685.0 L172.0 1682.8 L174.8 1680.5 L177.6 1678.3 L180.5 1676.1 L183.3 1673.9 L185.3 1672.3 L186.1 1671.7 L188.9 1669.5 L191.8 1667.4 L194.6 1665.2 L197.4 1663.0 L200.2 1660.8 L203.0 1658.6 L205.9 1656.4 L208.7 1654.2 L211.5 1652.0 L214.3 1649.8 L217.1 1647.5 L220.0 1645.3 L222.8 1643.1 L225.6 1640.8 L228.4 1638.6 L231.3 1636.3 L234.1 1634.0 L236.9 1631.7 L239.7 1629.4 L242.5 1627.1 L245.4 1624.8 L248.2 1622.4 L249.4 1621.4 L251.0 1620.0 L253.8 1617.7 L256.7 1615.3 L259.5 1612.9 L262.3 1610.5 L265.1 1608.0 L267.9 1605.6 L270.8 1603.1 L273.6 1600.7 L276.4 1598.2 L279.2 1595.7 L282.1 1593.2 L284.9 1590.7 L287.7 1588.2 L290.5 1585.7 L293.3 1583.2 L296.2 1580.6 L299.0 1578.1 L301.8 1575.5 L304.6 1573.0 L307.5 1570.4 L310.3 1567.9 L313.1 1565.3 L313.5 1565.0 L315.9 1562.8 L318.7 1560.2 L321.6 1557.6 L324.4 1555.0 L327.2 1552.5 L330.0 1549.8 L332.9 1547.2 L335.7 1544.5 L338.5 1541.8 L340.2 1540.2 L341.3 1539.1 L344.1 1536.3 L347.0 1533.5 L349.8 1530.6 L352.6 1527.8 L355.4 1524.9 L358.2 1522.0 L361.1 1519.0 L363.9 1516.1 L366.7 1513.1 L369.5 1510.1 L372.4 1507.1 L375.2 1504.0 L377.6 1501.4 L378.0 1501.0 L380.8 1497.9 L383.6 1494.8 L386.5 1491.7 L389.3 1488.6 L392.1 1485.4 L394.9 1482.3 L397.8 1479.1 L400.6 1475.9 L403.4 1472.7 L406.2 1469.4 L409.0 1466.2 L411.9 1462.9 L414.7 1459.7 L417.5 1456.4 L420.3 1453.1 L423.2 1449.7 L426.0 1446.4 L428.8 1443.1 L431.6 1439.7 L434.4 1436.3 L437.3 1432.9 L440.1 1429.5 L441.7 1427.6 L442.9 1426.1 L445.7 1422.7 L448.6 1419.2 L451.4 1415.7 L454.2 1412.2 L457.0 1408.7 L459.8 1405.2 L462.7 1401.6 L465.5 1398.0 L468.3 1394.4 L471.1 1390.8 L474.0 1387.2 L476.8 1383.6 L479.6 1379.9 L482.4 1376.3 L485.2 1372.6 L488.1 1369.0 L490.9 1365.3 L493.7 1361.7 L496.5 1358.0 L499.3 1354.3 L502.2 1350.7 L505.0 1347.0 L505.8 1346.0 L507.8 1343.4 L510.6 1339.7 L513.5 1336.0 L516.3 1332.4 L519.1 1328.7 L521.9 1325.0 L524.7 1321.3 L527.6 1317.6 L530.4 1313.9 L533.2 1310.2 L536.0 1306.5 L538.9 1302.8 L541.7 1299.1 L544.5 1295.3 L547.3 1291.6 L550.1 1287.9 L553.0 1284.1 L555.8 1280.4 L558.6 1276.6 L561.4 1272.9 L564.3 1269.1 L567.1 1265.3 L569.9 1261.6" stroke="#0072bd" stroke-width="6.4" fill="none" stroke-linejoin="round" stroke-linecap="butt"/>
<path d="M121.2 1718.3 L124.0 1716.9 L126.8 1715.4 L129.7 1713.8 L132.5 1712.2 L134.0 1711.3 L135.3 1710.5 L138.1 1708.7 L141.0 1706.9 L143.8 1705.0 L146.6 1703.0 L149.4 1701.0 L152.2 1698.9 L155.1 1696.8 L157.9 1694.7 L160.7 1692.5 L163.5 1690.3 L166.4 1688.1 L169.2 1685.9 L172.0 1683.7 L174.8 1681.5 L177.6 1679.3 L180.5 1677.1 L183.3 1674.9 L185.3 1673.3 L186.1 1672.7 L188.9 1670.6 L191.8 1668.4 L194.6 1666.2 L197.4 1664.1 L200.2 1661.9 L203.0 1659.7 L205.9 1657.5 L208.7 1655.3 L211.5 1653.0 L214.3 1650.8 L217.1 1648.6 L220.0 1646.4 L222.8 1644.1 L225.6 1641.9 L228.4 1639.6 L231.3 1637.4 L234.1 1635.1 L236.9 1632.9 L239.7 1630.6 L242.5 1628.4 L245.4 1626.1 L248.2 1623.9 L249.4 1622.9 L251.0 1621.6 L253.8 1619.3 L256.7 1617.1 L259.5 1614.8 L262.3 1612.5 L265.1 1610.3 L267.9 1608.0 L270.8 1605.7 L273.6 1603.4 L276.4 1601.1 L279.2 1598.8 L282.1 1596.6 L284.9 1594.3 L287.7 1591.9 L290.5 1589.6 L293.3 1587.3 L296.2 1585.0 L299.0 1582.7 L301.8 1580.4 L304.6 1578.0 L307.5 1575.7 L310.3 1573.3 L313.1 1571.0 L313.5 1570.6 L315.9 1568.6 L318.7 1566.3 L321.6 1564.0 L324.4 1561.6 L327.2 1559.3 L330.0 1556.9 L332.9 1554.5 L335.7 1552.0 L338.5 1549.5 L340.2 1548.0 L341.3 1546.9 L344.1 1544.3 L347.0 1541.5 L349.8 1538.8 L352.6 1536.0 L355.4 1533.1 L358.2 1530.3 L361.1 1527.3 L363.9 1524.4 L366.7 1521.5 L369.5 1518.5 L372.4 1515.6 L375.2 1512.6 L377.6 1510.1 L378.0 1509.7 L380.8 1506.8 L383.6 1503.8 L386.5 1500.9 L389.3 1497.9 L392.1 1495.0 L394.9 1492.0 L397.8 1489.1 L400.6 1486.1 L403.4 1483.1 L406.2 1480.1 L409.0 1477.1 L411.9 1474.1 L414.7 1471.0 L417.5 1468.0 L420.3 1464.9 L423.2 1461.9 L426.0 1458.8 L428.8 1455.7 L431.6 1452.5 L434.4 1449.4 L437.3 1446.2 L440.1 1443.0 L441.7 1441.2 L442.9 1439.8 L445.7 1436.6 L448.6 1433.3 L451.4 1430.0 L454.2 1426.7 L457.0 1423.4 L459.8 1420.1 L462.7 1416.7 L465.5 1413.3 L468.3 1409.9 L471.1 1406.5 L474.0 1403.1 L476.8 1399.7 L479.6 1396.2 L482.4 1392.7 L485.2 1389.3 L488.1 1385.8 L490.9 1382.2 L493.7 1378.7 L496.5 1375.2 L499.3 1371.6 L502.2 1368.1 L505.0 1364.5 L505.8 1363.5 L507.8 1360.9 L510.6 1357.3 L513.5 1353.7 L516.3 1350.0 L519.1 1346.4 L521.9 1342.7 L524.7 1339.0 L527.6 1335.3 L530.4 1331.6 L533.2 1327.9 L536.0 1324.1 L538.9 1320.4 L541.7 1316.6 L544.5 1312.8 L547.3 1309.0 L550.1 1305.2 L553.0 1301.4 L555.8 1297.5 L558.6 1293.6 L561.4 1289.8 L564.3 1285.9 L567.1 1282.0 L569.9 1278.0" stroke="#d95319" stroke-width="6.4" fill="none" stroke-linejoin="round" stroke-linecap="butt"/>
</g>
<text x="56" y="1234.5" font-size="35" text-anchor="start" textLength="44" lengthAdjust="spacingAndGlyphs">0.5</text>
<text x="56" y="1324.9" font-size="35" text-anchor="start" textLength="44" lengthAdjust="spacingAndGlyphs">0.4</text>
<text x="56" y="1423.8" font-size="35" text-anchor="start" textLength="44" lengthAdjust="spacingAndGlyphs">0.3</text>
<text x="56" y="1522.5" font-size="35" text-anchor="start" textLength="44" lengthAdjust="spacingAndGlyphs">0.2</text>
<text x="56" y="1621.1" font-size="35" text-anchor="start" textLength="44" lengthAdjust="spacingAndGlyphs">0.1</text>
<text x="81" y="1719" font-size="35" text-anchor="start" textLength="16" lengthAdjust="spacingAndGlyphs">0</text>
<text x="121" y="1754.8" font-size="35" text-anchor="start" textLength="16.5" lengthAdjust="spacingAndGlyphs">0</text>
<text x="249.7" y="1754.8" font-size="35" text-anchor="start" textLength="13.5" lengthAdjust="spacingAndGlyphs">1</text>
<text x="376.2" y="1754.8" font-size="35" text-anchor="start" textLength="15" lengthAdjust="spacingAndGlyphs">2</text>
<text x="502.9" y="1754.8" font-size="35" text-anchor="start" textLength="16" lengthAdjust="spacingAndGlyphs">3</text>
<text x="270" y="1796" font-size="36" text-anchor="start" textLength="118.5" lengthAdjust="spacingAndGlyphs"><tspan font-style="italic">t</tspan> in 10<tspan dy="-12.5" font-size="25">4</tspan><tspan dy="12.5" font-size="1">&#8203;</tspan></text>
<text x="598.8" y="1144.5" font-size="34" text-anchor="start" textLength="404.5" lengthAdjust="spacingAndGlyphs">(c) temperature difference</text>
<text x="650" y="1191" font-size="36" text-anchor="start" textLength="180" lengthAdjust="spacingAndGlyphs">Δ<tspan font-style="italic">T</tspan> in 10<tspan dy="-12.5" font-size="25">−3</tspan><tspan dy="12.5" font-size="1">&#8203;</tspan></text>
<path d="M712.43 1216.6V1716.6M770.06 1216.6V1716.6M827.69 1216.6V1716.6M885.31 1216.6V1716.6M942.94 1216.6V1716.6M1000.57 1216.6V1716.6" stroke="#000" stroke-opacity="0.135" stroke-width="4.8" fill="none"/>
<path d="M654.8 1272.16H1058.2M654.8 1327.71H1058.2M654.8 1383.27H1058.2M654.8 1438.82H1058.2M654.8 1494.38H1058.2M654.8 1549.93H1058.2M654.8 1605.49H1058.2M654.8 1661.04H1058.2" stroke="#000" stroke-opacity="0.135" stroke-width="4.8" fill="none"/>
<clipPath id="cpc"><rect x="652.1999999999999" y="1214.0" width="408.6000000000001" height="505.2"/></clipPath>
<path d="M712.43 1216.6v7.0M712.43 1716.6v-7.0M770.06 1216.6v7.0M770.06 1716.6v-7.0M827.69 1216.6v7.0M827.69 1716.6v-7.0M885.31 1216.6v7.0M885.31 1716.6v-7.0M942.94 1216.6v7.0M942.94 1716.6v-7.0M1000.57 1216.6v7.0M1000.57 1716.6v-7.0M654.8 1272.16h7.0M1058.2 1272.16h-7.0M654.8 1327.71h7.0M1058.2 1327.71h-7.0M654.8 1383.27h7.0M1058.2 1383.27h-7.0M654.8 1438.82h7.0M1058.2 1438.82h-7.0M654.8 1494.38h7.0M1058.2 1494.38h-7.0M654.8 1549.93h7.0M1058.2 1549.93h-7.0M654.8 1605.49h7.0M1058.2 1605.49h-7.0M654.8 1661.04h7.0M1058.2 1661.04h-7.0" stroke="#262626" stroke-width="4.8" fill="none"/>
<rect x="654.8" y="1216.6" width="403.4000000000001" height="500.0" fill="none" stroke="#262626" stroke-width="5.2"/>
<g clip-path="url(#cpc)">
<path d="M658.9 1706.5 L659.9 1703.9 L661.0 1703.2 L662.0 1701.0 L663.0 1699.7 L663.7 1698.9 L664.0 1698.5 L665.0 1697.2 L666.0 1696.1 L667.0 1695.1 L668.0 1694.5 L669.0 1693.4 L670.0 1693.6 L670.6 1692.1 L671.0 1693.3 L672.0 1691.7 L673.0 1691.7 L674.0 1691.0 L675.0 1691.3 L676.0 1690.8 L677.0 1689.4 L678.0 1688.8 L679.0 1689.6 L680.0 1688.6 L681.0 1688.1 L681.7 1687.9 L682.0 1689.2 L683.0 1689.0 L684.0 1688.6 L685.0 1687.2 L686.0 1688.3 L687.0 1687.6 L688.0 1686.5 L689.0 1687.1 L690.0 1686.7 L691.0 1687.2 L692.0 1686.4 L693.0 1686.0 L694.0 1687.3 L695.0 1686.0 L695.6 1685.5 L696.0 1685.9 L697.0 1686.6 L698.0 1685.6 L699.0 1686.7 L700.0 1686.0 L701.0 1685.2 L702.0 1686.1 L703.0 1686.1 L704.0 1686.2 L705.0 1686.4 L706.0 1685.2 L707.0 1685.9 L708.0 1685.8 L709.0 1685.4 L710.0 1686.0 L711.0 1685.1 L712.0 1685.8 L712.4 1685.1 L713.0 1684.9 L714.0 1685.8 L715.0 1685.3 L716.0 1684.8 L717.0 1685.2 L718.0 1685.8 L719.0 1685.0 L720.0 1684.7 L721.0 1685.0 L722.0 1684.2 L723.0 1684.8 L724.0 1684.3 L725.0 1685.5 L726.0 1685.5 L727.0 1684.3 L728.0 1685.0 L729.0 1685.4 L730.0 1684.1 L731.0 1685.0 L732.0 1684.3 L733.0 1684.4 L734.0 1684.1 L735.0 1684.5 L736.0 1684.3 L737.0 1684.9 L738.0 1685.0 L739.0 1684.0 L740.0 1684.7 L741.0 1683.8 L742.0 1684.3 L743.0 1684.4 L744.0 1685.2 L745.0 1683.8 L746.0 1684.6 L747.0 1684.4 L748.0 1684.7 L749.0 1684.9 L750.0 1683.8 L751.0 1684.4 L752.0 1685.3 L753.0 1684.3 L754.0 1684.7 L755.0 1684.4 L756.0 1683.8 L757.0 1684.7 L758.0 1683.7 L759.0 1684.2 L760.0 1685.2 L761.0 1683.7 L762.0 1684.1 L763.0 1683.6 L764.0 1684.9 L765.0 1685.0 L766.0 1683.7 L767.0 1684.1 L768.0 1685.1 L769.0 1684.0 L770.0 1684.0 L770.1 1683.7 L771.0 1684.0 L772.0 1685.0 L773.0 1685.2 L774.0 1685.2 L775.0 1685.2 L776.0 1684.8 L777.0 1683.8 L778.0 1684.3 L779.0 1684.3 L780.0 1683.8 L781.0 1685.0 L782.0 1684.8 L783.0 1684.3 L784.0 1683.6 L785.0 1684.3 L786.0 1685.2 L787.0 1683.9 L788.0 1684.9 L789.0 1683.9 L790.0 1684.6 L791.0 1683.8 L792.0 1684.0 L793.0 1684.3 L794.0 1685.1 L795.0 1685.2 L796.0 1685.1 L797.0 1685.2 L798.0 1685.1 L799.0 1684.9 L800.0 1684.1 L801.0 1684.4 L802.0 1685.3 L803.0 1685.2 L804.0 1683.7 L805.0 1684.4 L806.0 1685.0 L807.0 1684.9 L808.0 1684.1 L809.0 1685.1 L810.0 1684.4 L811.0 1683.8 L812.0 1684.0 L813.0 1685.0 L814.0 1684.6 L815.0 1684.4 L816.0 1684.1 L817.0 1685.2 L818.0 1685.4 L819.0 1685.3 L820.1 1684.7 L821.1 1684.5 L822.1 1684.5 L823.1 1685.0 L824.1 1683.9 L825.1 1684.6 L826.1 1684.9 L827.1 1684.6 L828.1 1684.3 L829.1 1684.4 L830.1 1685.1 L831.1 1685.5 L832.1 1685.0 L833.1 1684.5 L834.1 1685.3 L835.1 1684.4 L836.1 1685.5 L837.1 1685.2 L838.1 1684.3 L839.1 1685.3 L840.1 1684.6 L841.1 1684.8 L842.1 1684.1 L843.1 1685.3 L844.1 1685.6 L845.1 1684.5 L846.1 1684.4 L847.1 1684.2 L848.1 1684.2 L849.1 1685.7 L850.1 1685.4 L851.1 1684.7 L852.1 1684.2 L853.1 1684.2 L854.1 1684.9 L855.1 1684.3 L856.1 1684.7 L857.1 1685.2 L858.1 1685.0 L859.1 1684.8 L860.1 1684.9 L861.1 1684.3 L862.1 1684.3 L863.1 1685.2 L864.1 1684.3 L865.1 1685.6 L866.1 1685.7 L867.1 1685.7 L868.1 1685.1 L869.1 1685.9 L870.1 1684.4 L871.1 1684.6 L872.1 1685.9 L873.1 1685.7 L874.1 1685.4 L875.1 1685.8 L876.1 1684.6 L877.1 1685.4 L878.1 1684.4 L879.1 1685.0 L880.1 1684.5 L881.1 1684.6 L882.1 1684.5 L883.1 1685.3 L884.1 1685.1 L885.1 1684.7 L885.3 1685.6 L886.1 1685.2 L887.1 1685.1 L888.1 1686.0 L889.1 1685.1 L890.1 1685.3 L891.1 1684.7 L892.1 1685.6 L893.1 1684.6 L894.1 1685.1 L895.1 1685.8 L896.1 1684.8 L897.1 1685.1 L898.1 1686.0 L899.1 1685.4 L900.1 1685.0 L901.1 1684.6 L902.1 1686.1 L903.1 1684.5 L904.1 1685.5 L905.1 1684.5 L906.1 1685.2 L907.1 1684.8 L908.1 1685.2 L909.1 1685.1 L910.1 1685.7 L911.1 1685.2 L912.1 1685.0 L913.1 1684.8 L914.1 1685.0 L915.1 1685.1 L916.1 1684.8 L917.1 1685.7 L918.1 1685.1 L919.1 1685.5 L920.1 1685.6 L921.1 1685.6 L922.1 1685.6 L923.1 1685.8 L924.1 1685.3 L925.1 1685.6 L926.1 1684.7 L927.1 1685.2 L928.1 1686.0 L929.1 1685.6 L930.1 1685.8 L931.1 1685.0 L932.1 1684.9 L933.1 1684.8 L934.1 1685.2 L935.1 1685.9 L936.1 1685.9 L937.1 1684.9 L938.1 1685.5 L939.1 1685.0 L940.1 1685.4 L941.1 1685.2 L942.1 1685.5 L943.1 1685.1 L944.1 1685.5 L945.1 1685.6 L946.1 1685.9 L947.1 1686.3 L948.1 1685.8 L949.1 1686.3 L950.1 1684.8 L951.1 1686.1 L952.1 1685.1 L953.1 1685.0 L954.1 1685.3 L955.1 1685.5 L956.1 1686.2 L957.1 1685.7 L958.1 1685.9 L959.1 1686.1 L960.1 1685.5 L961.1 1686.0 L962.1 1685.0 L963.1 1685.0 L964.1 1686.1 L965.1 1686.3 L966.1 1686.2 L967.1 1685.7 L968.1 1685.3 L969.1 1686.2 L970.1 1686.1 L971.1 1685.1 L972.1 1685.9 L973.1 1685.5 L974.1 1686.2 L975.1 1686.4 L976.1 1685.7 L977.1 1685.8 L978.1 1686.3 L979.2 1685.5 L980.2 1685.7 L981.2 1685.5 L982.2 1686.3 L983.2 1685.3 L984.2 1686.2 L985.2 1685.7 L986.2 1685.3 L987.2 1686.5 L988.2 1686.0 L989.2 1685.1 L990.2 1685.2 L991.2 1685.7 L992.2 1685.2 L993.2 1685.0 L994.2 1685.2 L995.2 1685.2 L996.2 1686.4 L997.2 1685.5 L998.2 1685.4 L999.2 1685.6 L1000.2 1685.3 L1000.6 1686.5 L1001.2 1685.3 L1002.2 1685.4 L1003.2 1686.2 L1004.2 1686.2 L1005.2 1685.5 L1006.2 1686.0 L1007.2 1685.3 L1008.2 1685.9 L1009.2 1685.3 L1010.2 1684.9 L1011.2 1686.1 L1012.2 1686.4 L1013.2 1685.1 L1014.2 1685.7 L1015.2 1685.0 L1016.2 1685.5 L1017.2 1684.9 L1018.2 1685.7 L1019.2 1685.7 L1020.2 1686.4 L1020.2 1686.0 L1021.2 1686.7 L1022.2 1686.8 L1023.2 1686.3 L1024.2 1688.1 L1025.2 1688.1 L1026.2 1687.8 L1027.2 1688.5 L1028.2 1688.8 L1028.2 1689.6 L1029.2 1689.3 L1030.2 1689.2 L1031.2 1688.6 L1032.2 1690.0 L1033.2 1690.1 L1034.2 1690.1 L1035.2 1689.4 L1036.2 1689.9 L1037.2 1690.6 L1038.2 1689.9 L1039.2 1690.4 L1039.4 1689.4 L1040.2 1690.3 L1041.2 1690.7 L1042.2 1689.8 L1043.2 1689.3 L1044.2 1690.1 L1045.2 1689.4 L1046.2 1689.8 L1047.2 1689.7 L1048.2 1689.0 L1049.2 1689.2 L1050.2 1690.4 L1051.2 1689.2 L1052.2 1689.5 L1053.2 1688.7 L1054.2 1689.8 L1055.2 1689.6 L1056.2 1689.8 L1057.2 1689.1 L1058.2 1689.5" stroke="#0072bd" stroke-width="7.2" fill="none" stroke-linejoin="round" stroke-linecap="round"/>
<path d="M659.1 1446.9 L660.1 1441.8 L661.1 1437.2 L662.1 1433.1 L662.6 1431.0 L663.1 1429.6 L664.1 1426.3 L665.1 1423.4 L666.1 1420.9 L666.9 1419.4 L667.1 1419.1 L668.1 1417.7 L669.1 1416.5 L670.1 1415.5 L671.1 1414.5 L672.1 1413.7 L673.1 1413.0 L673.6 1412.7 L674.1 1412.4 L675.1 1411.9 L676.1 1411.3 L677.1 1410.8 L678.1 1410.3 L679.1 1409.9 L680.1 1409.5 L681.1 1409.2 L682.1 1408.9 L683.1 1408.7 L683.6 1408.5 L684.1 1408.5 L685.1 1408.3 L686.1 1408.1 L687.1 1407.9 L688.1 1407.8 L689.1 1407.6 L690.1 1407.5 L691.1 1407.3 L692.1 1407.2 L693.1 1407.1 L694.1 1407.0 L695.1 1407.0 L696.1 1406.9 L697.1 1406.9 L697.1 1406.9 L698.1 1406.8 L699.1 1406.8 L700.1 1406.8 L701.1 1406.8 L702.1 1406.8 L703.1 1406.7 L704.1 1406.7 L705.1 1406.7 L706.1 1406.7 L707.1 1406.7 L708.1 1406.7 L709.1 1406.7 L710.1 1406.6 L711.1 1406.6 L712.1 1406.6 L712.4 1406.6 L713.1 1406.6 L714.1 1406.6 L715.1 1406.5 L716.1 1406.5 L717.1 1406.5 L718.1 1406.5 L719.1 1406.4 L720.1 1406.4 L721.1 1406.4 L722.1 1406.4 L723.1 1406.3 L724.1 1406.3 L725.1 1406.3 L726.1 1406.3 L727.1 1406.2 L728.1 1406.2 L729.1 1406.2 L730.1 1406.1 L731.1 1406.1 L732.1 1406.1 L733.1 1406.0 L734.1 1406.0 L735.1 1406.0 L736.1 1405.9 L737.1 1405.9 L738.1 1405.9 L739.1 1405.8 L740.1 1405.8 L740.7 1405.8 L741.1 1405.8 L742.1 1405.7 L743.1 1405.7 L744.1 1405.6 L745.1 1405.6 L746.1 1405.5 L747.1 1405.5 L748.1 1405.4 L749.1 1405.4 L750.1 1405.4 L751.1 1405.3 L752.1 1405.3 L753.1 1405.2 L754.1 1405.1 L755.1 1405.1 L756.1 1405.0 L757.1 1405.0 L758.1 1404.9 L759.1 1404.9 L760.1 1404.8 L761.1 1404.7 L762.1 1404.7 L763.1 1404.6 L764.1 1404.5 L765.1 1404.5 L766.1 1404.4 L767.1 1404.3 L768.1 1404.2 L769.1 1404.2 L770.1 1404.1 L770.1 1404.1 L771.1 1404.0 L772.1 1403.9 L773.1 1403.8 L774.1 1403.8 L775.1 1403.7 L776.1 1403.6 L777.1 1403.4 L778.1 1403.3 L779.1 1403.2 L780.1 1403.1 L781.1 1403.0 L782.1 1402.9 L783.1 1402.8 L784.1 1402.6 L785.1 1402.5 L786.1 1402.4 L787.1 1402.2 L788.1 1402.1 L789.1 1402.0 L790.1 1401.8 L791.1 1401.7 L792.1 1401.5 L793.1 1401.4 L794.1 1401.3 L795.1 1401.1 L796.1 1401.0 L797.1 1400.8 L798.1 1400.7 L799.1 1400.5 L799.3 1400.5 L800.1 1400.4 L801.1 1400.2 L802.1 1400.1 L803.1 1399.9 L804.1 1399.7 L805.1 1399.6 L806.1 1399.4 L807.1 1399.2 L808.1 1399.1 L809.1 1398.9 L810.1 1398.7 L811.1 1398.5 L812.1 1398.3 L813.1 1398.2 L814.1 1398.0 L815.1 1397.8 L816.1 1397.6 L817.1 1397.4 L818.1 1397.2 L819.1 1397.0 L820.1 1396.8 L821.1 1396.6 L822.1 1396.4 L823.1 1396.2 L824.1 1396.0 L825.1 1395.8 L826.1 1395.5 L827.1 1395.3 L827.7 1395.2 L828.1 1395.1 L829.1 1394.9 L830.1 1394.7 L831.1 1394.4 L832.1 1394.2 L833.1 1394.0 L834.1 1393.7 L835.1 1393.5 L836.1 1393.2 L837.1 1392.9 L838.1 1392.7 L839.1 1392.4 L840.1 1392.2 L841.1 1391.9 L842.1 1391.6 L843.1 1391.4 L844.1 1391.1 L845.1 1390.8 L846.1 1390.5 L847.1 1390.3 L848.1 1390.0 L849.1 1389.7 L850.1 1389.5 L851.1 1389.2 L852.1 1388.9 L853.1 1388.7 L854.1 1388.4 L855.1 1388.2 L856.1 1387.9 L857.1 1387.6 L858.0 1387.4 L858.1 1387.4 L859.1 1387.2 L860.1 1386.9 L861.1 1386.7 L862.1 1386.4 L863.1 1386.2 L864.1 1386.0 L865.1 1385.7 L866.1 1385.5 L867.1 1385.2 L868.1 1385.0 L869.1 1384.8 L870.1 1384.5 L871.1 1384.3 L872.1 1384.1 L873.1 1383.8 L874.1 1383.6 L875.1 1383.4 L876.1 1383.2 L877.1 1382.9 L878.1 1382.7 L879.1 1382.5 L880.1 1382.2 L881.1 1382.0 L882.1 1381.8 L883.1 1381.5 L884.1 1381.3 L885.1 1381.1 L885.3 1381.0 L886.1 1380.9 L887.1 1380.6 L888.1 1380.4 L889.1 1380.2 L890.1 1380.1 L891.1 1379.9 L892.1 1379.7 L893.1 1379.4 L894.1 1379.2 L895.1 1379.0 L896.1 1378.7 L897.1 1378.4 L897.5 1378.3 L898.1 1378.0 L899.1 1377.6 L900.1 1377.0 L901.1 1376.4 L902.1 1375.8 L903.1 1375.2 L904.1 1374.7 L905.1 1374.3 L905.6 1374.1 L906.1 1373.9 L907.1 1373.7 L908.1 1373.5 L909.1 1373.3 L910.1 1373.1 L911.2 1372.9 L912.2 1372.7 L913.2 1372.6 L914.2 1372.4 L915.2 1372.2 L916.2 1372.0 L917.2 1371.8 L917.8 1371.6 L918.2 1371.5 L919.2 1371.2 L920.2 1370.8 L921.2 1370.4 L922.2 1369.9 L923.2 1369.5 L924.2 1369.0 L925.2 1368.6 L926.2 1368.1 L927.2 1367.7 L928.2 1367.3 L928.7 1367.2 L929.2 1367.0 L930.2 1366.7 L931.2 1366.4 L932.2 1366.1 L933.2 1365.8 L934.2 1365.6 L935.2 1365.3 L936.2 1365.0 L937.2 1364.8 L938.2 1364.6 L939.2 1364.3 L940.2 1364.1 L941.2 1363.8 L942.2 1363.5 L943.2 1363.3 L943.2 1363.3 L944.2 1363.0 L945.2 1362.7 L946.2 1362.4 L947.2 1362.1 L948.2 1361.8 L949.2 1361.5 L950.2 1361.2 L951.2 1360.9 L952.2 1360.6 L953.2 1360.3 L954.2 1360.0 L955.2 1359.8 L956.2 1359.6 L957.2 1359.4 L957.2 1359.4 L958.2 1359.2 L959.2 1359.1 L960.2 1358.9 L961.2 1358.8 L962.2 1358.7 L963.2 1358.6 L964.2 1358.4 L965.2 1358.3 L966.2 1358.2 L967.2 1358.1 L968.1 1358.0 L968.2 1358.0 L969.2 1357.9 L970.2 1357.7 L971.2 1357.6 L972.2 1357.5 L973.2 1357.4 L974.2 1357.3 L975.2 1357.2 L976.2 1357.1 L977.2 1356.9 L978.2 1356.8 L979.2 1356.7 L980.2 1356.6 L981.2 1356.4 L982.2 1356.3 L983.2 1356.2 L984.2 1356.0 L985.2 1355.9 L985.7 1355.8 L986.2 1355.7 L987.2 1355.5 L988.2 1355.2 L989.2 1354.9 L990.2 1354.6 L991.2 1354.4 L992.2 1354.1 L993.2 1353.9 L994.2 1353.7 L995.2 1353.5 L995.2 1353.5 L996.2 1353.4 L997.2 1353.3 L998.2 1353.3 L999.2 1353.2 L1000.2 1353.1 L1001.2 1353.0 L1002.2 1352.9 L1003.2 1352.9 L1004.2 1352.8 L1005.2 1352.8 L1006.2 1352.7 L1007.2 1352.7 L1008.2 1352.7 L1008.6 1352.7 L1009.2 1352.7 L1010.2 1352.7 L1011.2 1352.7 L1012.2 1352.7 L1013.2 1352.7 L1014.2 1352.7 L1015.2 1352.7 L1016.2 1352.7 L1016.8 1352.7 L1017.2 1352.7 L1018.2 1352.5 L1019.2 1352.2 L1020.2 1351.7 L1020.9 1351.3 L1021.2 1350.8 L1022.2 1346.2 L1023.2 1339.2 L1024.2 1332.3 L1024.3 1331.6 L1025.2 1326.7 L1026.2 1321.2 L1027.2 1315.7 L1028.2 1310.4 L1029.0 1306.0 L1029.2 1305.3 L1030.2 1300.2 L1031.2 1295.3 L1032.2 1290.6 L1033.2 1286.4 L1033.8 1284.4 L1034.2 1283.0 L1035.2 1279.9 L1036.2 1277.2 L1037.2 1274.9 L1037.9 1273.5 L1038.2 1273.1 L1039.2 1271.5 L1040.2 1270.2 L1041.2 1269.2 L1041.9 1268.8 L1042.2 1268.7 L1043.2 1268.5 L1044.2 1268.2 L1045.2 1268.1 L1046.2 1268.0 L1046.7 1268.0 L1047.2 1268.0 L1048.2 1268.1 L1049.2 1268.3 L1050.2 1268.6 L1051.2 1268.9 L1052.1 1269.1 L1052.2 1269.1 L1053.2 1269.4 L1054.2 1269.6 L1055.2 1269.9 L1056.2 1270.2 L1057.2 1270.5 L1058.2 1270.8" stroke="#d95319" stroke-width="6.6" fill="none" stroke-linejoin="round" stroke-linecap="round"/>
</g>
<text x="600" y="1280.6" font-size="35" text-anchor="start" textLength="32.5" lengthAdjust="spacingAndGlyphs">14</text>
<text x="599.5" y="1390.6" font-size="35" text-anchor="start" textLength="33" lengthAdjust="spacingAndGlyphs">10</text>
<text x="614.5" y="1498.6" font-size="35" text-anchor="start" textLength="18" lengthAdjust="spacingAndGlyphs">6</text>
<text x="616" y="1607" font-size="35" text-anchor="start" textLength="16.5" lengthAdjust="spacingAndGlyphs">2</text>
<text x="606" y="1715.7" font-size="35" text-anchor="start" textLength="28" lengthAdjust="spacingAndGlyphs">-2</text>
<text x="654.8" y="1759.7" font-size="35" text-anchor="start" textLength="16.5" lengthAdjust="spacingAndGlyphs">0</text>
<text x="768.4" y="1759.7" font-size="35" text-anchor="start" textLength="13.5" lengthAdjust="spacingAndGlyphs">1</text>
<text x="880.3" y="1759.7" font-size="35" text-anchor="start" textLength="15.5" lengthAdjust="spacingAndGlyphs">2</text>
<text x="992.6" y="1759.7" font-size="35" text-anchor="start" textLength="16" lengthAdjust="spacingAndGlyphs">3</text>
<text x="797.6" y="1800.3" font-size="36" text-anchor="start" textLength="117" lengthAdjust="spacingAndGlyphs"><tspan font-style="italic">t</tspan> in 10<tspan dy="-12.5" font-size="25">4</tspan><tspan dy="12.5" font-size="1">&#8203;</tspan></text>
<text x="1088.3" y="1144.5" font-size="34" text-anchor="start" textLength="430" lengthAdjust="spacingAndGlyphs">(d) entropy-production rate</text>
<text x="1137" y="1191" font-size="36" text-anchor="start" textLength="181" lengthAdjust="spacingAndGlyphs">∂<tspan dy="6" font-size="26" font-style="italic">t</tspan><tspan dy="-6" font-size="1">&#8203;</tspan><tspan font-style="italic">S</tspan> in 10<tspan dy="-12.5" font-size="25">−3</tspan><tspan dy="12.5" font-size="1">&#8203;</tspan></text>
<path d="M1200.97 1216.6V1715.6M1258.54 1216.6V1715.6M1316.11 1216.6V1715.6M1373.69 1216.6V1715.6M1431.26 1216.6V1715.6M1488.83 1216.6V1715.6" stroke="#000" stroke-opacity="0.135" stroke-width="4.8" fill="none"/>
<path d="M1143.4 1266.50H1546.4M1143.4 1316.40H1546.4M1143.4 1366.30H1546.4M1143.4 1416.20H1546.4M1143.4 1466.10H1546.4M1143.4 1516.00H1546.4M1143.4 1565.90H1546.4M1143.4 1615.80H1546.4M1143.4 1665.70H1546.4" stroke="#000" stroke-opacity="0.135" stroke-width="4.8" fill="none"/>
<clipPath id="cpd"><rect x="1140.8000000000002" y="1214.0" width="408.2" height="504.2"/></clipPath>
<path d="M1200.97 1216.6v7.0M1200.97 1715.6v-7.0M1258.54 1216.6v7.0M1258.54 1715.6v-7.0M1316.11 1216.6v7.0M1316.11 1715.6v-7.0M1373.69 1216.6v7.0M1373.69 1715.6v-7.0M1431.26 1216.6v7.0M1431.26 1715.6v-7.0M1488.83 1216.6v7.0M1488.83 1715.6v-7.0M1143.4 1266.50h7.0M1546.4 1266.50h-7.0M1143.4 1316.40h7.0M1546.4 1316.40h-7.0M1143.4 1366.30h7.0M1546.4 1366.30h-7.0M1143.4 1416.20h7.0M1546.4 1416.20h-7.0M1143.4 1466.10h7.0M1546.4 1466.10h-7.0M1143.4 1516.00h7.0M1546.4 1516.00h-7.0M1143.4 1565.90h7.0M1546.4 1565.90h-7.0M1143.4 1615.80h7.0M1546.4 1615.80h-7.0M1143.4 1665.70h7.0M1546.4 1665.70h-7.0" stroke="#262626" stroke-width="4.8" fill="none"/>
<rect x="1143.4" y="1216.6" width="403.0" height="499.0" fill="none" stroke="#262626" stroke-width="5.2"/>
<g clip-path="url(#cpd)">
<path d="M1147.5 1711.4 L1148.5 1694.8 L1149.4 1679.5 L1150.4 1665.9 L1150.8 1661.2 L1151.4 1654.2 L1152.3 1643.8 L1153.3 1634.3 L1154.2 1625.6 L1154.9 1619.5 L1155.2 1617.5 L1156.1 1609.8 L1157.1 1602.6 L1158.0 1595.9 L1159.0 1589.8 L1159.9 1584.6 L1159.9 1584.3 L1160.9 1579.5 L1161.8 1575.1 L1162.8 1571.0 L1163.7 1567.2 L1164.7 1563.7 L1164.7 1563.7 L1165.6 1560.4 L1166.6 1557.1 L1167.5 1554.1 L1168.5 1551.2 L1169.4 1548.7 L1170.2 1546.9 L1170.4 1546.6 L1171.3 1544.7 L1172.3 1542.9 L1173.2 1541.2 L1174.2 1539.7 L1175.2 1538.3 L1176.1 1537.1 L1177.1 1536.0 L1177.1 1536.0 L1178.0 1535.1 L1179.0 1534.3 L1179.9 1533.5 L1180.9 1532.8 L1181.8 1532.1 L1182.8 1531.5 L1183.7 1531.0 L1184.7 1530.6 L1185.5 1530.2 L1185.6 1530.2 L1186.6 1529.9 L1187.5 1529.5 L1188.5 1529.2 L1189.4 1528.9 L1190.4 1528.7 L1191.3 1528.5 L1192.3 1528.3 L1193.2 1528.2 L1193.8 1528.2 L1194.2 1528.2 L1195.1 1528.2 L1196.1 1528.2 L1197.0 1528.2 L1198.0 1528.2 L1198.9 1528.2 L1199.9 1528.2 L1200.9 1528.2 L1201.8 1528.2 L1202.8 1528.2 L1203.7 1528.2 L1204.7 1528.2 L1205.6 1528.2 L1206.6 1528.2 L1207.5 1528.2 L1207.6 1528.2 L1208.5 1528.2 L1209.4 1528.2 L1210.4 1528.2 L1211.3 1528.1 L1212.3 1528.1 L1213.2 1528.0 L1214.2 1528.0 L1215.1 1527.9 L1216.1 1527.8 L1217.0 1527.8 L1218.0 1527.7 L1218.9 1527.6 L1219.9 1527.5 L1220.2 1527.5 L1220.8 1527.4 L1221.8 1527.3 L1222.7 1527.2 L1223.7 1527.0 L1224.7 1526.9 L1225.6 1526.7 L1226.6 1526.5 L1227.5 1526.3 L1228.5 1526.1 L1229.4 1525.9 L1230.4 1525.6 L1231.3 1525.4 L1232.3 1525.2 L1233.2 1524.9 L1234.0 1524.7 L1234.2 1524.7 L1235.1 1524.4 L1236.1 1524.2 L1237.0 1523.9 L1238.0 1523.6 L1238.9 1523.2 L1239.9 1522.9 L1240.8 1522.5 L1241.8 1522.2 L1242.7 1521.8 L1243.7 1521.4 L1244.6 1521.1 L1245.6 1520.7 L1246.5 1520.3 L1247.5 1519.9 L1247.9 1519.7 L1248.4 1519.5 L1249.4 1519.2 L1250.4 1518.8 L1251.3 1518.4 L1252.3 1518.0 L1253.2 1517.6 L1254.2 1517.1 L1255.1 1516.7 L1256.1 1516.3 L1257.0 1515.8 L1258.0 1515.3 L1258.5 1515.0 L1258.9 1514.8 L1259.9 1514.3 L1260.8 1513.7 L1261.8 1513.1 L1262.7 1512.5 L1263.7 1511.8 L1264.6 1511.1 L1265.6 1510.5 L1266.5 1509.8 L1267.5 1509.1 L1268.4 1508.4 L1269.4 1507.6 L1270.3 1506.9 L1271.3 1506.2 L1272.2 1505.5 L1273.2 1504.8 L1274.2 1504.1 L1275.1 1503.4 L1275.7 1503.0 L1276.1 1502.8 L1277.0 1502.2 L1278.0 1501.5 L1278.9 1500.9 L1279.9 1500.3 L1280.8 1499.7 L1281.8 1499.0 L1282.7 1498.4 L1283.7 1497.8 L1284.6 1497.3 L1285.6 1496.7 L1286.5 1496.0 L1287.5 1495.3 L1288.4 1494.5 L1289.4 1493.7 L1289.7 1493.4 L1290.3 1492.9 L1291.3 1492.3 L1292.2 1491.6 L1293.2 1490.9 L1294.1 1490.0 L1295.1 1489.1 L1296.0 1488.0 L1297.0 1487.0 L1297.9 1486.2 L1298.9 1485.4 L1299.9 1484.7 L1300.8 1483.9 L1301.8 1482.9 L1302.7 1481.7 L1303.7 1480.5 L1304.6 1479.4 L1305.6 1478.4 L1306.5 1477.6 L1307.5 1476.8 L1308.4 1475.9 L1309.4 1474.8 L1310.3 1473.5 L1311.3 1472.1 L1312.2 1470.8 L1313.2 1469.8 L1314.1 1468.9 L1315.1 1468.1 L1316.0 1467.1 L1316.1 1467.0 L1317.0 1465.9 L1317.9 1464.4 L1318.9 1462.8 L1319.8 1461.3 L1320.8 1460.0 L1321.7 1458.9 L1322.7 1457.9 L1323.7 1456.7 L1324.6 1455.2 L1325.6 1453.4 L1326.5 1451.5 L1327.5 1449.8 L1328.4 1448.4 L1329.4 1447.3 L1330.3 1446.2 L1331.3 1445.0 L1332.2 1443.4 L1333.2 1441.5 L1334.1 1439.6 L1335.1 1437.9 L1336.0 1436.6 L1337.0 1435.6 L1337.9 1434.7 L1338.9 1433.7 L1339.8 1432.3 L1340.1 1431.9 L1340.8 1430.6 L1341.7 1428.8 L1342.7 1427.3 L1343.6 1426.2 L1344.6 1425.5 L1345.5 1424.9 L1346.5 1424.0 L1347.4 1422.7 L1348.4 1421.1 L1349.4 1419.3 L1350.3 1417.9 L1351.3 1416.9 L1352.2 1416.3 L1353.2 1415.9 L1354.1 1415.1 L1355.1 1413.8 L1356.0 1412.2 L1357.0 1410.4 L1357.9 1409.0 L1358.9 1408.1 L1359.8 1407.6 L1360.8 1407.2 L1361.7 1406.4 L1362.7 1405.2 L1363.6 1403.5 L1364.6 1401.6 L1365.5 1400.2 L1366.5 1399.2 L1367.4 1398.8 L1368.4 1398.4 L1369.3 1397.6 L1370.3 1396.3 L1371.2 1394.4 L1372.2 1392.5 L1373.2 1390.9 L1373.7 1390.2 L1374.1 1389.9 L1375.1 1389.4 L1376.0 1389.0 L1377.0 1388.1 L1377.9 1386.6 L1378.9 1384.6 L1379.8 1382.6 L1380.8 1380.9 L1381.7 1379.8 L1382.7 1379.3 L1383.6 1378.9 L1384.6 1378.0 L1385.5 1376.5 L1386.5 1374.4 L1387.4 1372.2 L1388.4 1370.4 L1389.3 1369.4 L1390.3 1369.0 L1391.2 1368.6 L1392.2 1367.7 L1393.1 1366.2 L1394.1 1364.0 L1395.0 1361.8 L1396.0 1360.1 L1396.9 1359.1 L1397.9 1358.8 L1398.9 1358.5 L1398.9 1358.5 L1399.8 1357.7 L1400.8 1356.2 L1401.7 1354.0 L1402.7 1351.8 L1403.6 1350.1 L1404.6 1349.2 L1405.5 1348.9 L1406.5 1348.7 L1407.4 1347.9 L1408.4 1346.3 L1409.3 1344.1 L1410.3 1341.8 L1411.2 1340.1 L1412.2 1339.3 L1413.1 1339.1 L1414.1 1338.9 L1415.0 1338.2 L1416.0 1336.6 L1416.9 1334.3 L1417.9 1332.0 L1418.8 1330.3 L1419.8 1329.6 L1420.7 1329.5 L1421.7 1329.4 L1422.7 1328.8 L1423.6 1327.2 L1424.6 1324.9 L1425.5 1322.6 L1426.5 1321.0 L1427.4 1320.3 L1428.4 1320.4 L1429.3 1320.5 L1430.3 1319.9 L1431.2 1318.4 L1431.3 1318.3 L1432.2 1316.1 L1433.1 1313.9 L1434.1 1312.3 L1435.0 1311.8 L1436.0 1312.0 L1436.9 1312.2 L1437.9 1311.7 L1438.8 1310.2 L1439.8 1307.9 L1440.7 1305.7 L1441.7 1304.2 L1442.6 1303.7 L1443.6 1304.0 L1444.5 1304.4 L1445.5 1303.9 L1446.4 1302.4 L1447.4 1300.2 L1448.4 1297.9 L1449.3 1296.5 L1450.3 1296.1 L1451.2 1296.6 L1452.2 1297.0 L1453.1 1296.6 L1454.1 1295.1 L1455.0 1292.9 L1456.0 1290.6 L1456.9 1289.2 L1457.7 1289.0 L1457.9 1289.0 L1458.8 1289.6 L1459.8 1290.1 L1460.7 1289.8 L1461.7 1288.4 L1462.6 1286.1 L1463.6 1283.9 L1464.5 1282.6 L1465.5 1282.4 L1466.4 1283.2 L1467.4 1283.8 L1468.3 1283.6 L1469.3 1282.1 L1470.2 1279.9 L1471.2 1277.7 L1472.2 1276.4 L1473.1 1276.3 L1474.1 1277.2 L1475.0 1277.9 L1476.0 1277.7 L1476.9 1276.2 L1477.9 1273.9 L1478.8 1271.6 L1479.8 1270.4 L1480.7 1270.4 L1481.7 1271.2 L1482.6 1272.0 L1483.6 1271.8 L1484.5 1270.2 L1485.5 1267.8 L1486.4 1265.5 L1487.4 1264.2 L1488.3 1264.2 L1488.8 1264.6 L1489.3 1265.1 L1490.2 1265.8 L1491.2 1265.5 L1492.1 1263.8 L1493.1 1261.1 L1494.0 1258.7 L1495.0 1257.2 L1495.9 1257.3 L1496.9 1258.2 L1497.9 1259.1 L1498.8 1258.9 L1499.5 1257.9 L1499.8 1257.4 L1500.7 1255.0 L1501.7 1252.8 L1502.6 1251.7 L1503.6 1252.0 L1504.5 1253.3 L1505.5 1254.4 L1506.4 1254.5 L1507.4 1253.2 L1508.3 1251.0 L1509.3 1249.1 L1509.6 1248.8 L1510.2 1248.4 L1511.2 1249.2 L1512.1 1250.9 L1513.1 1252.4 L1514.0 1252.8 L1515.0 1251.7 L1515.9 1249.8 L1516.9 1248.1 L1517.8 1247.6 L1518.1 1247.7 L1518.8 1248.6 L1519.7 1250.7 L1520.7 1252.7 L1521.7 1253.8 L1522.6 1253.4 L1523.6 1252.3 L1524.5 1251.5 L1525.5 1251.9 L1526.4 1253.7 L1526.5 1253.9 L1527.4 1256.6 L1528.3 1259.4 L1529.3 1261.2 L1530.2 1261.8 L1531.2 1261.6 L1532.1 1261.6 L1533.1 1262.9 L1534.0 1265.6 L1534.9 1268.7 L1535.0 1269.1 L1535.9 1272.2 L1536.9 1274.2 L1537.8 1274.8 L1538.8 1274.5 L1539.7 1274.5 L1540.7 1275.7 L1541.6 1278.3 L1542.6 1281.8 L1543.5 1285.0 L1544.5 1287.1 L1545.4 1287.7 L1546.4 1287.5" stroke="#0072bd" stroke-width="6.4" fill="none" stroke-linejoin="round" stroke-linecap="butt"/>
<path d="M1147.5 1689.2 L1148.5 1664.1 L1149.4 1642.4 L1150.4 1625.0 L1150.8 1619.5 L1151.4 1612.2 L1152.3 1602.2 L1153.3 1593.8 L1153.5 1591.6 L1154.2 1586.3 L1155.2 1579.5 L1156.1 1573.3 L1157.1 1567.6 L1157.8 1563.7 L1158.0 1562.5 L1159.0 1557.8 L1159.9 1553.5 L1160.9 1549.5 L1161.8 1545.7 L1162.6 1542.7 L1162.8 1542.2 L1163.7 1538.7 L1164.7 1535.5 L1165.6 1532.4 L1166.6 1529.7 L1167.5 1527.5 L1167.5 1527.3 L1168.5 1525.2 L1169.4 1523.2 L1170.4 1521.4 L1171.3 1519.8 L1172.3 1518.5 L1173.0 1517.7 L1173.2 1517.5 L1174.2 1516.7 L1175.2 1515.9 L1176.1 1515.1 L1177.1 1514.5 L1178.0 1514.0 L1179.0 1513.7 L1179.9 1513.5 L1180.0 1513.5 L1180.9 1513.5 L1181.8 1513.4 L1182.8 1513.4 L1183.7 1513.3 L1184.7 1513.3 L1185.6 1513.3 L1186.6 1513.3 L1187.5 1513.3 L1188.3 1513.3 L1188.5 1513.3 L1189.4 1513.3 L1190.4 1513.4 L1191.3 1513.6 L1192.3 1513.8 L1193.2 1514.0 L1194.2 1514.2 L1195.1 1514.5 L1196.1 1514.8 L1197.0 1515.0 L1198.0 1515.2 L1198.9 1515.4 L1199.4 1515.5 L1199.9 1515.6 L1200.9 1515.8 L1201.8 1515.9 L1202.8 1516.1 L1203.7 1516.3 L1204.7 1516.5 L1205.6 1516.7 L1206.6 1516.8 L1207.5 1517.0 L1208.5 1517.1 L1209.4 1517.3 L1210.4 1517.4 L1211.3 1517.4 L1212.3 1517.5 L1213.2 1517.5 L1213.3 1517.5 L1214.2 1517.5 L1215.1 1517.5 L1216.1 1517.4 L1217.0 1517.4 L1218.0 1517.3 L1218.9 1517.3 L1219.9 1517.2 L1220.8 1517.1 L1221.8 1517.1 L1222.7 1517.0 L1223.7 1516.9 L1224.7 1516.8 L1225.6 1516.7 L1226.6 1516.6 L1227.1 1516.5 L1227.5 1516.5 L1228.5 1516.3 L1229.4 1516.2 L1230.4 1516.0 L1231.3 1515.8 L1232.3 1515.5 L1233.2 1515.3 L1234.2 1515.0 L1235.1 1514.7 L1236.1 1514.4 L1237.0 1514.1 L1238.0 1513.8 L1238.9 1513.5 L1239.9 1513.2 L1240.8 1512.8 L1241.0 1512.8 L1241.8 1512.5 L1242.7 1512.1 L1243.7 1511.7 L1244.6 1511.3 L1245.6 1510.9 L1246.5 1510.5 L1247.5 1510.0 L1248.4 1509.5 L1249.4 1509.0 L1250.4 1508.5 L1251.3 1508.0 L1252.3 1507.5 L1253.2 1506.9 L1254.2 1506.4 L1255.1 1505.8 L1256.1 1505.3 L1257.0 1504.7 L1258.0 1504.1 L1258.5 1503.8 L1258.9 1503.5 L1259.9 1503.0 L1260.8 1502.3 L1261.8 1501.7 L1262.7 1501.1 L1263.7 1500.4 L1264.6 1499.8 L1265.6 1499.1 L1266.5 1498.4 L1267.5 1497.7 L1268.4 1497.0 L1269.4 1496.2 L1270.3 1495.5 L1271.3 1494.7 L1272.2 1494.0 L1273.2 1493.2 L1274.2 1492.4 L1275.1 1491.6 L1275.7 1491.0 L1276.1 1490.7 L1277.0 1489.9 L1278.0 1489.0 L1278.9 1488.1 L1279.9 1487.2 L1280.8 1486.2 L1281.8 1485.2 L1282.7 1484.3 L1283.7 1483.2 L1284.6 1482.2 L1285.6 1481.2 L1286.5 1480.2 L1287.5 1479.1 L1288.4 1478.0 L1289.4 1477.0 L1289.7 1476.6 L1290.3 1475.9 L1291.3 1474.8 L1292.2 1473.8 L1293.2 1472.7 L1294.1 1471.6 L1295.1 1470.5 L1296.0 1469.3 L1297.0 1468.2 L1297.9 1467.0 L1298.9 1465.9 L1299.9 1464.9 L1300.8 1463.8 L1301.8 1462.6 L1302.7 1461.3 L1303.7 1460.1 L1304.6 1458.8 L1305.6 1457.6 L1306.5 1456.5 L1307.5 1455.4 L1308.4 1454.2 L1309.4 1453.0 L1310.3 1451.7 L1311.3 1450.3 L1312.2 1448.9 L1313.2 1447.7 L1314.1 1446.5 L1315.1 1445.4 L1316.0 1444.2 L1316.1 1444.1 L1317.0 1442.9 L1317.9 1441.4 L1318.9 1439.9 L1319.8 1438.4 L1320.8 1437.0 L1321.7 1435.8 L1322.7 1434.6 L1323.7 1433.2 L1324.6 1431.7 L1325.6 1430.1 L1326.5 1428.4 L1327.5 1426.8 L1328.4 1425.4 L1329.4 1424.1 L1330.3 1422.9 L1331.3 1421.5 L1332.2 1420.0 L1333.2 1418.3 L1334.1 1416.6 L1335.1 1415.0 L1336.0 1413.6 L1337.0 1412.4 L1337.9 1411.3 L1338.9 1410.1 L1339.8 1408.6 L1340.1 1408.2 L1340.8 1407.0 L1341.7 1405.3 L1342.7 1403.8 L1343.6 1402.6 L1344.6 1401.5 L1345.5 1400.5 L1346.5 1399.4 L1347.4 1398.0 L1348.4 1396.4 L1349.4 1394.7 L1350.3 1393.2 L1351.3 1392.0 L1352.2 1391.0 L1353.2 1390.1 L1354.1 1389.0 L1355.1 1387.6 L1356.0 1386.0 L1357.0 1384.3 L1357.9 1382.8 L1358.9 1381.6 L1359.8 1380.7 L1360.8 1379.9 L1361.7 1378.8 L1362.7 1377.5 L1363.6 1375.8 L1364.6 1374.1 L1365.5 1372.7 L1366.5 1371.5 L1367.4 1370.7 L1368.4 1369.9 L1369.3 1368.9 L1370.3 1367.5 L1371.2 1365.8 L1372.2 1364.1 L1373.2 1362.6 L1373.7 1361.9 L1374.1 1361.5 L1375.1 1360.7 L1376.0 1360.0 L1377.0 1359.0 L1377.9 1357.6 L1378.9 1355.9 L1379.8 1354.1 L1380.8 1352.7 L1381.7 1351.6 L1382.7 1350.8 L1383.6 1350.1 L1384.6 1349.2 L1385.5 1347.8 L1386.5 1346.1 L1387.4 1344.3 L1388.4 1342.9 L1389.3 1341.8 L1390.3 1341.2 L1391.2 1340.5 L1392.2 1339.6 L1393.1 1338.3 L1394.1 1336.5 L1395.0 1334.8 L1396.0 1333.3 L1396.9 1332.4 L1397.9 1331.8 L1398.9 1331.2 L1398.9 1331.2 L1399.8 1330.4 L1400.8 1329.0 L1401.7 1327.3 L1402.7 1325.5 L1403.6 1324.1 L1404.6 1323.2 L1405.5 1322.7 L1406.5 1322.2 L1407.4 1321.4 L1408.4 1320.0 L1409.3 1318.3 L1410.3 1316.5 L1411.2 1315.1 L1412.2 1314.2 L1413.1 1313.8 L1414.1 1313.3 L1415.0 1312.6 L1416.0 1311.2 L1416.9 1309.5 L1417.9 1307.7 L1418.8 1306.3 L1419.8 1305.5 L1420.7 1305.1 L1421.7 1304.8 L1422.7 1304.0 L1423.6 1302.7 L1424.6 1300.9 L1425.5 1299.1 L1426.5 1297.8 L1427.4 1297.0 L1428.4 1296.8 L1429.3 1296.5 L1430.3 1295.8 L1431.2 1294.5 L1431.3 1294.4 L1432.2 1292.7 L1433.1 1291.0 L1434.1 1289.6 L1435.0 1289.0 L1436.0 1288.8 L1436.9 1288.6 L1437.9 1288.0 L1438.8 1286.7 L1439.8 1284.9 L1440.7 1283.1 L1441.7 1281.8 L1442.6 1281.2 L1443.6 1281.1 L1444.5 1281.0 L1445.5 1280.5 L1446.4 1279.2 L1447.4 1277.4 L1448.4 1275.6 L1449.3 1274.4 L1450.3 1273.8 L1451.2 1273.8 L1452.2 1273.8 L1453.1 1273.3 L1454.1 1272.0 L1455.0 1270.2 L1456.0 1268.4 L1456.9 1267.2 L1457.7 1266.8 L1457.9 1266.7 L1458.8 1266.8 L1459.8 1266.9 L1460.7 1266.4 L1461.7 1265.1 L1462.6 1263.3 L1463.6 1261.5 L1464.5 1260.4 L1465.5 1260.0 L1466.4 1260.1 L1467.4 1260.2 L1468.3 1259.8 L1469.3 1258.5 L1470.2 1256.7 L1471.2 1254.9 L1472.2 1253.7 L1473.1 1253.4 L1474.1 1253.6 L1475.0 1253.8 L1476.0 1253.4 L1476.9 1252.1 L1477.9 1250.3 L1478.8 1248.5 L1479.8 1247.4 L1480.7 1247.1 L1481.7 1247.4 L1482.6 1247.7 L1483.6 1247.3 L1484.5 1246.1 L1485.5 1244.2 L1486.4 1242.5 L1487.4 1241.4 L1488.3 1241.2 L1488.8 1241.4 L1489.3 1241.6 L1490.2 1241.9 L1491.2 1241.5 L1492.1 1240.3 L1493.1 1238.4 L1494.0 1236.6 L1495.0 1235.6 L1495.9 1235.5 L1496.9 1236.0 L1497.9 1236.5 L1498.8 1236.3 L1499.5 1235.5 L1499.8 1235.2 L1500.7 1233.5 L1501.7 1231.9 L1502.6 1231.0 L1503.6 1231.1 L1504.5 1231.9 L1505.5 1232.6 L1506.4 1232.7 L1507.4 1231.9 L1507.9 1231.1 L1508.3 1230.6 L1509.3 1229.5 L1510.2 1229.2 L1511.2 1229.9 L1512.1 1231.2 L1513.1 1232.4 L1514.0 1232.8 L1515.0 1232.2 L1515.9 1231.0 L1516.3 1230.5 L1516.9 1230.0 L1517.8 1230.1 L1518.8 1231.5 L1519.7 1233.7 L1520.7 1235.9 L1521.7 1237.5 L1522.6 1238.1 L1523.6 1238.1 L1524.5 1238.3 L1524.8 1238.5 L1525.5 1239.4 L1526.4 1241.7 L1527.4 1244.8 L1528.3 1247.9 L1529.3 1250.3 L1530.2 1251.6 L1531.2 1252.4 L1532.1 1253.3 L1533.1 1254.9 L1533.2 1255.1 L1534.0 1257.4 L1535.0 1260.5 L1535.9 1263.4 L1536.9 1265.4 L1537.8 1266.5 L1538.8 1266.9 L1539.7 1267.5 L1540.7 1268.9 L1541.6 1271.3 L1542.6 1274.3 L1543.5 1277.1 L1544.5 1279.0 L1545.4 1279.9 L1546.4 1280.1" stroke="#d95319" stroke-width="6.4" fill="none" stroke-linejoin="round" stroke-linecap="butt"/>
</g>
<text x="1088.7" y="1231.6" font-size="35" text-anchor="start" textLength="33.5" lengthAdjust="spacingAndGlyphs">28</text>
<text x="1089.5" y="1330" font-size="35" text-anchor="start" textLength="33" lengthAdjust="spacingAndGlyphs">24</text>
<text x="1089.5" y="1426.8" font-size="35" text-anchor="start" textLength="33" lengthAdjust="spacingAndGlyphs">20</text>
<text x="1090.5" y="1522.3" font-size="35" text-anchor="start" textLength="32" lengthAdjust="spacingAndGlyphs">16</text>
<text x="1090.5" y="1617.4" font-size="35" text-anchor="start" textLength="32" lengthAdjust="spacingAndGlyphs">12</text>
<text x="1105" y="1712.2" font-size="35" text-anchor="start" textLength="16.5" lengthAdjust="spacingAndGlyphs">8</text>
<text x="1142.9" y="1759.7" font-size="35" text-anchor="start" textLength="16.5" lengthAdjust="spacingAndGlyphs">0</text>
<text x="1256.6" y="1759.7" font-size="35" text-anchor="start" textLength="13" lengthAdjust="spacingAndGlyphs">1</text>
<text x="1368" y="1759.7" font-size="35" text-anchor="start" textLength="15.5" lengthAdjust="spacingAndGlyphs">2</text>
<text x="1480" y="1759.7" font-size="35" text-anchor="start" textLength="15.5" lengthAdjust="spacingAndGlyphs">3</text>
<text x="1285.4" y="1800.3" font-size="36" text-anchor="start" textLength="116.5" lengthAdjust="spacingAndGlyphs"><tspan font-style="italic">t</tspan> in 10<tspan dy="-12.5" font-size="25">4</tspan><tspan dy="12.5" font-size="1">&#8203;</tspan></text>
</svg></body></html>
